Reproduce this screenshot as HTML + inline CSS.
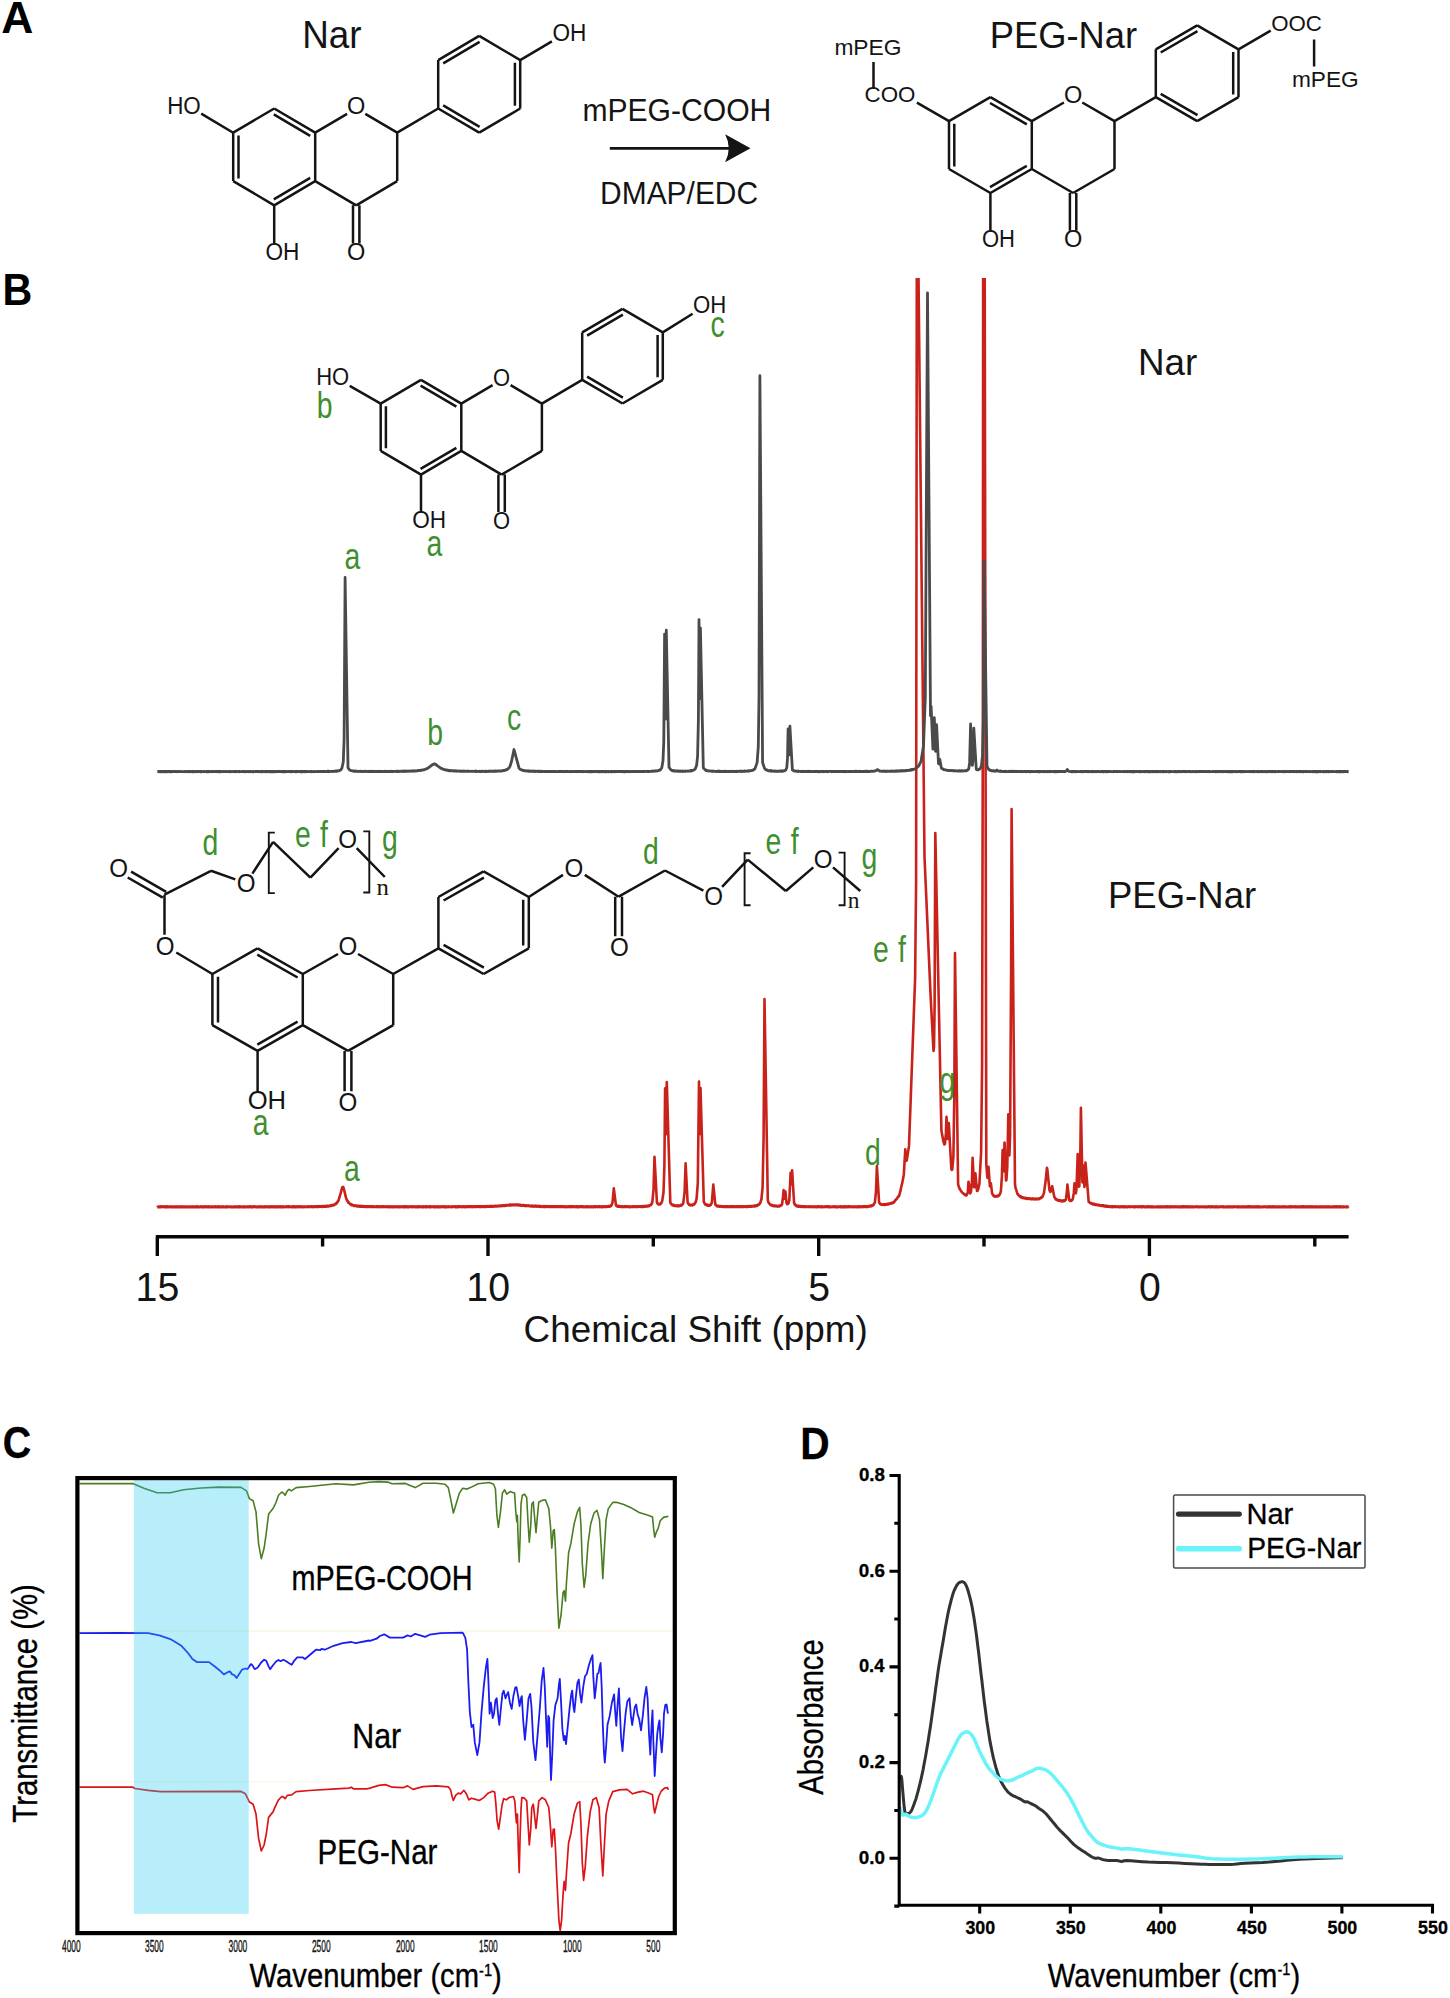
<!DOCTYPE html>
<html lang="en"><head><meta charset="utf-8"><title>Figure</title>
<style>
html,body{margin:0;padding:0;background:#fff}
svg{display:block;font-family:"Liberation Sans",Arial,Helvetica,sans-serif}
text{white-space:pre}
</style></head><body>
<svg width="1450" height="1998" viewBox="0 0 1450 1998">
<rect width="1450" height="1998" fill="#fff"/>
<g fill="none" stroke="#141414" stroke-linecap="butt" stroke-linejoin="miter">
<path d="M274.2,108.5 L315.2,132.7 M315.2,132.7 L315.2,181.1 M315.2,181.1 L274.2,205.3 M274.2,205.3 L233.2,181.1 M233.2,181.1 L233.2,132.7 M233.2,132.7 L274.2,108.5 M273.8,114.4 L310.2,135.9 M238.5,135.4 L238.5,178.4 M273.8,199.4 L310.2,177.9 M315.2,132.7 L347.1,113.9 M365.3,113.9 L397.2,132.7 M397.2,132.7 L397.2,181.1 M397.2,181.1 L356.2,205.3 M356.2,205.3 L315.2,181.1 M353,205.3 L353,243.6 M359.4,205.3 L359.4,243.6 M274.2,205.3 L274.2,243.1 M397.2,132.7 L438.2,108.5 M438.2,108.5 L438.2,60.1 M438.2,60.1 L479.2,35.9 M479.2,35.9 L520.2,60.1 M520.2,60.1 L520.2,108.5 M520.2,108.5 L479.2,132.7 M479.2,132.7 L438.2,108.5 M443.2,63.3 L479.6,41.8 M514.9,62.8 L514.9,105.8 M479.6,126.8 L443.2,105.3" stroke-width="2.5"/>
<path d="M233.2,132.7 L201.2,113.6 M520.2,60.1 L551.9,41.3" stroke-width="2.5"/>
<path d="M609.8,148.3 L733,148.3" stroke-width="2.7"/>
<path d="M750.5,148.3 L725.1,134.3 Q732.5,148.3 725.1,162.2 Z" fill="#141414" stroke="none"/>
<path d="M990.4,97.2 L1031.8,121.1 M1031.8,121.1 L1031.8,169 M1031.8,169 L990.4,193 M990.4,193 L949,169 M949,169 L949,121.1 M949,121.1 L990.4,97.2 M990,103 L1026.8,124.3 M954.3,123.7 L954.3,166.4 M990,187.1 L1026.8,165.8 M1031.8,121.1 L1063.9,102.5 M1082.3,102.5 L1114.5,121.1 M1114.5,121.1 L1114.5,169 M1114.5,169 L1073.1,193 M1073.1,193 L1031.8,169 M1069.9,193 L1069.9,230.7 M1076.3,193 L1076.3,230.7 M990.4,193 L990.4,230.8 M1114.5,121.1 L1155.8,97.2 M1155.8,97.2 L1155.8,49.3 M1155.8,49.3 L1197.2,25.3 M1197.2,25.3 L1238.5,49.3 M1238.5,49.3 L1238.5,97.2 M1238.5,97.2 L1197.2,121.1 M1197.2,121.1 L1155.8,97.2 M1160.7,52.5 L1197.5,31.2 M1233.2,51.9 L1233.2,94.5 M1197.5,115.2 L1160.7,93.9" stroke-width="2.5"/>
<path d="M949,121.1 L916.9,102.6 M873.5,62 L873.5,88.5 M1238.5,49.3 L1270.7,30.6 M1314.1,39.6 L1314.1,66.4" stroke-width="2.5"/>
</g>
<g fill="#141414" stroke="none">
<text x="347.1" y="114.4" font-size="23.5" textLength="18.3" lengthAdjust="spacingAndGlyphs">O</text>
<text x="347.1" y="260.4" font-size="23.5" textLength="18.3" lengthAdjust="spacingAndGlyphs">O</text>
<text x="265.4" y="259.6" font-size="23.5" textLength="33.9" lengthAdjust="spacingAndGlyphs">OH</text>
<text x="167.2" y="113.9" font-size="23.5" textLength="33.6" lengthAdjust="spacingAndGlyphs">HO</text>
<text x="552.4" y="41.2" font-size="23.5" textLength="33.9" lengthAdjust="spacingAndGlyphs">OH</text>
<text x="302.3" y="48" font-size="38" textLength="59.3" lengthAdjust="spacingAndGlyphs">Nar</text>
<text x="582.4" y="121" font-size="31.8" textLength="188.9" lengthAdjust="spacingAndGlyphs">mPEG-COOH</text>
<text x="600.1" y="203.7" font-size="31.5" textLength="158" lengthAdjust="spacingAndGlyphs">DMAP/EDC</text>
<text x="1064" y="103.1" font-size="23.5" textLength="18.3" lengthAdjust="spacingAndGlyphs">O</text>
<text x="1064" y="247.2" font-size="23.5" textLength="18.3" lengthAdjust="spacingAndGlyphs">O</text>
<text x="982" y="246.7" font-size="23.5" textLength="33" lengthAdjust="spacingAndGlyphs">OH</text>
<text x="834.4" y="54.9" font-size="22" textLength="67.1" lengthAdjust="spacingAndGlyphs">mPEG</text>
<text x="864.6" y="102.4" font-size="22.5" textLength="50.9" lengthAdjust="spacingAndGlyphs">COO</text>
<text x="1271.2" y="31" font-size="22.5" textLength="50.7" lengthAdjust="spacingAndGlyphs">OOC</text>
<text x="1291.9" y="87" font-size="22" textLength="66.8" lengthAdjust="spacingAndGlyphs">mPEG</text>
<text x="989.7" y="47.5" font-size="37.6" textLength="147.4" lengthAdjust="spacingAndGlyphs">PEG-Nar</text>
<text x="1.2" y="32.5" font-size="44" textLength="32.1" lengthAdjust="spacingAndGlyphs" font-weight="bold" fill="#000">A</text>
</g>
<g fill="none" stroke="#141414" stroke-linecap="butt" stroke-linejoin="miter">
<path d="M421,379.9 L461.3,403.6 M461.3,403.6 L461.3,450.9 M461.3,450.9 L421,474.6 M421,474.6 L380.7,450.9 M380.7,450.9 L380.7,403.6 M380.7,403.6 L421,379.9 M420.6,385.7 L456.4,406.7 M385.9,406.2 L385.9,448.3 M420.6,468.8 L456.4,447.8 M461.3,403.6 L492.6,385.1 M510.6,385.1 L541.9,403.6 M541.9,403.6 L541.9,450.9 M541.9,450.9 L501.6,474.6 M501.6,474.6 L461.3,450.9 M498.4,474.6 L498.4,512 M504.8,474.6 L504.8,512 M421,474.6 L421,512.2 M541.9,403.6 L582.2,379.8 M582.2,379.8 L582.2,332.4 M582.2,332.4 L622.5,308.8 M622.5,308.8 L662.8,332.4 M662.8,332.4 L662.8,379.8 M662.8,379.8 L622.5,403.5 M622.5,403.5 L582.2,379.8 M587.1,335.6 L622.9,314.6 M657.6,335.1 L657.6,377.2 M622.9,397.7 L587.1,376.7" stroke-width="2.5"/>
<path d="M380.7,403.6 L349.7,385.8 M662.8,332.4 L692.6,313.7" stroke-width="2.5"/>
<path d="M257.6,948.3 L302.8,974 M302.8,974 L302.8,1025.2 M302.8,1025.2 L257.6,1050.9 M257.6,1050.9 L212.4,1025.2 M212.4,1025.2 L212.4,974 M212.4,974 L257.6,948.3 M257.3,954.6 L297.6,977.5 M218,976.8 L218,1022.4 M257.3,1044.6 L297.6,1021.7 M302.8,974 L338,954 M358,954 L393.2,974 M393.2,974 L393.2,1025.2 M393.2,1025.2 L348,1050.9 M348,1050.9 L302.8,1025.2 M344.6,1050.9 L344.6,1091.2 M351.4,1050.9 L351.4,1091.2 M257.6,1050.9 L257.6,1092.7 M393.2,974 L438.4,948.3 M438.4,948.3 L438.4,897 M438.4,897 L483.6,871.4 M483.6,871.4 L528.8,897 M528.8,897 L528.8,948.3 M528.8,948.3 L483.6,974 M483.6,974 L438.4,948.3 M443.6,900.5 L483.9,877.7 M523.2,899.8 L523.2,945.5 M483.9,967.6 L443.6,944.8" stroke-width="2.5"/>
<path d="M212.4,974 L176.3,952.5 M164.5,934.8 L164.5,894.7 M166.2,891.8 L131.1,871.6 M162.8,897.6 L127.7,877.5 M164.5,894.7 L211,870.8 M211,870.8 L235.3,879.4 M252.4,873.6 L273.1,841.9 M273.1,841.9 L310.4,877.6 M310.4,877.6 L338.6,848.2 M356.7,848.1 L384.8,877 M528.8,897 L563,874.9 M584.8,874.9 L618.6,896.7 M615.2,896.7 L615.2,936.3 M622,896.7 L622,936.3 M618.6,896.7 L665,870.5 M665,870.5 L703.4,890.7 M722.1,886.9 L747.7,859.6 M747.7,859.6 L785.8,891 M785.8,891 L813.3,867.4 M833,867.4 L860.3,891" stroke-width="2.5"/>
<path d="M274.8,832.6 L268.8,832.6 L268.8,893.1 L274.8,893.1 M363.3,831.4 L369.3,831.4 L369.3,892.5 L363.3,892.5 M750.6,853.2 L744.6,853.2 L744.6,905.3 L750.6,905.3 M838.6,852.6 L844.6,852.6 L844.6,905.3 L838.6,905.3" stroke-width="1.9"/>
<clipPath id="cpB"><rect x="150" y="278" width="1210" height="960"/></clipPath>
<path d="M157.4,1207.1 157.5,1206.9 157.7,1207 157.9,1206.8 158.2,1207.2 158.3,1206.7 158.5,1207.1 158.7,1206.5 158.8,1206.9 158.9,1206.7 159,1206.9 159.2,1206.8 159.3,1207.1 159.5,1206.6 159.7,1206.9 159.9,1206.8 160,1207.2 160.2,1206.7 160.5,1207.2 160.7,1206.6 160.8,1206.9 161,1206.6 161.2,1206.7 161.3,1206.6 161.4,1207 161.5,1206.7 161.7,1206.9 161.8,1206.6 162.2,1207.1 162.4,1206.6 162.5,1206.9 162.7,1206.8 162.8,1207 163.4,1206.8 163.5,1206.6 163.7,1206.8 164,1206.5 164.3,1207.1 164.5,1206.6 164.8,1206.8 164.9,1206.7 165,1207.1 165.2,1206.7 165.5,1207.2 165.8,1206.5 165.9,1207.2 166,1206.7 166.3,1207.1 166.7,1206.6 166.8,1207.2 166.9,1206.8 167,1207.2 167.2,1206.7 167.3,1207 167.5,1206.6 167.7,1206.9 167.8,1206.5 168,1207.2 168.2,1206.8 168.3,1207.2 168.7,1206.8 168.9,1207.2 169,1206.6 169.2,1207 169.3,1206.6 169.5,1207 170.3,1206.8 170.4,1206.6 170.7,1206.9 170.8,1206.7 170.9,1207.1 171.2,1206.6 171.5,1207.2 171.8,1206.8 171.9,1207.2 172.2,1206.8 172.3,1207.2 172.4,1206.8 172.5,1206.9 172.7,1206.8 172.8,1207 173,1206.7 173.2,1207.2 173.5,1206.6 173.7,1207.1 173.9,1206.8 174.4,1207 174.5,1206.8 174.8,1207 174.9,1206.7 175,1207.2 175.3,1206.7 175.5,1207.1 175.7,1206.7 175.9,1207.1 176.2,1206.8 176.3,1207.2 176.7,1206.7 176.8,1206.9 176.9,1206.6 177,1207.1 177.4,1206.6 177.8,1207.2 177.9,1206.9 178,1207.1 178.3,1206.7 178.4,1207.1 178.7,1206.7 178.9,1206.7 179.2,1207.1 179.4,1206.7 179.5,1207 180,1207 180.2,1206.6 180.4,1207.2 180.5,1206.6 180.8,1206.5 180.9,1206.9 181.2,1206.6 181.3,1207.1 181.5,1206.7 182.3,1207.2 182.4,1206.8 182.5,1207 182.7,1206.7 182.8,1207.2 182.9,1206.6 183,1206.8 183.4,1206.6 183.7,1207.2 183.8,1206.7 183.9,1207.1 184.2,1206.8 184.4,1206.9 184.5,1206.6 184.9,1207.1 185,1206.6 185.2,1206.9 185.3,1206.7 185.5,1207.1 185.8,1206.7 185.9,1207.1 186.2,1206.6 186.4,1206.7 186.5,1207.2 186.8,1206.6 186.9,1207.2 187.3,1206.9 187.5,1206.9 187.7,1206.7 187.8,1207.2 188.3,1207.2 188.4,1206.6 188.7,1207.2 188.8,1206.9 189.2,1207 189.4,1206.8 189.7,1207.1 189.9,1207.2 190.2,1206.7 190.4,1207.2 190.9,1206.7 191,1207 191.2,1206.7 191.5,1207 191.8,1206.7 191.9,1206.9 192,1206.8 192.3,1207.1 192.5,1206.8 192.7,1207.2 193.2,1206.6 193.3,1207 193.4,1206.6 193.7,1207.1 193.8,1206.9 193.9,1207.2 194,1206.7 194.2,1206.8 194.8,1206.8 194.9,1207.2 195,1206.8 195.2,1207.2 195.4,1206.7 195.5,1207.2 195.8,1207.2 195.9,1206.6 196.2,1207.2 196.3,1206.6 196.4,1207.2 196.5,1206.6 196.9,1206.6 197,1206.8 197.2,1206.7 197.3,1207.2 197.4,1206.7 197.5,1206.9 197.7,1206.7 197.8,1207.2 198,1206.6 198.2,1207.2 198.5,1206.7 198.8,1207.1 199.2,1206.7 199.8,1206.9 199.9,1207.2 200.2,1206.6 200.3,1206.9 200.4,1206.7 200.5,1207.1 200.8,1206.7 201.2,1206.9 201.4,1206.6 201.7,1207.2 201.9,1206.6 202.2,1206.9 202.3,1206.7 202.4,1207.1 202.7,1207.1 202.8,1206.8 203,1207.1 203.3,1206.6 203.4,1207 203.5,1206.7 203.7,1206.9 203.8,1206.6 204.3,1207.2 204.4,1206.9 204.7,1207.1 205,1206.7 205.2,1207.1 205.3,1206.5 205.4,1206.9 205.7,1206.9 205.9,1206.7 206.2,1206.9 206.4,1206.6 206.5,1207 206.8,1206.6 207.2,1207.1 207.5,1206.6 207.9,1207.1 208.2,1207.1 208.5,1206.6 208.7,1207.1 208.8,1206.6 208.9,1207 209.2,1206.7 209.4,1207.2 209.5,1206.7 209.7,1207 210,1206.8 210.2,1207.2 210.5,1206.9 210.7,1207.1 210.9,1206.6 211,1207 211.2,1206.9 211.3,1207.2 211.5,1206.8 211.7,1207.2 211.9,1206.6 212,1207.2 212.2,1206.6 212.3,1207 212.5,1206.7 212.7,1207 213,1206.7 213.2,1207 213.4,1206.6 213.8,1207.2 213.9,1206.9 214,1207 214.4,1206.8 214.5,1207.1 214.8,1206.8 214.9,1207.1 215,1206.6 215.3,1207.1 215.4,1206.6 215.5,1207.1 215.8,1206.7 216.7,1207.2 216.9,1206.7 217,1206.9 217.2,1206.7 217.4,1207 217.7,1206.6 217.8,1207.2 217.9,1206.9 218,1207.1 218.2,1206.7 218.5,1207 218.8,1206.7 218.9,1207 219,1206.6 219.2,1207.2 219.5,1207.2 219.7,1206.7 220,1207.1 220.5,1206.7 220.8,1207.1 220.9,1207 221,1207.1 221.3,1206.8 221.5,1207.1 221.7,1206.7 221.8,1207.2 222.2,1206.6 222.3,1207 222.8,1206.5 223,1207 223.2,1206.6 223.3,1206.9 223.5,1206.7 223.7,1207.2 223.8,1206.7 224.4,1207.1 224.5,1206.9 224.7,1207.2 224.9,1206.8 225.2,1206.8 225.4,1206.6 225.5,1207.1 225.7,1206.7 225.9,1207.2 226,1207 226.3,1207.2 226.5,1206.6 226.7,1207 226.8,1206.6 227,1207.1 227.2,1206.6 227.3,1206.8 227.4,1206.6 227.8,1207 228,1206.6 228.3,1206.9 228.4,1206.7 228.9,1207.2 229.4,1206.7 229.7,1206.9 229.8,1206.8 229.9,1207 230.2,1206.7 230.4,1207.1 230.5,1206.6 230.9,1207 231.2,1206.8 231.4,1207.2 231.7,1206.7 231.8,1207.1 231.9,1206.9 232.3,1207.1 232.4,1206.9 232.9,1207.1 233,1206.9 233.3,1207.2 233.7,1206.7 233.8,1207.2 234,1207 234.2,1207.2 234.3,1206.6 234.5,1207.2 234.7,1206.9 234.8,1207.1 234.9,1206.8 235.3,1207.2 235.4,1206.7 235.5,1207 235.7,1206.7 235.8,1206.9 235.9,1206.6 236.3,1207 236.4,1206.7 236.8,1207.2 237,1206.6 237.4,1207.2 237.9,1207.2 238.2,1206.6 238.3,1207.1 238.4,1206.5 238.5,1206.9 238.9,1206.6 239,1207.2 239.4,1206.6 239.5,1207.2 239.8,1206.6 239.9,1207.1 240.4,1206.6 240.5,1207.1 240.9,1206.6 241,1206.8 241.2,1206.6 241.3,1207 241.5,1207.1 241.7,1206.7 242,1207.1 242.2,1206.7 242.4,1206.7 242.5,1207 242.7,1206.9 242.8,1207.1 242.9,1206.7 243,1207.2 243.3,1206.7 243.5,1207.2 243.8,1206.6 243.9,1206.8 244.2,1206.6 244.3,1206.9 244.4,1206.6 244.9,1207.2 245.2,1206.6 245.3,1207.2 245.4,1206.8 245.7,1207.2 245.8,1206.8 246,1207.2 246.4,1206.8 246.5,1207.2 246.8,1206.5 246.9,1207.1 247,1206.8 247.2,1206.9 247.3,1206.7 247.4,1206.8 247.5,1206.7 248,1207.2 248.2,1206.6 248.4,1207.2 248.5,1206.5 248.7,1207.1 248.8,1206.6 248.9,1207.2 249,1206.9 249.2,1207.1 249.3,1206.6 249.8,1206.6 249.9,1207 250,1206.8 250.3,1207.1 250.4,1206.6 250.5,1206.8 250.7,1206.7 250.8,1207.1 251.2,1206.7 251.3,1207.2 251.5,1206.9 251.7,1207.2 251.9,1206.7 252,1206.9 252.3,1206.8 252.4,1207.1 252.7,1206.5 252.8,1207 252.9,1206.9 253,1207.2 253.3,1207.1 253.4,1206.6 253.5,1206.7 253.8,1206.5 253.9,1206.8 254,1206.6 254.3,1206.9 254.7,1206.6 254.8,1206.9 254.9,1206.7 255,1206.9 255.2,1206.5 255.4,1207 255.5,1206.6 255.8,1207.2 255.9,1206.7 256,1207 256.3,1206.8 256.4,1207.2 256.5,1206.7 256.6,1207 256.9,1207 257.1,1206.7 257.4,1207.1 257.6,1206.9 257.9,1207.1 258,1206.7 258.5,1206.6 258.8,1207.1 259.3,1206.8 259.4,1207 259.5,1206.6 259.6,1207 259.9,1206.6 260.3,1207 260.4,1206.7 260.5,1207.2 260.9,1206.8 261.1,1207.2 261.4,1206.7 261.5,1206.9 261.6,1206.5 261.8,1206.7 261.9,1206.5 262,1207.2 262.3,1207.2 262.4,1206.9 262.6,1207.2 262.8,1206.8 262.9,1207.2 263.1,1207 263.3,1206.7 263.6,1207.2 264.1,1206.6 264.5,1207.1 264.8,1206.7 264.9,1206.9 265,1206.6 265.5,1207.2 265.9,1206.6 266,1206.9 266.3,1206.6 266.6,1206.9 266.8,1206.8 267,1207.1 267.3,1206.5 267.6,1207 267.9,1206.6 268,1206.9 268.1,1206.5 268.3,1207.1 268.5,1206.8 268.6,1206.9 269,1206.6 269.3,1207.2 269.6,1206.9 269.8,1207 270,1206.6 270.1,1207.1 270.3,1206.7 270.4,1206.9 270.8,1206.5 271,1207.1 271.1,1206.6 271.3,1207.1 271.5,1206.6 271.8,1207 272,1206.5 272.1,1207 272.6,1207 272.8,1206.5 272.9,1207.2 273.3,1207.2 273.6,1206.6 273.8,1206.8 273.9,1206.6 274,1207.2 274.3,1206.5 274.4,1207.2 274.6,1206.9 274.8,1207 274.9,1206.8 275,1207.2 275.3,1206.5 275.4,1207.1 275.5,1206.6 275.6,1207.1 275.8,1206.5 276.3,1207.2 276.4,1206.7 276.6,1207.1 276.9,1206.6 277,1207.2 277.1,1206.5 277.5,1207.1 277.8,1206.5 278.3,1207.1 278.5,1206.6 278.6,1207.1 279.1,1206.5 279.3,1207 279.5,1206.5 279.6,1206.9 279.8,1206.7 280,1207.2 280.4,1206.6 281,1206.8 281.1,1206.6 281.3,1207.1 281.5,1206.5 281.8,1207.1 281.9,1206.5 282.1,1207.1 282.5,1207.2 282.6,1206.5 282.8,1206.9 282.9,1206.6 283.1,1207.2 283.3,1206.6 283.5,1206.5 283.8,1206.8 283.9,1206.7 284,1207.1 284.1,1206.8 284.4,1207.1 284.5,1206.8 284.6,1207 285.1,1206.9 285.8,1206.6 285.9,1207 286,1206.5 286.3,1207.1 286.5,1206.7 286.6,1206.9 286.8,1206.7 286.9,1207 287,1206.5 287.4,1206.8 287.6,1206.5 287.9,1206.9 288,1206.8 288.1,1207.1 288.4,1206.6 288.6,1207.1 288.8,1206.6 288.9,1206.9 289,1206.5 289.3,1207 289.5,1206.6 289.6,1206.9 289.8,1206.6 290.1,1207 290.5,1206.9 290.8,1206.6 291,1207.1 291.4,1206.7 291.6,1207.1 291.9,1207 292,1207.2 292.3,1206.5 292.4,1206.8 292.9,1206.5 293,1206.9 293.1,1206.7 293.3,1207.1 293.4,1206.6 293.5,1206.9 293.8,1206.5 294,1207 294.1,1206.6 294.5,1207.1 294.6,1206.9 294.8,1207.2 294.9,1206.6 295,1207 295.8,1206.7 296,1207.1 296.1,1206.5 296.4,1207.1 296.8,1206.5 297,1207.1 297.1,1206.8 297.3,1206.9 297.4,1206.5 297.6,1206.9 298,1206.5 298.1,1207 298.3,1206.9 298.4,1207.1 298.5,1206.7 298.6,1207.1 298.8,1206.5 299.1,1207.1 299.5,1206.5 299.8,1206.9 299.9,1206.5 300.3,1207 300.5,1206.5 300.6,1207 300.9,1206.7 301,1206.9 301.4,1206.5 301.8,1207.1 301.9,1206.8 302.1,1207 302.3,1206.5 302.4,1207 302.6,1206.5 302.8,1207 302.9,1206.5 303.4,1207.1 303.5,1206.8 303.6,1206.9 303.9,1206.5 304,1207.1 304.3,1206.8 304.6,1206.9 304.8,1206.6 305,1207 305.4,1206.7 305.5,1206.9 305.6,1206.6 305.8,1207 305.9,1206.6 306.1,1207 306.3,1206.6 306.4,1206.8 306.8,1206.7 307,1207.1 307.3,1206.5 307.4,1206.8 307.6,1206.9 307.8,1206.5 308,1206.9 308.3,1206.4 308.4,1206.8 308.5,1206.4 308.8,1207 308.9,1206.6 309,1206.8 309.1,1206.6 309.4,1207 309.6,1206.5 309.9,1206.7 310,1206.5 310.4,1206.7 310.5,1206.5 310.8,1207 310.9,1206.5 311.1,1206.9 311.4,1206.4 311.5,1206.7 311.6,1206.4 312.1,1207 312.4,1206.5 312.5,1206.8 312.8,1206.6 312.9,1206.9 313,1206.6 313.4,1207 313.5,1206.6 313.6,1206.8 313.8,1206.5 313.9,1206.9 314,1206.7 314.1,1206.9 314.4,1206.6 314.6,1207 314.8,1206.7 314.9,1206.9 315,1206.7 315.3,1206.9 315.5,1206.4 316,1206.9 316.3,1206.8 316.4,1206.3 316.5,1206.9 316.6,1206.3 317,1206.8 317.1,1206.3 317.3,1206.8 317.5,1206.6 317.8,1206.8 317.9,1206.3 318.1,1206.4 318.3,1206.3 318.4,1206.9 318.6,1206.4 318.8,1206.8 319,1206.2 319.1,1206.7 319.3,1206.4 319.4,1206.8 319.5,1206.4 319.6,1206.7 319.8,1206.5 319.9,1206.6 320,1206.3 320.3,1206.5 320.4,1206.4 320.5,1206.6 320.6,1206.3 320.8,1206.7 321,1206.5 321.3,1206.8 321.5,1206.4 321.6,1206.7 321.8,1206.3 321.9,1206.5 322,1206.2 322.5,1206.8 322.9,1206.1 323.1,1206.7 323.3,1206.1 323.5,1206.4 323.6,1206.2 323.8,1206.6 324.1,1206.3 324.4,1206.6 324.6,1206.1 324.9,1206.7 325.1,1206.1 325.3,1206.4 325.5,1206 325.8,1206.5 325.9,1206.1 326,1206.6 326.3,1206.1 326.5,1206.6 326.6,1206.2 326.8,1206.3 326.9,1205.9 327,1206.5 327.1,1206 327.3,1206.2 327.4,1205.9 327.5,1206.2 327.6,1206 327.9,1206.3 328.1,1205.9 328.4,1206.2 328.5,1206.1 328.6,1206.3 329.1,1205.9 329.5,1206.2 329.6,1206 329.8,1206.1 329.9,1205.8 330,1206 330.1,1205.6 331,1206 331.1,1205.4 331.4,1205.9 331.5,1205.3 332,1205.7 332.1,1205.1 332.3,1205.6 332.5,1205 332.6,1205.5 332.9,1205.2 333,1205.3 333.1,1204.8 333.4,1205.4 333.5,1205 333.6,1205.3 334,1204.5 334.1,1205.1 334.3,1204.6 334.4,1204.8 334.9,1204.6 335,1204.2 335.1,1204.5 335.3,1203.8 335.4,1204.4 335.5,1203.7 335.8,1204.1 335.9,1203.5 336,1203.6 336.1,1203.3 336.3,1203.4 336.4,1203.2 336.5,1203.5 336.9,1202.5 337,1203 337.4,1201.9 337.5,1202.1 338.1,1200.9 338.3,1201.1 338.5,1200.1 338.6,1200.2 341,1192.2 342.1,1187.6 343,1186.8 343.1,1187.4 343.3,1187.2 344.4,1191 345.9,1197.4 346.5,1199.2 346.6,1199.1 347,1200.2 347.1,1200.1 347.4,1201.3 347.5,1200.8 347.8,1201.6 347.9,1201.4 348.1,1202.4 348.3,1202 348.5,1202.8 348.6,1202.4 348.8,1203 348.9,1202.7 349.3,1203.5 349.5,1203.5 349.9,1204 350.1,1203.7 350.4,1204 350.5,1204.6 350.9,1204.7 351,1204.2 351.5,1205 351.6,1204.9 351.8,1205.2 351.9,1204.6 352.1,1205.2 352.3,1204.8 352.4,1205.3 352.5,1204.9 352.6,1205.3 352.8,1205.1 352.9,1205.5 353,1205 353.3,1205.5 353.5,1205.4 353.8,1205.8 353.9,1205.5 354,1205.9 354.1,1205.3 354.4,1205.9 354.5,1205.8 354.6,1205.9 354.9,1205.7 355.3,1205.9 355.5,1205.6 355.6,1205.9 355.8,1205.7 356.1,1206.2 356.3,1205.7 356.5,1206.1 356.8,1205.8 357.3,1206.4 357.4,1206 357.9,1206.1 358,1206 358.1,1206.4 358.3,1205.8 358.4,1206.4 358.5,1205.9 358.6,1206.4 358.8,1206 359,1206.5 359.6,1205.9 359.8,1206.6 359.9,1206.4 360,1206.6 360.1,1206.1 360.3,1206.3 360.6,1206 360.8,1206.2 360.9,1206.1 361.1,1206.7 361.3,1206.1 361.5,1206.7 361.6,1206.2 361.8,1206.5 361.9,1206.3 362,1206.7 362.3,1206.3 362.4,1206.7 362.6,1206.1 362.8,1206.6 363,1206.3 363.4,1206.3 363.5,1206.8 363.9,1206.2 364,1206.7 364.1,1206.4 364.3,1206.8 364.4,1206.3 364.5,1206.5 364.8,1206.4 364.9,1206.8 365.3,1206.3 365.6,1206.8 365.8,1206.3 366,1206.6 366.3,1206.4 366.5,1206.7 366.8,1206.4 367,1206.9 367.1,1206.3 367.5,1206.7 367.6,1206.3 368,1206.9 368.3,1206.5 368.4,1206.7 368.5,1206.3 368.8,1206.6 369.5,1206.6 369.6,1206.4 369.8,1206.9 369.9,1206.4 370,1206.8 370.1,1206.4 370.3,1206.9 370.6,1206.5 370.8,1206.9 371,1206.9 371.3,1206.6 371.4,1207 371.6,1206.9 371.8,1206.3 371.9,1206.7 372,1206.6 372.1,1206.8 372.4,1206.5 372.6,1207 372.9,1206.7 373,1207 373.1,1206.5 373.4,1206.8 373.8,1206.7 373.9,1206.4 374.3,1207 374.4,1206.7 374.5,1206.8 374.6,1206.7 375,1207 375.3,1207 375.4,1206.5 375.6,1206.9 375.8,1206.6 376,1207 376.1,1206.5 376.3,1206.9 376.4,1206.4 376.5,1207 376.8,1206.9 376.9,1206.5 377.3,1207 377.5,1206.6 377.6,1207 377.8,1206.4 378.3,1206.7 378.4,1206.4 378.5,1206.9 378.9,1207 379,1206.5 379.1,1207 379.3,1206.6 379.4,1206.8 379.5,1206.5 379.9,1206.5 380,1207.1 380.6,1206.5 381.1,1206.9 381.5,1206.5 381.8,1206.9 381.9,1206.7 382,1207 382.1,1206.5 382.3,1207.1 382.4,1206.7 382.6,1207 382.8,1206.7 382.9,1206.8 383,1206.4 383.3,1206.7 383.5,1206.5 383.6,1207 384,1206.4 384.4,1207 384.5,1206.7 384.6,1207 384.8,1206.6 384.9,1206.7 385,1206.5 385.3,1206.9 385.4,1206.5 385.6,1206.9 386.1,1206.8 386.3,1206.9 386.4,1206.4 386.9,1207 387.1,1206.6 387.4,1207 387.5,1206.6 387.8,1206.9 387.9,1206.7 388.4,1206.4 388.5,1207.1 388.8,1206.5 389,1206.7 389.1,1206.5 389.3,1207.1 389.4,1206.6 389.8,1206.9 389.9,1206.7 390,1207.1 390.1,1206.8 390.3,1207 390.4,1206.5 390.6,1206.8 390.8,1206.6 390.9,1206.9 391,1206.8 391.1,1207 391.3,1206.5 391.5,1206.6 391.6,1207.1 391.8,1206.6 391.9,1207.1 392,1206.8 392.3,1207.1 392.5,1206.5 392.8,1206.9 392.9,1206.6 393,1206.9 393.1,1206.5 393.4,1207.1 393.5,1206.5 393.6,1207.1 393.9,1206.6 394,1207.1 394.3,1206.6 394.5,1206.9 394.8,1206.6 395.3,1206.9 395.5,1206.5 395.6,1207.2 396,1206.6 396.3,1207 396.4,1206.6 396.5,1207 396.6,1206.5 396.8,1206.8 396.9,1206.5 397.1,1207 397.3,1206.6 397.6,1207.1 397.8,1206.7 398,1206.9 398.1,1206.6 398.3,1207 398.4,1206.9 398.5,1207.1 398.8,1206.5 399,1207.1 399.3,1206.7 399.4,1207 399.5,1206.5 399.6,1207.1 399.8,1206.6 399.9,1206.7 400,1206.6 400.3,1207.1 400.5,1206.7 400.6,1207.1 401.3,1206.6 401.4,1206.8 401.5,1206.6 402.1,1207.1 402.4,1206.8 402.5,1207.1 402.6,1206.5 402.8,1206.8 403,1206.5 403.1,1207 403.4,1206.5 403.6,1207.1 403.9,1206.5 404.1,1206.9 404.3,1206.7 404.4,1207.1 404.8,1206.6 404.9,1207.1 405,1206.5 405.1,1207.1 405.3,1206.5 405.4,1207 405.8,1206.5 405.9,1206.8 406,1206.7 406.1,1207 406.3,1206.6 406.4,1207.1 406.5,1206.6 406.8,1207.1 406.9,1206.5 407.1,1207.1 407.3,1207 407.4,1207.2 407.8,1206.5 407.9,1206.7 408.3,1206.7 408.6,1207.1 408.8,1206.8 408.9,1207 409,1206.7 409.1,1206.9 409.5,1206.7 409.6,1207.1 409.9,1206.7 410,1207 410.3,1206.5 410.4,1206.9 410.5,1206.5 410.6,1206.7 410.8,1206.5 410.9,1206.8 411.1,1206.7 411.3,1207 411.5,1206.8 412.1,1206.6 412.3,1207.1 412.4,1206.7 412.6,1206.5 412.8,1207.2 413,1206.5 413.1,1206.9 413.3,1206.7 413.8,1206.8 413.9,1206.5 414,1206.8 414.1,1206.6 414.3,1207 414.4,1206.7 414.8,1206.6 414.9,1207.1 415,1206.5 415.3,1207 415.4,1206.8 415.5,1207.1 415.8,1206.6 416,1206.6 416.3,1207.1 416.6,1206.7 416.8,1207 416.9,1206.7 417.1,1207 417.3,1206.6 417.4,1207.1 417.5,1206.8 417.8,1207.1 418.1,1206.7 418.3,1206.9 418.4,1206.5 418.8,1207.2 418.9,1206.5 419.1,1207.1 419.4,1206.7 419.5,1207.1 419.8,1206.7 419.9,1206.9 420.1,1206.5 420.6,1207 421.3,1206.6 421.4,1207 421.6,1206.5 421.8,1207.1 422,1206.5 422.1,1207.1 422.3,1206.6 422.5,1207.1 422.6,1206.7 422.8,1207.2 422.9,1206.6 423,1207 423.3,1206.5 423.4,1207.1 423.5,1206.9 423.6,1207.1 423.8,1206.6 424.1,1207.1 424.3,1206.6 424.4,1207 424.8,1206.8 424.9,1206.9 425,1206.5 425.1,1206.9 425.4,1206.6 425.6,1207.1 425.8,1206.6 425.9,1207 426,1206.5 426.5,1207.1 426.6,1206.6 427.1,1207 427.3,1206.6 427.4,1207.1 427.6,1206.7 428.1,1207 428.4,1206.5 428.6,1207 428.8,1206.5 429,1207.1 429.3,1206.6 429.5,1207.1 429.6,1206.5 429.8,1207.1 430,1206.5 430.3,1206.6 430.4,1207.1 430.5,1206.6 430.8,1207.2 431,1206.5 431.1,1207.1 431.4,1206.5 431.6,1207 431.8,1206.6 431.9,1206.9 432,1206.5 432.4,1206.7 432.5,1207 432.6,1206.7 433.3,1207 433.4,1206.5 433.6,1207.1 433.8,1206.5 433.9,1206.8 434,1206.7 434.3,1207.1 434.5,1206.6 434.6,1207 434.8,1206.5 434.9,1207 435,1206.5 435.1,1207 435.3,1206.9 435.5,1207.1 435.6,1206.8 435.9,1206.8 436,1207 436.3,1206.9 436.4,1206.5 436.5,1207.1 436.8,1206.6 437,1207 437.1,1206.5 437.3,1207.1 437.5,1207.2 437.8,1206.6 438,1207 438.1,1206.6 438.4,1207.1 438.5,1206.7 438.6,1207.1 438.8,1206.8 438.9,1207.1 439.1,1206.6 439.4,1207 439.6,1206.7 439.8,1207.1 440.1,1206.8 440.3,1207 440.4,1206.7 440.5,1207 440.6,1206.5 441.1,1207.1 441.4,1206.5 441.6,1206.8 441.9,1206.5 442.1,1207 442.4,1206.8 442.9,1207 443,1206.6 443.4,1206.8 443.6,1206.7 443.8,1207.1 443.9,1206.6 444.1,1206.9 444.3,1206.5 444.6,1207.1 445,1206.9 445.1,1207.1 445.3,1206.7 445.4,1207 445.5,1206.6 445.8,1206.9 445.9,1206.6 446.1,1207.1 446.3,1207 446.4,1207.1 446.8,1206.5 447,1207 447.5,1206.7 447.6,1207.1 447.8,1206.8 448.1,1206.6 448.3,1206.9 448.4,1206.7 448.5,1207 448.8,1206.7 448.9,1207.1 449.1,1206.8 449.4,1207 449.5,1206.6 449.8,1207 450,1206.8 450.5,1207 450.8,1206.7 450.9,1207.1 451,1206.7 451.1,1206.9 451.3,1206.5 451.5,1207 451.6,1206.6 451.9,1207.1 452.1,1206.5 452.4,1206.7 452.5,1206.4 452.6,1206.7 453.1,1206.5 453.4,1207 453.6,1206.7 453.8,1206.9 454,1206.5 454.3,1206.8 454.4,1206.6 454.5,1207 454.6,1206.6 454.8,1207 454.9,1206.5 455.3,1207 455.4,1206.7 455.5,1206.8 455.6,1206.6 455.8,1207.1 455.9,1206.5 456.1,1206.8 456.3,1206.6 456.6,1206.9 456.8,1206.8 456.9,1207.1 457.1,1206.5 457.4,1207.1 457.5,1206.5 457.6,1206.9 458,1206.6 458.1,1206.9 458.3,1206.6 458.4,1207.1 458.5,1206.5 458.6,1206.9 458.8,1206.7 458.9,1206.9 459,1206.6 459.1,1206.8 459.3,1206.7 459.4,1206.9 459.5,1206.5 459.8,1207 460,1206.4 460.3,1207 460.5,1206.4 460.6,1207 460.9,1206.5 461,1206.9 461.1,1206.6 461.3,1206.9 461.4,1206.6 461.8,1207 462,1206.6 462.4,1207 462.6,1206.4 462.8,1206.6 463,1206.6 463.1,1207 463.4,1206.4 464.1,1206.5 464.4,1207.1 464.5,1206.9 464.6,1207.1 464.9,1206.7 465.3,1207 465.8,1206.4 465.9,1207 466,1206.9 466.1,1207 466.3,1206.4 466.5,1206.6 466.6,1206.5 466.8,1207.1 466.9,1206.4 467,1206.8 467.1,1206.6 467.3,1206.8 467.4,1206.5 467.8,1206.9 467.9,1206.6 468.1,1207 468.4,1206.7 468.5,1206.8 468.8,1206.5 468.9,1206.6 469,1206.5 469.1,1206.8 469.4,1206.4 469.6,1207 470,1206.4 470.5,1207 470.8,1206.3 470.9,1206.9 471.1,1206.5 471.5,1206.9 471.9,1206.4 472,1206.8 472.3,1206.5 472.4,1206.8 472.5,1206.5 472.9,1207 473.1,1206.5 473.4,1207 473.6,1206.9 473.8,1206.5 473.9,1206.9 474.1,1206.6 474.3,1206.8 474.4,1206.4 474.5,1206.7 474.8,1206.5 475,1206.9 475.1,1206.3 475.5,1206.7 475.6,1206.6 475.9,1207 476.1,1206.4 476.3,1206.9 476.4,1206.3 476.5,1206.7 476.6,1206.3 477,1206.8 477.3,1206.3 477.6,1206.6 478,1206.4 478.1,1206.8 478.4,1206.3 478.6,1207 478.9,1206.5 479,1206.7 479.1,1206.3 479.5,1206.9 480,1206.3 480.1,1206.8 480.4,1206.3 480.6,1206.9 480.9,1206.4 481,1206.7 481.4,1206.4 481.5,1206.9 481.8,1206.4 482.3,1206.5 482.4,1206.3 482.6,1206.8 482.9,1206.3 483,1206.7 483.3,1206.3 483.8,1206.5 483.9,1206.8 484.4,1206.5 484.5,1206.8 484.6,1206.4 484.8,1206.8 484.9,1206.6 485,1206.9 485.1,1206.5 485.3,1206.8 485.4,1206.2 485.5,1206.6 485.6,1206.3 485.9,1206.6 486,1206.3 486.1,1206.7 486.5,1206.1 486.8,1206.8 487,1206.2 487.4,1206.7 487.6,1206.3 487.8,1206.7 487.9,1206.2 488,1206.6 488.3,1206.3 488.4,1206.6 488.6,1206.3 488.8,1206.6 489.1,1206.1 489.4,1206.6 489.6,1206.3 489.8,1206.4 489.9,1206.1 490,1206.6 490.3,1206.4 490.4,1206.6 490.8,1206.5 491.1,1206 491.3,1206.6 491.5,1206 491.9,1206.6 492,1206 492.4,1206.6 492.6,1206 492.8,1206.2 492.9,1206 493.3,1206.5 493.6,1206.4 493.9,1206.6 494,1206 494.3,1206 494.4,1206.3 494.8,1206 494.9,1206.4 495.3,1206 495.5,1206.5 495.8,1205.9 495.9,1206.4 496,1206.1 496.1,1206.4 496.4,1206.1 496.5,1206.4 496.8,1206.1 496.9,1206.2 497.1,1205.9 497.3,1206.3 497.5,1205.9 497.9,1206 498.1,1205.9 498.3,1206.2 498.5,1205.9 498.6,1206 498.8,1205.7 498.9,1206.1 499.3,1205.9 499.4,1206.2 499.5,1205.8 499.6,1206.2 499.8,1205.9 500.3,1205.6 500.4,1206.1 500.5,1205.6 500.9,1206.2 501,1205.6 501.1,1206 501.8,1206 501.9,1205.8 502,1205.9 502.4,1205.5 502.5,1205.8 502.9,1205.6 503.1,1205.9 503.3,1205.5 503.5,1205.8 503.6,1205.5 503.8,1205.9 504.1,1205.3 504.3,1205.9 504.5,1205.4 504.6,1205.8 504.8,1205.5 505.1,1205.8 505.4,1205.3 505.5,1205.4 505.8,1205.1 505.9,1205.7 506.1,1205.2 506.5,1205.6 506.9,1205.5 507.1,1205.2 507.4,1205.5 508,1205 508.3,1205.3 508.5,1205.1 508.8,1205.4 509.1,1205 509.3,1205.3 509.4,1205.1 509.5,1205.4 509.6,1205 509.8,1205.1 510,1204.8 510.1,1205.4 510.3,1204.7 510.4,1205.3 510.6,1204.7 510.8,1205.2 511,1205.3 511.1,1204.7 511.3,1204.8 511.4,1204.7 511.6,1205.1 511.8,1204.8 512,1205.1 512.3,1204.8 512.4,1205.1 512.8,1204.7 513,1205 513.4,1204.7 513.5,1205.2 513.8,1205.2 514,1204.6 514.3,1204.8 514.4,1204.6 514.8,1205.1 514.9,1204.9 515,1205.1 515.1,1204.8 515.3,1205.2 515.5,1204.7 515.8,1205.1 515.9,1204.7 516,1205.1 516.1,1204.6 516.3,1204.8 516.4,1204.6 516.9,1205.2 517,1204.6 517.3,1205.2 517.4,1204.7 517.6,1204.9 517.8,1204.7 518.1,1205.2 518.4,1204.9 518.6,1205.2 518.8,1205 518.9,1205.4 519,1204.8 519.3,1205.3 519.5,1205 519.6,1205.4 519.9,1204.9 520,1205.2 520.1,1205 520.3,1205.3 520.4,1204.8 520.8,1205.5 520.9,1205.3 521,1205.6 521.1,1205.3 521.8,1205.4 521.9,1205.3 522,1205.6 522.3,1205 522.4,1205.2 522.5,1205 522.6,1205.6 522.8,1205.3 522.9,1205.6 523,1205.1 523.1,1205.4 523.4,1205.2 523.6,1205.7 523.9,1205.3 524.3,1205.9 524.4,1205.3 524.6,1205.6 524.9,1205.4 525,1205.9 525.3,1205.3 525.5,1205.4 525.6,1205.7 525.8,1205.6 525.9,1205.9 526,1205.5 526.4,1206 526.8,1205.4 526.9,1205.8 527,1205.5 527.1,1206 527.5,1205.9 527.6,1205.6 527.9,1206 528,1205.7 528.1,1205.9 528.3,1205.6 528.5,1205.6 528.9,1205.9 529,1205.6 529.5,1206.2 529.6,1205.7 530,1206.2 530.3,1205.8 530.5,1206.2 530.8,1206 531,1206.3 531.3,1205.9 531.5,1206.4 531.8,1206.3 531.9,1205.9 532,1206.3 532.1,1205.8 532.5,1206.5 532.9,1205.9 533.3,1206.5 533.4,1205.9 533.8,1206.4 534,1206.1 534.4,1206.6 534.6,1206.1 534.8,1206.5 535.1,1206.1 535.3,1206.5 535.4,1205.9 535.8,1206.4 535.9,1205.9 536,1206.3 536.3,1206 536.6,1206.6 536.9,1206.6 537,1206 537.4,1206.4 537.8,1206.2 537.9,1206.4 538.3,1206.1 538.5,1206.6 538.8,1206.1 538.9,1206.5 539,1206.3 539.1,1206.6 539.3,1206.2 539.5,1206.5 539.6,1206.2 539.9,1206.8 540.1,1206.5 540.3,1206.7 540.8,1206.1 541,1206.7 541.3,1206.5 541.4,1206.8 541.5,1206.3 541.6,1206.6 541.8,1206.3 542.5,1206.8 542.6,1206.5 542.9,1206.7 543,1206.3 543.4,1206.8 543.5,1206.3 543.8,1206.8 544,1206.2 544.1,1206.7 544.4,1206.2 544.9,1206.9 545,1206.3 545.3,1206.8 545.4,1206.4 545.5,1206.8 545.6,1206.4 545.8,1206.6 545.9,1206.4 546.1,1206.8 546.4,1206.4 546.6,1206.9 547,1206.2 547.1,1206.6 547.3,1206.3 547.5,1206.7 547.8,1206.3 548,1206.6 548.1,1206.4 548.3,1206.8 548.8,1206.5 548.9,1206.8 549.1,1206.6 549.3,1206.9 549.5,1206.3 550.3,1206.8 550.4,1206.3 550.6,1206.8 550.8,1206.5 550.9,1207 551.3,1206.4 551.5,1206.9 551.6,1206.3 551.8,1207 552.1,1206.3 552.5,1206.8 552.8,1206.9 552.9,1206.4 553,1206.6 553.1,1206.5 553.3,1206.8 553.5,1206.4 553.6,1206.8 553.8,1206.3 553.9,1206.8 554.1,1206.3 554.3,1206.7 554.4,1206.4 554.6,1206.7 554.8,1206.4 555,1207 555.3,1206.6 555.5,1207 555.6,1206.4 555.8,1206.8 555.9,1206.4 556.1,1206.9 556.5,1206.4 556.8,1206.9 556.9,1206.7 557.4,1207 557.5,1206.4 557.8,1206.9 557.9,1206.6 558,1207 558.1,1206.5 558.6,1206.7 558.8,1206.5 559.1,1207 559.3,1206.4 559.5,1207 559.6,1206.7 559.8,1207 560,1206.5 560.1,1206.9 560.4,1206.4 560.6,1206.4 560.8,1207 560.9,1206.4 561.1,1207 561.3,1206.4 561.4,1207 561.5,1206.4 561.6,1207 562.3,1206.5 562.4,1207 562.5,1206.6 562.6,1206.8 562.8,1206.4 563.1,1207 563.3,1206.4 563.5,1206.9 563.8,1206.5 563.9,1206.8 564.1,1206.7 564.4,1207 564.8,1206.6 564.9,1206.9 565.1,1206.5 565.5,1207.1 565.6,1206.4 565.9,1206.9 566,1206.6 566.4,1206.8 566.5,1206.6 566.9,1206.9 567.1,1206.5 567.4,1207 567.6,1206.6 567.9,1207.1 568,1206.5 568.3,1207 568.4,1206.6 568.5,1206.7 569,1206.5 569.1,1206.8 569.3,1206.5 569.4,1206.8 569.5,1206.6 569.6,1206.9 569.8,1206.7 569.9,1207 570,1206.5 570.1,1207 570.6,1206.5 570.9,1207.1 571,1206.4 571.1,1206.9 571.3,1206.5 571.5,1206.8 571.9,1206.6 572.1,1207 572.3,1206.7 572.4,1207 572.5,1206.5 572.6,1207 572.9,1206.7 573,1206.9 573.1,1206.5 573.4,1206.9 573.6,1206.6 574,1206.9 574.4,1206.5 574.5,1206.9 574.6,1206.6 574.8,1207 575,1207 575.1,1206.5 575.3,1207.1 575.8,1206.7 575.9,1207 576.1,1206.6 576.4,1207 576.5,1206.5 576.6,1207.1 576.9,1207 577,1206.5 577.1,1206.9 577.5,1206.5 577.6,1207.1 578,1206.7 578.1,1207 578.4,1206.7 578.5,1207.1 578.6,1206.9 578.8,1207.1 578.9,1206.5 579,1207.1 579.3,1206.7 579.4,1207 579.5,1206.7 579.6,1206.9 579.8,1206.4 580.1,1207 580.6,1206.6 580.8,1206.8 580.9,1206.5 581,1206.8 581.3,1206.5 581.5,1206.8 581.8,1206.6 581.9,1206.9 582.1,1206.6 582.4,1206.9 582.5,1206.8 582.6,1207.1 582.9,1206.4 583,1207 583.1,1206.6 583.3,1207.1 583.5,1206.8 583.6,1206.9 583.9,1206.5 584.1,1207 584.3,1206.5 584.8,1207.1 585,1206.7 585.6,1206.8 585.8,1206.7 586.1,1207 586.4,1206.5 586.5,1207 586.6,1206.6 587,1207 587.1,1206.5 587.5,1207.1 587.6,1206.6 587.9,1207.1 588.3,1206.8 588.4,1207 588.5,1206.5 589.1,1207.1 589.3,1206.7 589.4,1206.9 589.6,1206.5 589.9,1206.9 590.1,1206.8 590.3,1207.1 590.5,1206.9 590.6,1207.1 590.8,1206.6 591.1,1207.1 591.3,1206.6 591.4,1206.9 591.5,1206.5 591.8,1207 591.9,1206.6 592.1,1206.9 592.3,1206.6 592.6,1207.1 592.8,1206.7 593.1,1207.1 593.3,1206.6 593.4,1206.9 593.6,1206.5 593.9,1207 594,1206.5 594.1,1206.7 594.4,1206.5 594.5,1206.9 594.8,1206.5 595.1,1207.1 595.3,1206.7 595.4,1206.9 595.5,1206.5 595.6,1207.1 595.9,1206.6 596.3,1206.7 596.6,1206.5 596.9,1206.8 597,1206.8 597.3,1206.9 597.6,1206.9 597.8,1207.1 597.9,1206.4 598,1206.9 598.6,1206.5 598.8,1206.7 598.9,1206.5 599,1206.9 599.3,1206.9 599.4,1206.4 599.5,1207 599.8,1206.6 600,1207.1 600.4,1206.8 600.9,1207 601,1206.7 601.3,1207 601.4,1206.4 601.6,1206.8 601.8,1206.7 602,1207.1 602.3,1206.4 602.4,1207 602.6,1206.5 602.8,1207.1 602.9,1206.7 603,1206.9 603.4,1206.5 603.6,1207 603.8,1206.6 604.1,1206.9 604.5,1206.8 604.6,1206.4 604.8,1206.9 604.9,1206.4 605,1206.9 605.1,1206.6 605.8,1206.9 605.9,1206.7 606,1206.9 606.1,1206.4 606.5,1206.5 606.8,1207 607,1206.3 607.1,1206.6 607.3,1206.3 607.4,1206.7 607.8,1206.3 607.9,1206.6 608.3,1206.7 608.5,1206.2 608.8,1206.7 608.9,1206.2 609,1206.4 609.1,1206.2 609.4,1206.6 609.5,1206.2 609.6,1206.6 609.8,1206 609.9,1206.5 610,1206.3 610.1,1206.5 610.4,1205.9 610.5,1206.3 610.9,1206.1 611,1205.7 611.1,1205.8 611.8,1204.4 611.9,1204.6 612.5,1202.5 613.8,1188.3 616,1205.7 616.3,1205.2 616.4,1205.9 616.5,1205.6 616.9,1205.8 617,1206.4 617.3,1205.9 617.4,1206.1 617.5,1206 617.6,1206.6 617.8,1206.1 617.9,1206.4 618,1206.1 618.3,1206.5 618.4,1206.4 618.5,1206.8 618.6,1206.1 619.4,1206.7 619.6,1206.2 619.9,1206.4 620,1206.8 620.5,1206.3 621,1206.9 621.3,1206.3 621.6,1206.5 622.1,1207 622.4,1206.3 623,1207 623.3,1206.8 623.5,1206.9 623.6,1206.6 623.9,1206.9 624,1206.5 624.1,1206.9 624.3,1206.6 624.4,1206.9 624.5,1206.6 624.6,1207 624.9,1206.5 625,1206.9 625.1,1206.6 625.4,1207 625.6,1206.7 625.8,1207 625.9,1206.7 626.1,1206.8 626.4,1206.4 626.6,1206.9 626.9,1206.5 627.3,1206.8 627.4,1206.6 627.5,1206.7 627.6,1206.5 627.9,1207 628,1206.5 628.1,1206.7 628.5,1206.5 628.6,1206.8 628.8,1206.5 629.3,1207 629.9,1206.4 630,1206.7 630.1,1206.6 630.3,1207.1 630.4,1206.6 630.5,1206.7 630.6,1206.5 630.8,1206.8 630.9,1206.6 631,1206.7 631.1,1206.5 631.3,1206.8 631.5,1206.5 631.8,1206.7 631.9,1206.6 632,1206.7 632.3,1206.4 632.4,1206.7 632.5,1206.6 632.6,1207 632.8,1206.4 633.1,1207 633.3,1206.5 633.8,1206.9 634,1206.4 634.3,1207 634.5,1207 634.9,1206.4 635.3,1207 635.8,1206.8 636,1206.4 636.1,1206.8 636.3,1206.5 636.5,1206.8 636.6,1206.5 636.9,1207 637,1206.3 637.3,1206.7 637.5,1206.4 637.6,1206.7 637.8,1206.4 637.9,1206.9 638,1206.4 638.5,1206.9 638.6,1206.7 638.8,1206.9 639,1206.3 639.1,1206.8 639.3,1206.4 639.6,1206.4 639.8,1206.6 639.9,1206.4 640,1206.8 640.1,1206.5 640.5,1206.8 640.6,1206.3 641,1206.6 641.1,1206.3 641.4,1206.8 641.5,1206.3 642,1206.4 642.1,1206.7 642.3,1206.2 642.5,1206.8 642.6,1206.3 642.9,1206.8 643,1206.2 643.1,1206.7 643.3,1206.6 643.4,1206.8 644,1206.2 644.3,1206.5 644.4,1206.1 644.5,1206.6 644.8,1206.4 644.9,1206.5 645,1206.4 645.1,1206.7 645.3,1206.6 645.4,1206.7 645.5,1206.4 645.6,1206.5 645.8,1206.1 646,1206.5 646.1,1206.2 646.3,1206.5 646.4,1206.1 646.6,1206.5 646.9,1205.9 647,1206.4 647.5,1205.8 647.6,1206.4 647.9,1205.9 648,1206.1 648.3,1206 648.4,1206.3 648.6,1205.6 648.8,1206 649.3,1205.5 649.4,1206 649.5,1205.6 649.6,1205.9 649.9,1205.3 650.1,1205.4 650.3,1205 650.5,1204.8 650.8,1205 651,1204.7 651.1,1204.9 651.4,1203.9 651.6,1204.1 651.9,1203.1 652,1203.3 652.1,1202.2 652.3,1202.4 653.5,1189.8 654.5,1156.7 656.9,1202.2 657.1,1202.9 657.3,1202.8 657.4,1203.4 657.5,1203.2 657.6,1203.8 657.8,1203.4 658,1204.2 658.3,1203.8 658.5,1204.2 658.6,1204 658.8,1204.4 659.3,1204.5 659.6,1204.1 659.8,1204.2 659.9,1204 660,1204.2 660.1,1203.8 660.3,1204.3 660.5,1203.5 660.6,1203.6 660.9,1203.1 661,1203.6 661.9,1201.9 662,1201.3 662.1,1201.6 663.5,1192.5 664.4,1165.4 665.1,1088.5 665.3,1088.2 666,1134.3 666.8,1082 670.3,1202.6 670.4,1202.4 670.6,1203.3 670.8,1203.2 671,1203.9 671.3,1203.7 671.6,1204.5 671.8,1204.3 671.9,1204.7 672.1,1204.7 672.3,1205.1 672.5,1204.7 672.6,1205.2 672.8,1204.8 672.9,1205.4 673,1205.1 673.3,1205.1 673.4,1205.6 673.8,1205.1 673.9,1205.4 674,1205.2 674.1,1205.5 674.3,1205.2 674.4,1205.8 674.5,1205.3 674.8,1205.8 674.9,1205.6 675,1205.7 675.1,1205.3 675.6,1205.9 676.5,1206.1 676.8,1205.5 677,1205.8 677.3,1205.5 677.5,1206.2 677.9,1205.5 678,1206.2 678.3,1205.6 678.4,1206 678.6,1205.6 678.8,1206.1 678.9,1205.7 679,1205.8 679.1,1205.6 679.3,1206 679.4,1205.6 679.5,1206.1 680,1205.7 680.1,1205.8 680.3,1205.3 680.4,1205.6 680.6,1205.6 680.8,1205.2 680.9,1205.7 681,1205.1 681.1,1205.6 681.3,1205 681.4,1205.3 681.5,1205.1 681.6,1205.3 681.8,1204.8 681.9,1205.1 682.5,1204.1 682.6,1204.4 682.8,1203.8 682.9,1204.1 683.1,1203 683.3,1203.2 684.6,1191.8 685.6,1163.2 687.6,1202.2 688.1,1203.6 688.3,1203.4 688.5,1204.1 688.6,1203.8 688.8,1204.4 688.9,1204.1 689,1204.8 689.3,1205 689.4,1204.6 689.5,1204.7 689.9,1204.8 690,1205.3 690.1,1205 690.3,1205.4 690.4,1204.9 690.5,1205.2 690.9,1204.8 691.1,1205.2 691.4,1204.9 691.5,1205.3 692,1204.8 692.3,1205.3 692.4,1204.7 692.5,1205.2 692.6,1204.9 692.8,1205 692.9,1204.6 693,1204.9 693.5,1204.2 693.6,1204.8 693.9,1204.2 694,1204.3 694.1,1203.9 694.4,1204.3 694.5,1203.9 694.6,1203.9 695,1203 695.1,1203.3 695.3,1202.8 695.4,1202.8 695.5,1202.1 695.6,1202.4 696.6,1198.7 697.8,1183.1 699,1081.6 699.8,1134.1 700.5,1088.1 703.8,1202 704,1202.2 705.1,1204.3 705.3,1203.9 705.5,1204.7 705.6,1204.2 705.8,1204.7 705.9,1204.5 706.3,1205.2 706.4,1204.6 706.5,1205.3 706.6,1205.1 706.8,1205.2 706.9,1205 707,1205.2 707.1,1205 707.3,1205.4 707.5,1204.9 707.6,1205.3 707.8,1205 707.9,1205.7 708,1205.1 708.1,1205.5 708.3,1205 708.5,1205.6 708.6,1205.2 708.8,1205.6 709,1205.2 709.3,1205.7 709.4,1205.1 709.5,1205.6 709.6,1205.1 709.9,1205.5 710,1204.9 710.3,1205.2 710.5,1204.6 710.6,1204.9 710.8,1204.4 710.9,1204.9 711.9,1202.2 713.3,1184.6 715.3,1204.3 715.4,1204.1 715.6,1204.9 715.8,1204.8 716,1205.3 716.1,1205.1 716.4,1205.5 716.6,1205.4 716.9,1206.1 717,1205.5 717.1,1206.2 717.3,1206 717.4,1206.3 717.6,1205.9 717.8,1206.4 717.9,1206.1 718,1206.2 718.3,1205.9 718.5,1206.5 718.8,1206.3 718.9,1206.5 719,1206 719.4,1206.5 719.6,1206.2 719.8,1206.6 719.9,1206.4 720.1,1206.7 720.6,1206.1 720.8,1206.3 720.9,1206.2 721.1,1206.3 721.5,1206.3 721.8,1206.7 721.9,1206.3 722,1206.8 722.3,1206.3 722.4,1206.7 722.5,1206.5 722.6,1206.6 722.9,1206.3 723,1206.9 723.3,1206.3 723.4,1206.6 723.5,1206.2 723.6,1206.7 723.8,1206.6 723.9,1206.8 724,1206.3 724.1,1206.6 724.3,1206.4 724.5,1206.8 724.6,1206.4 724.8,1206.9 724.9,1206.3 725.1,1206.8 725.3,1206.6 725.5,1206.6 725.6,1206.3 725.8,1206.7 725.9,1206.6 726.1,1206.9 726.5,1206.3 726.6,1206.6 726.8,1206.4 726.9,1206.6 727,1206.3 727.3,1207 727.4,1206.5 727.8,1206.8 728,1206.4 728.3,1206.7 728.4,1206.6 728.8,1206.9 728.9,1206.5 729,1207 729.1,1206.6 729.4,1206.9 729.6,1206.4 729.8,1206.7 729.9,1206.3 730.3,1206.6 730.4,1207 730.6,1206.5 730.8,1206.8 730.9,1206.3 731.3,1206.9 731.4,1206.4 731.8,1207 731.9,1206.6 732,1207 732.1,1206.4 732.3,1206.9 732.5,1206.4 732.6,1206.8 732.9,1206.5 733.1,1206.7 733.3,1206.4 733.4,1206.9 733.5,1206.6 733.6,1207 733.9,1206.4 734,1206.8 734.1,1206.5 734.5,1206.8 734.6,1206.4 734.9,1207 735.3,1206.6 735.5,1206.8 735.6,1206.5 736.1,1207 736.4,1206.6 736.9,1206.8 737.1,1206.4 737.3,1206.9 737.5,1206.4 737.6,1206.6 737.8,1206.4 737.9,1206.9 738,1206.5 738.1,1206.9 738.5,1207 738.6,1206.5 738.9,1206.8 739,1206.5 739.1,1206.8 739.3,1206.4 739.4,1206.9 739.5,1206.3 739.8,1206.7 739.9,1206.4 740.1,1206.3 740.3,1206.8 740.9,1206.4 741,1206.8 741.1,1206.6 741.3,1206.8 741.4,1206.7 741.5,1207 742,1206.4 742.3,1206.8 742.4,1206.3 742.6,1206.9 742.9,1206.5 743.3,1206.9 743.4,1206.6 743.5,1206.7 743.6,1206.4 743.8,1206.9 743.9,1206.5 744.3,1206.9 744.5,1206.5 744.6,1206.7 745,1206.3 745.4,1206.7 745.5,1206.4 745.8,1206.8 745.9,1206.2 746.1,1206.5 746.3,1206.3 746.4,1206.9 746.5,1206.4 746.9,1206.7 747.1,1206.3 747.4,1206.9 747.5,1206.5 747.9,1206.8 748,1206.5 748.3,1206.6 748.5,1206.2 748.6,1206.7 749.1,1206.2 749.3,1206.7 749.4,1206.2 749.5,1206.8 749.9,1206.2 750,1206.6 750.3,1206.3 750.4,1206.7 750.6,1206.2 750.8,1206.7 751.3,1206.1 751.4,1206.6 751.5,1206.4 751.8,1206.7 752.1,1206 752.3,1206.5 752.5,1206.2 752.6,1206.3 752.8,1206 752.9,1206.5 753.1,1206.5 753.3,1205.9 753.6,1206.5 753.8,1205.9 754.1,1205.8 754.4,1206.1 754.5,1205.8 754.6,1206.3 754.8,1205.8 754.9,1206.1 755.1,1205.7 755.3,1206.3 755.5,1205.7 755.6,1205.9 755.8,1205.5 756,1206 756.5,1205.5 756.8,1205.9 756.9,1205.3 757,1205.7 757.3,1205.2 757.5,1205.6 757.6,1205.2 757.8,1205.4 758.1,1205.2 758.4,1204.6 758.5,1204.8 758.6,1204.3 758.8,1204.8 759.3,1204 759.4,1204.1 759.9,1203.6 760,1203 760.1,1203.2 761.4,1199.5 762.6,1187.3 763.6,1137.4 764.5,999 767.8,1200.1 768.5,1202.5 768.6,1202.4 768.8,1203 768.9,1202.8 769.3,1203.6 769.4,1203.4 770,1204.4 770.1,1204.3 770.5,1205 770.6,1204.8 771,1205.2 771.3,1204.8 771.5,1205.4 771.8,1205.4 771.9,1205.7 772,1205.2 772.1,1205.4 772.3,1205.1 772.5,1205.7 772.6,1205.3 773.3,1206 773.4,1205.5 773.5,1206 773.6,1205.8 773.8,1206.1 773.9,1206 774,1206.2 774.5,1205.6 774.6,1206.2 775,1205.6 775.1,1206.3 775.3,1205.9 775.5,1206 775.8,1205.9 775.9,1206.1 776,1205.8 776.5,1206.3 776.8,1205.8 776.9,1206.3 777,1206 777.3,1206.4 777.4,1206 778.1,1206.2 778.3,1205.8 778.4,1206.4 778.5,1206 778.6,1206.3 778.8,1206.1 778.9,1206.3 779.1,1205.9 779.3,1206.3 779.6,1205.9 779.8,1206.2 780.3,1205.5 780.4,1205.7 780.5,1205.5 780.6,1205.7 780.8,1205.2 780.9,1205.3 781,1205.1 781.1,1205.6 781.6,1204.5 781.8,1204.8 782.1,1204 783.1,1196.2 783.6,1190.1 784.5,1198.7 785,1195.4 785.4,1191.6 786.5,1203 786.6,1202.9 787,1204 787.3,1203.7 787.4,1204.2 787.9,1203.6 788,1203.8 788.1,1203.4 788.3,1203.6 788.6,1202.9 789.3,1200.2 790.6,1172.7 791.4,1184.2 792.1,1170.2 794.1,1203.1 794.4,1203.3 794.6,1204.5 794.8,1204 795.3,1204.8 795.6,1205.4 795.8,1205.1 796.1,1205.9 796.4,1205.5 796.5,1206.1 796.6,1206 796.8,1206.2 796.9,1206 797,1206.3 797.1,1206.1 797.4,1206.4 797.5,1205.8 797.6,1206.4 797.8,1205.8 798.4,1206.4 798.5,1206.2 798.6,1206.6 798.8,1206.2 799,1206.6 799.1,1206 799.3,1206.5 799.6,1206.2 800,1206.5 800.1,1206.3 800.3,1206.8 800.5,1206.2 800.8,1206.5 801,1206.3 801.1,1206.6 801.4,1206.3 801.6,1206.7 801.8,1206.2 801.9,1206.7 802,1206.5 802.1,1206.9 802.3,1206.4 802.4,1206.5 802.5,1206.3 802.8,1206.9 803.1,1206.5 803.3,1206.7 803.5,1206.4 803.6,1207 803.8,1206.3 803.9,1206.9 804,1206.8 804.1,1206.9 804.4,1206.3 804.5,1206.8 804.8,1206.3 805,1206.8 805.4,1206.4 805.5,1206.7 805.6,1206.6 805.8,1207 806,1206.5 806.1,1207 806.4,1206.6 806.5,1207 806.8,1206.5 806.9,1206.9 807.1,1206.4 807.3,1206.7 807.4,1206.6 807.5,1207 808,1206.7 808.1,1207 808.3,1206.6 808.4,1206.8 808.5,1206.6 808.6,1206.9 808.8,1206.4 808.9,1206.7 809,1206.5 809.3,1206.9 809.6,1206.7 809.9,1206.9 810,1206.4 810.4,1206.7 810.5,1206.5 810.9,1206.7 811,1206.5 811.1,1207 811.3,1206.8 811.4,1207 811.5,1206.7 811.6,1207.1 811.8,1206.8 811.9,1207 812.1,1206.4 812.3,1206.9 812.5,1206.5 812.8,1206.9 813,1206.7 813.4,1207.1 813.8,1206.7 813.9,1206.9 814.1,1206.6 814.3,1206.9 814.6,1206.5 815.1,1206.9 815.3,1206.5 815.4,1207 815.5,1206.9 815.6,1207 815.9,1206.5 816.1,1207.1 816.3,1206.5 816.4,1207.1 816.6,1206.8 816.8,1207.1 816.9,1206.6 817,1206.6 817.1,1206.5 817.5,1207 817.9,1206.5 818,1207 818.3,1206.7 818.4,1207 818.5,1206.6 818.6,1206.9 818.9,1207 819,1206.5 819.1,1207.1 819.4,1206.7 819.6,1207 820.1,1206.8 820.3,1207 820.4,1206.7 820.5,1206.9 820.6,1206.6 820.8,1206.9 820.9,1206.5 821,1207 821.3,1206.5 821.4,1206.9 821.5,1206.6 821.8,1207.1 821.9,1206.7 822.1,1207.1 822.3,1206.6 822.5,1206.5 822.6,1207.1 822.9,1206.7 823.1,1207.1 824,1206.7 824.1,1207 824.4,1206.6 824.8,1206.5 824.9,1206.8 825.1,1206.6 825.3,1206.9 825.4,1206.6 825.8,1207 825.9,1206.6 826,1206.9 826.5,1206.5 826.9,1206.9 827.1,1206.7 827.3,1206.9 827.4,1206.5 827.5,1206.9 827.8,1206.5 827.9,1207 828.3,1206.5 828.4,1206.8 828.5,1206.7 828.8,1207.1 828.9,1206.5 829.1,1206.5 829.3,1207 829.8,1206.6 829.9,1207.1 830,1206.7 830.3,1207.1 830.4,1206.8 830.5,1207.1 831.3,1206.8 831.4,1207 831.6,1206.9 831.8,1207.1 832,1206.5 832.1,1207 832.3,1206.5 832.4,1206.9 832.6,1206.6 832.9,1206.8 833,1206.5 833.1,1207.1 833.3,1206.8 833.8,1206.7 833.9,1207 834.1,1206.5 834.4,1206.7 834.5,1206.6 834.6,1207.1 834.8,1206.7 835,1206.9 835.1,1206.7 835.3,1206.9 835.4,1206.5 835.5,1207.1 835.8,1206.8 836,1207.1 836.1,1206.7 836.4,1207.1 836.6,1206.6 837,1207 837.1,1206.5 837.6,1207 838,1206.7 838.1,1207.1 838.4,1206.8 838.6,1207 838.8,1206.8 838.9,1206.8 839.1,1206.5 839.3,1206.8 839.6,1206.7 839.8,1206.9 839.9,1206.5 840.1,1207 840.4,1206.6 840.5,1207.1 840.6,1206.5 841.1,1207 841.4,1206.6 842,1207.1 842.3,1206.7 842.4,1207.1 842.5,1206.5 842.6,1207.1 842.8,1206.8 842.9,1206.9 843,1206.8 843.1,1207 843.3,1206.7 843.4,1207.1 843.6,1206.5 844,1207.1 844.4,1206.6 844.5,1206.8 844.6,1206.6 844.9,1207.1 845.1,1206.5 845.5,1207 845.6,1206.5 846,1207.1 846.1,1206.6 846.3,1207.1 846.4,1206.6 846.8,1207.1 847,1206.5 847.1,1206.8 847.3,1206.5 847.4,1207 847.6,1206.8 847.8,1207 847.9,1206.5 848.1,1207.1 848.3,1206.7 848.4,1207 848.6,1206.6 848.9,1207 849,1206.5 849.1,1207 849.3,1206.5 849.4,1207.1 849.6,1206.4 849.9,1206.8 850,1206.6 850.1,1206.9 850.3,1206.5 850.4,1206.9 850.5,1206.5 850.6,1206.8 850.9,1206.5 851.1,1207 851.4,1206.5 851.6,1207 851.8,1206.8 852,1207.1 852.1,1206.7 852.3,1207.1 852.4,1206.9 852.5,1206.9 852.6,1206.6 852.8,1206.9 853,1206.7 853.1,1207 853.3,1206.8 853.4,1207 853.9,1206.5 854.1,1207.1 854.8,1206.7 854.9,1207.1 855,1206.7 855.1,1207.1 855.4,1206.5 855.6,1206.6 855.9,1206.5 856,1206.9 856.1,1206.7 856.5,1206.8 856.6,1207.1 856.8,1206.9 856.9,1207.1 857,1206.5 857.3,1207.1 857.5,1206.5 858.3,1207.1 858.9,1206.9 859,1206.4 859.1,1206.9 859.4,1206.5 859.6,1207.1 859.8,1206.7 859.9,1206.9 860,1206.5 860.3,1206.9 860.5,1206.7 860.8,1207 860.9,1206.6 861,1206.9 861.1,1206.4 861.5,1207 861.6,1206.9 861.8,1207.1 862.1,1206.6 862.3,1206.8 862.5,1206.5 862.8,1206.7 862.9,1206.4 863.1,1207.1 863.3,1206.4 863.4,1207 863.8,1206.5 864,1206.7 864.1,1206.4 864.6,1206.9 864.8,1206.4 864.9,1206.5 865,1206.4 865.1,1206.7 865.3,1206.4 865.4,1207 865.6,1206.4 865.9,1206.9 866.1,1206.8 866.4,1206.5 866.8,1206.9 867,1206.3 867.6,1206.9 867.9,1206.7 868,1206.9 868.6,1206.3 868.8,1206.4 868.9,1206.1 869.1,1206.5 869.4,1206.2 869.5,1206.5 869.8,1205.9 870,1206.1 870.1,1205.9 870.3,1206.5 870.4,1206.1 870.6,1206.3 870.8,1206.1 870.9,1206.3 871,1205.8 871.1,1206.2 871.3,1205.9 871.4,1206.1 871.5,1205.4 871.6,1205.9 871.8,1205.7 871.9,1206 872.1,1205.6 872.3,1205.8 872.4,1205.2 872.6,1205.6 872.8,1205.2 872.9,1205.4 873.1,1204.8 873.3,1205.1 873.4,1204.5 873.5,1204.6 873.8,1204 873.9,1204.4 874.1,1203.5 874.4,1203.5 874.8,1202.7 874.9,1201.6 875,1201.6 876,1191 876.9,1166.1 879.1,1202.4 880.1,1204 880.4,1203.7 880.8,1204.3 881,1204.1 881.4,1204.7 881.8,1204.2 881.9,1204.7 882,1204.5 882.3,1204.8 882.5,1204.5 883.3,1204.5 883.4,1204.4 883.6,1204.6 883.8,1204.3 883.9,1204.7 884,1204.6 884.1,1204.9 884.3,1204.5 884.5,1204.3 884.6,1204.9 885,1204.4 885.3,1204.8 885.4,1204.3 885.5,1204.5 885.8,1204.3 886,1204.5 886.1,1204.4 886.3,1204.7 886.5,1204.1 887,1204.2 887.1,1204.5 887.4,1204 887.5,1204.4 887.6,1204.1 887.8,1204.4 888.4,1203.7 888.9,1204.1 889,1203.8 889.4,1203.8 889.6,1203.5 889.8,1203.7 890,1203.4 890.1,1203.7 890.3,1203.4 890.4,1203.7 890.9,1203.4 891,1203 891.1,1203.4 891.4,1203.1 891.5,1203.4 891.8,1203 892,1203 892.1,1202.8 892.3,1203.2 892.5,1202.6 892.6,1203 892.8,1202.8 893,1203 893.3,1202.5 893.5,1202.9 893.6,1202.4 893.8,1202.6 893.9,1202.1 894,1202.3 894.1,1201.6 894.3,1202 894.8,1201 894.9,1201.3 895.1,1200.4 895.3,1200.6 895.5,1200.1 895.6,1200.2 895.9,1199.6 896.3,1199.6 896.4,1198.9 896.8,1198.7 896.9,1198.9 897.1,1198.5 897.4,1197.6 897.5,1197.8 898,1196.7 898.1,1197.2 898.3,1196.5 898.5,1196.5 898.6,1196.1 898.8,1196.4 899,1195.5 899.1,1195.9 899.8,1193.1 899.9,1193.2 900.1,1191.7 900.3,1191.7 901,1188 902,1183.7 902.1,1183.8 903.8,1174.7 905.3,1149.3 906.5,1160.7 906.6,1160.3 906.8,1160.4 909,1145.9 915.1,978.9 916.1,882 916.8,266.4 916.9,266.6 917,266.2 917.1,266.6 917.6,266.2 917.8,266.8 918.4,266.4 924.5,856.8 930.6,995.9 933.5,1051 934,1046.9 934.6,1007 935.3,833 941.4,1130.5 943.5,1142 943.6,1141.9 944.3,1144.4 944.4,1144.2 944.5,1144.4 944.9,1143.6 945,1143.8 945.9,1133.4 946.5,1116.9 947.8,1138.9 948.8,1123 951.3,1168.5 951.6,1169.6 951.8,1169.2 951.9,1170 952.1,1169.2 952.3,1169.2 953.4,1156.3 954.3,1096.9 955,953.1 958.1,1184.1 959,1187.3 959.1,1187.3 959.6,1188.7 959.8,1188.6 959.9,1189.5 960,1189.3 960.8,1190.7 961,1190.7 961.5,1191.8 962.9,1193.1 963,1193.5 963.1,1193.2 963.4,1193.7 963.5,1193.4 963.9,1194 964,1193.7 964.1,1194.3 964.4,1194.3 964.6,1194.5 964.8,1194.3 964.9,1195 965,1194.6 965.1,1195 965.4,1194.8 965.5,1195 965.8,1194.9 965.9,1195.5 966.3,1194.9 966.5,1195.3 967,1194.3 967.1,1194.4 967.8,1192 968.5,1181.7 968.8,1182.8 970.1,1193.4 970.5,1192.5 970.8,1192.4 970.9,1191.6 971,1191.7 971.9,1182.4 972.6,1157.8 974.1,1187.3 974.4,1187.3 975.4,1173.4 977,1191 977.3,1190.4 977.4,1190.8 977.6,1190.3 977.8,1190.5 977.9,1189.7 978.1,1189.7 979.4,1183.9 981.1,1152.4 982.1,1064.5 982.9,690.6 983.5,-394.8 986.3,1164.2 987.4,1177.7 987.6,1177.8 988.5,1166.8 989.9,1186.3 990.1,1186.2 990.6,1183 990.9,1183.3 992.1,1193.6 992.3,1193.4 992.5,1194.3 992.6,1194.2 993.1,1195.4 993.4,1195.4 993.5,1195.6 993.6,1195.5 993.9,1196.1 994,1195.9 994.5,1196 994.9,1196.5 995.1,1195.9 995.4,1196.3 995.5,1196.1 995.9,1196.6 996,1196.2 996.1,1196.3 996.3,1196.2 996.6,1196.5 997.3,1196 997.4,1196.5 997.5,1195.9 997.6,1196.3 997.9,1196.2 998.3,1196.2 998.4,1195.8 998.5,1195.9 998.9,1195.1 999,1195.5 999.8,1194.1 999.9,1194.5 1000.9,1191 1001.9,1176.3 1002.6,1150 1003.5,1171.3 1004,1163.2 1004.5,1142.5 1004.6,1142.6 1006,1180.4 1006.4,1180.1 1007.3,1166.6 1008.3,1114.4 1009.3,1155.3 1009.4,1155.4 1010.1,1135.1 1011.1,971.2 1011.6,809 1015,1184.2 1015.6,1188.4 1015.8,1188.4 1017.3,1193.5 1017.5,1193.6 1017.6,1194.2 1017.8,1194 1017.9,1194.6 1018,1194.3 1018.3,1195.2 1018.5,1194.9 1019,1195.9 1019.1,1195.8 1019.4,1195.8 1019.6,1196.5 1019.8,1196 1020,1196.7 1020.3,1196.3 1020.5,1196.8 1020.8,1196.6 1021,1197.3 1021.3,1196.7 1021.8,1197.1 1021.9,1197.6 1022,1197.1 1022.1,1197.6 1022.3,1197.5 1022.5,1197.9 1022.9,1197.5 1023.1,1197.8 1023.3,1197.5 1023.8,1198.1 1023.9,1197.6 1024.2,1198.2 1024.3,1197.7 1024.4,1198.1 1024.5,1197.9 1024.8,1198.3 1025.3,1198.3 1025.4,1198.6 1025.7,1198.1 1025.9,1198.5 1026,1198.2 1026.2,1198.5 1026.4,1198.1 1026.7,1198.5 1026.8,1198.2 1027,1198.8 1027.3,1198.3 1027.5,1198.4 1027.7,1198.7 1027.8,1198.3 1028,1198.7 1028.2,1198.4 1028.4,1198.9 1029,1198.4 1029.2,1198.5 1029.3,1198.4 1030,1198.8 1030.2,1199.1 1030.4,1198.8 1030.7,1199 1030.8,1198.5 1031.2,1198.8 1031.3,1199.2 1031.7,1198.7 1031.8,1199.2 1032.2,1198.7 1032.3,1199.2 1032.4,1198.8 1032.5,1198.9 1032.7,1198.7 1032.8,1199.3 1033,1198.7 1033.3,1199.2 1033.5,1198.7 1033.9,1199.1 1034,1199.1 1034.2,1199.3 1034.5,1198.8 1034.7,1199.3 1034.9,1198.8 1035,1199.3 1035.3,1199 1035.4,1199.2 1035.7,1198.9 1035.8,1199.1 1036,1198.7 1036.2,1199.2 1036.3,1198.9 1036.4,1199.3 1036.5,1198.9 1036.7,1199.3 1036.9,1198.8 1037.3,1199.2 1037.4,1198.7 1037.7,1199.1 1037.8,1198.7 1038.2,1198.9 1038.3,1198.7 1038.4,1199.1 1038.7,1198.7 1039,1199 1039.3,1198.4 1039.4,1198.9 1039.5,1198.5 1039.9,1198.5 1040.2,1198 1040.3,1198.3 1040.4,1198 1040.5,1198.2 1040.8,1197.7 1040.9,1198.1 1041,1197.8 1041.2,1197.9 1041.3,1197.6 1041.4,1197.8 1041.7,1197.1 1041.8,1197.5 1041.9,1197 1042,1197.4 1042.5,1196.1 1042.7,1196.5 1042.8,1195.7 1043,1195.7 1043.8,1193.3 1043.9,1193.4 1045.5,1182.1 1046.9,1167.8 1047.2,1168.5 1049.5,1190.4 1049.7,1190.3 1049.8,1191.1 1050,1191.1 1050.3,1191.9 1050.4,1191.7 1050.5,1191.9 1050.7,1191.2 1050.8,1191.3 1052.2,1186.2 1054.4,1197.3 1054.5,1197 1054.8,1197.9 1054.9,1197.8 1055.3,1198.2 1055.4,1199 1055.5,1198.6 1056,1199.5 1056.2,1199.2 1056.5,1199.8 1056.7,1199.4 1056.9,1200 1057.2,1200 1057.3,1199.6 1057.7,1200.3 1057.8,1199.9 1058.4,1200.7 1058.5,1200.4 1058.7,1200.6 1058.8,1200.2 1059,1200.6 1059.2,1200.2 1059.3,1200.4 1059.8,1200.4 1059.9,1200.8 1060,1200.7 1060.2,1200.9 1060.3,1200.5 1060.5,1200.8 1060.7,1200.7 1060.9,1201.2 1061,1200.6 1061.2,1201.1 1061.3,1200.8 1061.7,1201.1 1061.8,1200.8 1061.9,1201.2 1062.2,1200.7 1062.7,1201.3 1063,1200.6 1063.2,1201 1063.3,1200.8 1063.4,1201 1063.5,1200.7 1063.7,1201 1063.8,1200.6 1063.9,1201.2 1064,1200.7 1064.2,1200.9 1064.3,1200.5 1064.5,1201 1064.8,1200.6 1065,1200.7 1065.5,1199.8 1065.7,1199.9 1065.8,1199.4 1065.9,1199.5 1066.9,1191.6 1067.4,1184.5 1069.2,1199.8 1069.3,1199.6 1069.4,1200.4 1069.5,1200.3 1069.7,1200.6 1069.8,1200.1 1070.4,1201 1070.9,1200.5 1071.3,1200.8 1071.5,1200.1 1071.7,1200.6 1072.3,1199.5 1072.4,1199.8 1072.7,1198.9 1072.8,1199.1 1073.8,1192.9 1074.5,1183.2 1075.5,1193.1 1075.8,1192.9 1075.9,1193.2 1076.5,1188.8 1077.7,1154 1078.9,1186.8 1079.3,1186.3 1080.2,1163.6 1080.9,1107.8 1082.4,1182.2 1082.5,1182.4 1083.4,1165.5 1084.4,1186.9 1084.8,1184.7 1085.5,1162.6 1088.7,1201.8 1088.8,1201.6 1088.9,1201.9 1089,1201.8 1089.5,1202.6 1089.8,1202.4 1089.9,1203 1090,1202.8 1090.4,1202.9 1090.7,1203.5 1090.9,1203 1091,1203.2 1091.2,1203.1 1091.3,1203.4 1091.4,1203.2 1091.5,1203.6 1091.8,1203.5 1092.2,1204 1092.3,1203.8 1092.5,1203.9 1092.7,1203.6 1092.9,1204.3 1093,1204 1093.5,1204.4 1093.8,1203.9 1093.9,1204.3 1094,1204 1094.3,1204.6 1094.4,1204.1 1094.8,1204.5 1094.9,1204.1 1095.2,1204.8 1095.4,1204.3 1095.5,1204.9 1095.8,1204.3 1096,1204.9 1096.3,1204.5 1096.4,1204.8 1096.7,1204.9 1096.8,1204.5 1096.9,1204.8 1097,1204.7 1097.2,1205 1097.3,1204.8 1097.4,1205.2 1097.5,1204.9 1097.9,1205.2 1098.3,1204.8 1098.4,1204.9 1098.5,1204.8 1098.8,1205.5 1098.9,1205.1 1099,1205.3 1099.5,1204.9 1100.2,1205.6 1100.4,1205.3 1100.9,1205.6 1101,1205.2 1101.3,1205.8 1101.4,1205.5 1101.7,1205.9 1101.9,1205.4 1102,1205.8 1102.5,1205.4 1102.7,1205.9 1102.8,1205.8 1102.9,1206 1103,1205.4 1103.2,1205.9 1103.3,1205.6 1103.5,1206.1 1103.7,1205.6 1103.9,1206.2 1104,1205.6 1104.3,1206.3 1104.7,1205.9 1105,1206.2 1105.2,1205.8 1105.4,1206.4 1105.7,1205.9 1105.8,1206 1106,1205.9 1106.3,1206.5 1106.4,1206.2 1106.5,1206.6 1106.7,1206.3 1106.8,1206.6 1106.9,1206.1 1107,1206.7 1107.3,1206.1 1107.4,1206.6 1107.5,1206.4 1107.7,1206.7 1107.9,1206.7 1108,1206.5 1108.2,1206.7 1108.4,1206.3 1108.5,1206.5 1108.7,1206.2 1108.9,1206.3 1109,1206.7 1109.4,1206.3 1109.7,1206.8 1109.8,1206.4 1109.9,1206.7 1110,1206.5 1110.2,1207 1110.5,1206.4 1110.8,1206.8 1111,1206.6 1111.2,1207 1111.4,1206.4 1111.5,1206.9 1111.7,1206.6 1111.8,1207.1 1112,1207 1112.2,1206.8 1112.4,1207.1 1112.5,1206.4 1113,1207 1113.3,1206.8 1113.4,1207 1113.5,1206.7 1113.7,1207 1113.8,1206.6 1113.9,1206.9 1114.2,1206.6 1114.3,1207 1114.4,1206.5 1114.7,1206.9 1114.9,1206.8 1115,1206.4 1115.3,1207.1 1115.4,1206.5 1115.5,1206.7 1115.7,1206.5 1115.8,1207 1116,1206.4 1116.5,1206.9 1117.3,1206.5 1117.5,1206.6 1117.7,1207 1117.8,1206.7 1118,1207 1118.4,1206.4 1118.7,1207.1 1118.8,1206.7 1118.9,1207 1119,1206.8 1119.2,1207.1 1119.3,1206.7 1119.8,1207 1120,1206.5 1120.3,1207.1 1120.4,1206.7 1120.7,1207 1120.8,1206.6 1121,1206.9 1121.2,1206.5 1121.3,1206.8 1121.8,1206.5 1121.9,1207 1122.4,1206.6 1122.5,1207.1 1122.8,1206.6 1122.9,1206.9 1123,1206.5 1123.5,1207.1 1123.8,1206.7 1123.9,1207 1124.4,1206.7 1124.5,1207.1 1124.7,1206.6 1124.8,1206.8 1124.9,1206.5 1125.2,1207.1 1125.4,1206.5 1125.5,1207 1126.3,1206.5 1126.4,1207.1 1126.7,1206.8 1126.9,1207 1127,1206.8 1127.2,1206.9 1127.4,1206.5 1127.7,1206.9 1127.8,1206.6 1128,1207.1 1128.3,1206.6 1128.4,1207 1128.7,1206.6 1128.8,1207 1129.2,1206.5 1129.3,1207 1129.4,1206.8 1129.5,1206.9 1129.8,1206.6 1129.9,1207 1130,1206.8 1130.3,1206.9 1130.4,1206.6 1130.5,1207.1 1130.8,1206.7 1131.2,1207 1131.7,1206.6 1131.9,1206.8 1132.3,1206.5 1133,1206.9 1133.3,1206.6 1133.4,1207.1 1133.5,1206.5 1133.7,1207.1 1133.8,1206.9 1134,1207.2 1134.3,1206.6 1134.5,1207.1 1134.9,1206.5 1135.4,1207 1135.7,1206.5 1135.8,1206.9 1135.9,1206.5 1136.2,1206.9 1136.3,1206.7 1136.4,1206.9 1136.5,1206.6 1137,1206.9 1137.3,1206.6 1137.4,1207 1137.7,1206.7 1138.2,1207 1138.3,1206.5 1138.5,1207.1 1138.8,1206.6 1138.9,1207.1 1139.3,1206.5 1139.7,1206.9 1139.9,1206.5 1140,1206.8 1140.4,1206.6 1140.7,1207.2 1140.8,1206.5 1140.9,1206.9 1141.2,1206.7 1141.4,1207.2 1141.7,1206.5 1141.8,1206.8 1141.9,1206.6 1142,1207 1142.3,1206.6 1142.4,1207 1142.7,1206.5 1142.9,1207.1 1143,1206.9 1143.2,1207 1143.3,1206.7 1143.4,1206.9 1143.5,1206.7 1143.7,1207 1143.9,1206.5 1144,1207 1144.3,1206.5 1144.4,1207.1 1144.9,1206.9 1145,1207.2 1145.2,1207 1145.3,1207.2 1145.8,1206.8 1145.9,1207.2 1146,1206.7 1146.3,1207.1 1146.8,1206.6 1146.9,1207.1 1147,1206.6 1147.2,1206.8 1147.5,1206.6 1147.8,1207.1 1147.9,1206.6 1148,1207.1 1148.3,1206.6 1148.4,1207 1148.7,1206.5 1149,1206.7 1149.2,1207 1149.4,1206.6 1149.5,1207.1 1149.8,1206.8 1149.9,1207.1 1150,1206.5 1150.3,1207.2 1150.5,1206.8 1150.7,1207.2 1150.8,1206.6 1151,1207 1151.3,1207.1 1151.5,1206.5 1151.8,1207.2 1151.9,1206.6 1152.2,1206.9 1152.3,1206.7 1152.4,1207 1152.7,1206.5 1152.8,1207.1 1153,1207 1153.3,1207.1 1153.4,1207 1153.5,1207.2 1153.7,1206.8 1153.8,1207.1 1154,1206.5 1154.4,1207.2 1154.5,1206.8 1154.7,1207.2 1154.8,1206.9 1154.9,1207.1 1155,1206.8 1155.4,1206.7 1156.2,1207 1156.3,1206.9 1156.4,1207.2 1156.5,1206.6 1156.9,1206.6 1157,1207.2 1157.4,1206.6 1157.7,1206.6 1157.9,1207 1158.4,1206.7 1158.5,1207.2 1158.8,1206.7 1159.3,1207.1 1159.5,1206.7 1159.7,1207 1160,1206.7 1160.2,1207.2 1160.4,1206.5 1160.8,1206.9 1160.9,1206.6 1161,1207.2 1161.3,1206.8 1161.7,1207.1 1161.9,1206.6 1162.2,1207.2 1162.4,1206.7 1162.7,1207.1 1163,1207.1 1163.2,1206.5 1163.7,1207.1 1163.8,1206.8 1163.9,1207 1164,1206.7 1164.2,1207.1 1164.5,1206.8 1164.8,1207 1164.9,1206.6 1165.4,1207 1165.5,1206.5 1165.7,1207.2 1165.8,1206.9 1166,1207.2 1166.2,1206.7 1166.4,1207 1166.5,1206.6 1166.7,1207.2 1166.9,1206.5 1167.2,1206.9 1167.4,1206.6 1167.7,1207.1 1167.8,1206.6 1167.9,1206.8 1168,1206.6 1168.4,1207.2 1168.5,1206.8 1168.8,1207 1168.9,1206.7 1169,1206.9 1169.2,1206.6 1169.4,1207.2 1169.5,1207 1169.7,1207.1 1169.8,1206.6 1169.9,1206.8 1170,1206.5 1170.2,1207 1170.4,1206.5 1170.7,1206.7 1170.8,1207.1 1170.9,1206.6 1171,1207.1 1171.2,1207 1171.4,1207.1 1171.5,1206.5 1171.7,1206.8 1171.8,1206.6 1172,1206.9 1172.3,1206.5 1173,1206.7 1173.2,1207.2 1173.5,1207 1173.7,1206.5 1174.3,1207.2 1174.5,1207 1174.7,1206.6 1174.8,1207 1175.2,1206.5 1175.4,1207 1175.8,1207.1 1175.9,1206.7 1176.2,1207 1176.3,1206.8 1176.4,1207.1 1176.8,1206.6 1177,1207 1177.3,1206.5 1177.7,1207.1 1177.9,1206.7 1178.4,1207.1 1178.5,1206.8 1178.7,1207.1 1179.2,1206.6 1179.3,1206.9 1179.4,1206.7 1179.5,1207.1 1180.2,1206.7 1180.4,1207.1 1180.7,1207.1 1180.9,1206.6 1181.4,1207 1181.5,1206.6 1181.7,1206.8 1181.8,1206.5 1182.2,1207.1 1182.3,1206.6 1182.4,1207.1 1182.8,1207 1182.9,1206.5 1183.2,1207.1 1183.3,1206.5 1183.5,1207.1 1183.7,1206.6 1183.8,1207 1184,1207 1184.2,1206.9 1184.3,1207 1184.4,1206.5 1184.5,1207.1 1184.9,1206.6 1185,1206.9 1185.2,1206.7 1185.3,1207.1 1185.4,1206.7 1185.5,1206.8 1185.8,1206.6 1185.9,1206.9 1186.3,1206.6 1186.4,1207.1 1186.7,1206.6 1186.8,1207.1 1186.9,1206.5 1187.3,1207.2 1187.5,1206.9 1187.7,1207.1 1187.8,1206.5 1188,1206.9 1188.3,1206.6 1188.5,1207.2 1188.9,1206.9 1189,1206.5 1189.2,1207.2 1189.3,1206.9 1189.4,1207.2 1189.7,1206.6 1189.8,1206.8 1189.9,1206.6 1190,1207 1190.2,1206.8 1190.3,1207.1 1190.4,1206.9 1190.5,1207.2 1190.7,1206.7 1191.2,1206.9 1191.3,1207.2 1191.5,1206.6 1191.8,1206.8 1191.9,1206.6 1192.2,1207 1192.4,1206.6 1192.8,1207.1 1192.9,1206.5 1193,1207 1193.2,1206.7 1193.4,1207.2 1193.5,1206.7 1193.7,1207.1 1193.9,1206.8 1194,1207 1194.2,1206.8 1194.5,1207.2 1194.8,1206.7 1195,1207 1195.2,1206.5 1195.3,1207 1195.5,1206.5 1195.8,1206.6 1195.9,1206.9 1196.2,1206.6 1196.3,1207.1 1196.7,1206.7 1196.8,1206.8 1196.9,1206.5 1197.3,1206.6 1197.4,1206.8 1197.5,1206.5 1197.8,1207.1 1198,1206.8 1198.2,1207 1198.3,1206.7 1198.5,1206.6 1198.7,1206.9 1199.2,1206.7 1199.3,1207.2 1199.4,1206.7 1199.5,1207.1 1199.8,1207.1 1199.9,1206.7 1200,1207.2 1200.2,1206.6 1200.4,1207.1 1200.7,1206.6 1201,1207 1201.2,1206.8 1201.4,1207 1201.5,1206.8 1201.7,1207.1 1202,1206.6 1202.2,1206.9 1202.3,1206.8 1202.4,1206.9 1202.5,1206.8 1202.8,1206.9 1202.9,1206.7 1203,1207 1203.2,1206.6 1203.4,1207.1 1203.7,1207.1 1203.8,1206.7 1204,1207.2 1204.3,1206.7 1204.5,1207.2 1204.9,1206.7 1205.2,1207 1205.5,1206.5 1205.8,1207.1 1205.9,1206.9 1206,1207.2 1206.3,1206.7 1206.4,1207.1 1206.7,1206.8 1206.8,1207.2 1207.2,1206.7 1207.4,1207.2 1207.7,1206.8 1208,1206.9 1208.2,1206.6 1208.3,1206.9 1208.4,1206.6 1208.5,1207 1208.8,1206.7 1208.9,1206.9 1209,1206.6 1209.2,1207 1209.4,1206.6 1209.5,1207.2 1210,1206.6 1210.4,1207.1 1210.5,1207 1210.7,1207.2 1210.8,1206.6 1210.9,1207.2 1211,1206.7 1211.2,1207.2 1211.4,1206.7 1211.5,1206.8 1211.7,1206.6 1211.8,1207.1 1212.2,1206.5 1212.3,1207 1212.5,1206.5 1212.9,1207.2 1213.3,1207.1 1213.4,1206.8 1213.5,1207.1 1213.8,1206.5 1214,1207.2 1214.3,1206.6 1214.4,1207 1214.5,1206.6 1214.9,1207 1215.2,1206.8 1215.3,1207.1 1215.4,1206.6 1215.7,1206.8 1215.8,1206.5 1215.9,1207.1 1216.4,1206.5 1216.5,1207.2 1217.2,1206.6 1217.4,1207 1217.5,1206.8 1217.8,1207.2 1218.4,1206.7 1218.5,1207.2 1219,1206.7 1219.4,1207.2 1219.7,1206.8 1219.8,1207.1 1220,1206.9 1220.4,1206.9 1220.7,1206.6 1220.8,1206.9 1220.9,1206.6 1221.3,1206.8 1221.4,1206.6 1221.7,1207 1221.8,1206.7 1222,1207 1222.2,1206.6 1222.4,1207.2 1222.7,1206.8 1222.8,1207 1222.9,1206.5 1223,1207.2 1223.3,1206.7 1223.5,1206.9 1223.7,1206.6 1224,1206.7 1224.2,1207.1 1224.3,1206.8 1224.4,1207.2 1224.9,1206.6 1225,1207.1 1225.2,1206.9 1225.4,1207.2 1225.5,1206.8 1225.8,1207.2 1225.9,1206.7 1226,1207 1226.4,1207 1226.7,1206.6 1226.9,1207.2 1227.5,1206.5 1227.7,1207.2 1227.9,1206.6 1228.2,1206.6 1228.4,1207.2 1228.5,1206.8 1228.7,1207.2 1229.2,1207 1229.3,1206.7 1229.4,1207 1229.5,1206.7 1229.9,1206.9 1230.2,1206.6 1230.4,1207.1 1230.7,1206.5 1230.9,1207.2 1231,1206.9 1231.2,1207.2 1231.3,1207 1231.8,1207.1 1231.9,1206.5 1232.3,1207.1 1232.7,1206.6 1232.9,1207.2 1233.5,1206.6 1233.7,1207.2 1233.8,1206.6 1233.9,1206.9 1234.4,1206.9 1234.5,1206.7 1235.2,1207 1235.3,1206.5 1235.5,1207 1235.8,1206.8 1236,1207 1236.5,1206.7 1236.8,1207.1 1236.9,1206.8 1237,1207.2 1237.3,1206.6 1237.5,1207.2 1237.7,1206.7 1237.9,1207.2 1238,1206.6 1238.3,1207.2 1238.7,1206.6 1238.8,1207.2 1238.9,1206.7 1239.3,1207.2 1239.7,1206.7 1239.8,1207.1 1239.9,1206.8 1240.3,1206.9 1240.4,1206.6 1240.5,1207.1 1240.8,1207.1 1240.9,1206.8 1241,1207.2 1241.3,1206.8 1241.5,1207.2 1242,1206.7 1242.2,1207 1242.3,1206.6 1242.4,1207.2 1242.5,1206.8 1242.8,1207.2 1243,1206.8 1243.2,1207.1 1243.3,1206.6 1243.5,1207.1 1243.9,1206.7 1244,1207.2 1244.4,1206.6 1244.7,1206.9 1245.3,1207.2 1245.4,1206.6 1245.5,1207.1 1245.8,1206.8 1246.2,1207.2 1246.3,1206.9 1246.4,1207.1 1246.7,1206.6 1246.8,1207.2 1246.9,1206.6 1247.2,1207.1 1247.3,1206.8 1247.7,1207 1247.8,1206.6 1247.9,1207 1248.2,1207.1 1248.3,1206.6 1248.7,1207.1 1248.8,1206.6 1248.9,1207.1 1249.2,1206.8 1249.3,1207 1249.5,1206.6 1249.7,1207.1 1249.8,1206.6 1249.9,1206.9 1250,1206.6 1250.3,1207.2 1250.4,1206.6 1250.5,1207.1 1250.7,1206.6 1250.8,1207.1 1251,1206.6 1251.2,1207.1 1251.3,1206.6 1251.4,1206.9 1251.5,1206.7 1251.7,1207.1 1251.8,1206.8 1252,1207.1 1252.3,1206.5 1252.4,1207.1 1252.5,1206.6 1252.8,1207 1253,1206.8 1253.3,1207 1253.4,1206.8 1253.5,1207.1 1253.8,1206.6 1253.9,1207 1254.2,1206.6 1254.4,1207.2 1254.9,1206.6 1255,1206.8 1255.3,1206.7 1255.4,1207.2 1255.5,1206.6 1255.7,1207.1 1255.9,1207.1 1256.2,1206.6 1256.5,1207.2 1256.9,1207.1 1257,1206.6 1257.3,1207.1 1257.4,1206.5 1257.8,1207.2 1258.2,1206.7 1258.3,1206.9 1258.4,1206.6 1258.5,1206.8 1258.7,1206.6 1259,1207.1 1259.2,1206.7 1259.3,1207.2 1259.8,1206.8 1260,1207.2 1260.2,1207 1260.3,1207.2 1260.4,1206.9 1260.5,1207.2 1260.8,1206.9 1260.9,1207.2 1261.7,1206.8 1261.8,1207.1 1261.9,1206.8 1262,1207.2 1262.2,1206.6 1262.4,1207.1 1262.5,1206.6 1262.8,1207.2 1263,1207.1 1263.2,1206.8 1263.3,1207.1 1263.5,1206.6 1263.8,1207 1264.2,1206.6 1264.3,1206.7 1264.5,1206.6 1264.8,1206.9 1265,1206.7 1265.2,1207 1265.4,1206.6 1265.8,1207.2 1265.9,1206.8 1266.3,1207.2 1266.5,1206.7 1266.7,1207.1 1267,1206.8 1267.2,1207.2 1267.5,1206.6 1267.7,1207.2 1267.9,1206.8 1268,1207 1268.2,1206.7 1268.3,1207.2 1268.4,1206.8 1268.5,1207 1268.9,1206.5 1269.3,1207.2 1269.5,1206.6 1269.8,1207 1269.9,1206.8 1270,1207 1270.2,1206.6 1270.5,1207.2 1271,1206.7 1271.4,1207 1271.7,1206.7 1271.8,1207.2 1271.9,1206.6 1272.3,1207.1 1272.4,1206.8 1272.7,1206.6 1272.8,1207.1 1273,1206.7 1273.2,1207 1273.4,1206.6 1273.5,1207.1 1273.8,1206.6 1273.9,1206.8 1274,1206.7 1274.2,1207.1 1274.3,1206.7 1274.5,1207.2 1274.7,1206.6 1274.8,1206.7 1274.9,1206.5 1275,1207.1 1275.3,1206.6 1275.4,1206.9 1275.9,1206.6 1276,1207.2 1276.7,1206.6 1277.2,1207 1277.3,1206.8 1277.4,1207 1277.5,1206.8 1277.7,1207.1 1277.8,1206.9 1277.9,1207 1278.2,1206.7 1278.3,1207.2 1278.7,1206.5 1278.8,1206.9 1278.9,1206.8 1279.2,1207.1 1279.4,1206.6 1279.7,1207.1 1279.8,1206.9 1280,1207.1 1280.2,1206.8 1280.4,1206.6 1280.7,1207.2 1280.9,1206.8 1281,1207 1281.4,1206.6 1281.5,1207.2 1281.9,1207.1 1282.4,1206.6 1282.5,1207.2 1283.2,1206.6 1283.4,1206.9 1283.5,1206.6 1284.2,1207.2 1284.3,1206.6 1284.5,1207.1 1284.7,1206.9 1284.8,1207.2 1285,1206.6 1285.2,1207.1 1285.3,1207 1285.4,1207.1 1285.5,1206.7 1285.7,1207.2 1285.9,1206.8 1286,1207 1286.3,1206.6 1286.4,1207.2 1287,1206.6 1287.2,1207.1 1287.3,1206.7 1287.5,1207 1287.7,1206.8 1287.8,1207.1 1287.9,1206.7 1288,1206.8 1288.2,1206.7 1288.3,1207.2 1288.4,1206.6 1288.7,1207.2 1288.8,1206.9 1289.2,1207.1 1289.3,1206.6 1289.7,1207.2 1289.9,1206.7 1290,1206.9 1290.2,1206.7 1290.4,1207.1 1290.5,1206.5 1290.7,1207 1290.8,1206.6 1291,1206.6 1291.4,1207.2 1291.7,1206.7 1291.8,1207 1292.2,1207 1292.4,1206.6 1292.5,1207.2 1292.7,1206.6 1293.5,1206.9 1293.9,1206.6 1294.2,1207.2 1294.4,1206.8 1294.5,1207.1 1294.8,1206.6 1295,1207.2 1295.2,1206.7 1295.3,1206.9 1295.4,1206.6 1295.7,1207.1 1296,1206.6 1296.2,1206.8 1296.3,1206.7 1296.4,1207.1 1296.7,1206.9 1296.8,1207.1 1296.9,1206.7 1297.2,1206.9 1297.3,1206.6 1297.5,1207 1297.7,1206.8 1297.8,1207 1297.9,1206.7 1298,1207.2 1298.2,1206.8 1298.3,1207.1 1298.4,1206.7 1298.5,1207.2 1298.8,1206.8 1299,1207.1 1299.3,1206.6 1299.4,1207.2 1299.5,1206.9 1299.7,1207 1299.8,1206.6 1299.9,1207 1300,1206.6 1300.3,1207.1 1300.4,1206.6 1300.5,1207.1 1300.9,1206.5 1301,1207.2 1301.3,1206.9 1301.4,1207.1 1301.7,1206.6 1301.8,1207.2 1302.2,1206.7 1302.3,1207.1 1302.4,1206.6 1302.7,1206.9 1302.8,1206.7 1302.9,1207.1 1303,1206.9 1303.2,1207.1 1303.3,1206.6 1303.5,1207.1 1303.7,1206.7 1303.8,1207 1303.9,1206.6 1304,1207.1 1304.2,1206.8 1304.4,1207.1 1304.5,1206.9 1304.7,1207.2 1304.8,1206.6 1305,1207.1 1305.4,1206.7 1305.5,1207.1 1305.8,1206.6 1306.2,1207.2 1306.4,1206.7 1306.5,1207.2 1306.8,1207.2 1307,1206.6 1307.4,1207.2 1307.5,1206.6 1307.7,1207 1307.8,1206.9 1307.9,1207.1 1308.2,1206.6 1308.4,1207 1308.5,1206.6 1308.7,1207.2 1308.9,1206.6 1309.2,1207 1309.3,1206.6 1309.8,1207.1 1310,1206.6 1310.3,1207 1310.4,1206.6 1310.7,1207.1 1310.9,1206.6 1311.3,1207 1311.5,1206.6 1311.7,1207.1 1311.9,1206.6 1312.2,1206.9 1312.3,1206.5 1312.5,1207.2 1312.9,1206.6 1313.2,1207.2 1313.5,1206.6 1313.7,1207 1314.2,1207.2 1314.3,1206.8 1314.5,1207 1314.7,1206.8 1315,1207.2 1315.2,1206.6 1315.5,1207.2 1315.7,1206.9 1315.8,1207.2 1316,1206.6 1316.4,1207.1 1316.5,1206.6 1316.7,1207.1 1316.8,1206.9 1316.9,1207.2 1317.2,1206.6 1317.4,1207.2 1317.7,1207.2 1317.9,1206.8 1318.2,1207.2 1318.4,1206.6 1318.8,1207.2 1318.9,1207.1 1319,1207.2 1319.2,1207 1319.3,1207.2 1319.5,1206.7 1319.7,1207.1 1320,1207 1320.2,1206.6 1320.4,1207.2 1320.5,1206.6 1320.8,1206.7 1320.9,1207.2 1321,1206.9 1321.2,1207.1 1321.4,1206.6 1321.5,1206.9 1321.7,1206.6 1321.8,1207 1321.9,1206.8 1322.4,1207.2 1322.7,1206.6 1323,1207.2 1323.4,1206.7 1323.5,1207.2 1323.7,1206.6 1323.9,1207.1 1324,1206.6 1324.2,1206.8 1324.4,1206.8 1324.5,1207 1324.7,1206.6 1324.9,1207.2 1325.5,1206.6 1325.8,1207.2 1325.9,1207 1326,1207.2 1326.2,1206.6 1326.3,1207.1 1326.8,1207 1327,1207.2 1327.2,1206.6 1327.4,1207.1 1327.7,1206.9 1327.8,1207.1 1327.9,1206.8 1328,1207.2 1328.2,1206.6 1328.5,1207.1 1328.8,1206.6 1329,1207.2 1329.4,1206.7 1329.9,1206.6 1330,1207.2 1330.2,1206.9 1330.3,1207.2 1330.5,1206.7 1330.7,1207.2 1330.9,1207 1331,1207.2 1331.2,1207 1331.5,1207.2 1331.9,1206.9 1332,1207.1 1332.2,1206.6 1332.4,1207 1332.5,1206.8 1332.7,1207.1 1332.8,1206.6 1333,1206.6 1333.2,1207.1 1333.7,1207 1333.8,1206.6 1333.9,1207 1334.2,1206.7 1334.4,1207.2 1334.5,1206.8 1334.7,1207.2 1334.8,1206.6 1334.9,1207.2 1335.4,1206.7 1335.5,1207.2 1335.8,1206.8 1335.9,1207 1336,1206.6 1336.3,1207 1336.5,1206.6 1336.8,1207.1 1336.9,1206.6 1337.2,1207.1 1337.4,1206.7 1337.9,1206.9 1338,1206.7 1338.2,1207.2 1338.5,1206.6 1338.9,1207.1 1339.2,1206.6 1339.3,1207.1 1339.5,1206.6 1339.8,1207 1339.9,1206.7 1340,1207.2 1340.2,1206.6 1340.4,1207.2 1340.5,1206.9 1340.7,1207.1 1340.8,1206.8 1341,1207.2 1341.2,1206.6 1341.3,1207.2 1341.4,1207 1341.5,1207.1 1341.7,1206.8 1342,1206.7 1342.2,1207.1 1342.4,1206.7 1342.8,1207.1 1343.3,1206.6 1343.4,1207.1 1343.5,1206.6 1343.8,1207 1343.9,1206.8 1344,1207.1 1344.3,1206.6 1344.9,1207.1 1345,1206.9 1345.2,1207.1 1345.3,1206.7 1345.5,1207 1345.7,1206.7 1345.8,1207.1 1345.9,1206.7 1346.2,1207.2 1346.3,1206.9 1346.4,1207.1 1346.5,1206.6 1346.7,1207 1346.8,1206.6 1346.9,1207.2 1347,1206.8 1347.2,1207.2 1347.7,1206.7 1348.2,1207.2 1348.3,1207 1348.4,1207.1" stroke="#c8221a" stroke-width="2.6" stroke-linejoin="round" clip-path="url(#cpB)"/>
<path d="M157.4,771.6 158,771.5 158.2,771.7 158.4,771.5 158.7,771.5 158.8,771.7 159.3,771.6 159.7,771.7 159.9,771.5 160,771.7 160.2,771.5 160.3,771.7 160.4,771.6 160.7,771.7 160.8,771.5 161,771.7 161.3,771.5 161.4,771.7 161.5,771.5 161.9,771.7 162,771.5 162.4,771.5 163.3,771.6 163.4,771.7 163.5,771.5 163.8,771.7 163.9,771.5 164.4,771.5 164.5,771.7 164.7,771.5 164.8,771.7 165,771.5 165.2,771.7 165.3,771.5 165.9,771.7 166,771.5 166.2,771.7 166.5,771.5 167,771.5 167.2,771.7 167.5,771.5 167.7,771.7 167.8,771.5 167.9,771.7 168.3,771.5 168.4,771.6 168.5,771.5 169.3,771.7 169.5,771.4 169.8,771.7 169.9,771.4 170.3,771.7 170.5,771.5 170.9,771.7 171,771.5 171.2,771.7 171.4,771.5 171.5,771.7 171.8,771.5 172.2,771.7 172.5,771.5 172.8,771.6 173.2,771.5 174.2,771.6 174.4,771.5 175,771.7 175.3,771.5 175.4,771.6 176.3,771.5 176.9,771.7 177,771.5 177.4,771.7 178.3,771.5 178.9,771.6 179.5,771.5 179.9,771.7 180.2,771.5 180.8,771.7 181.8,771.5 182.4,771.7 182.7,771.6 182.8,771.7 184.4,771.7 184.5,771.5 184.7,771.7 185.2,771.7 185.3,771.5 185.5,771.7 185.7,771.6 185.8,771.7 186.4,771.5 187,771.7 187.5,771.5 187.8,771.6 187.9,771.5 188.2,771.7 188.4,771.6 188.5,771.7 188.8,771.5 189.3,771.7 189.4,771.5 189.5,771.6 190,771.7 190.2,771.4 190.5,771.6 190.7,771.4 191.2,771.7 191.8,771.5 191.9,771.7 192.4,771.5 192.8,771.7 192.9,771.4 193,771.7 193.7,771.5 193.8,771.7 193.9,771.5 195,771.6 195.8,771.6 195.9,771.7 196,771.5 196.7,771.6 196.8,771.5 197,771.6 197.2,771.5 197.4,771.7 197.5,771.5 197.7,771.7 198.4,771.5 198.5,771.7 199.4,771.5 199.7,771.7 200,771.5 200.2,771.7 200.5,771.4 200.8,771.7 200.9,771.5 201,771.7 201.4,771.5 201.7,771.7 201.8,771.5 201.9,771.7 202.4,771.6 203,771.7 203.4,771.5 203.5,771.7 204.2,771.5 204.4,771.7 204.5,771.5 204.7,771.7 205,771.5 205.7,771.7 206.4,771.5 206.5,771.7 206.8,771.5 206.9,771.7 207,771.5 207.3,771.7 207.4,771.6 207.5,771.7 207.7,771.5 207.9,771.6 208,771.5 208.2,771.7 208.3,771.5 208.5,771.7 208.7,771.5 209,771.7 209.2,771.4 209.5,771.7 210.5,771.7 210.9,771.5 212.3,771.7 212.4,771.5 212.8,771.7 213,771.5 214,771.6 214.2,771.5 215.2,771.7 215.3,771.5 215.4,771.6 216,771.5 216.2,771.7 216.3,771.5 216.7,771.5 217.4,771.6 217.5,771.4 218,771.7 218.3,771.5 218.5,771.7 218.8,771.5 219,771.6 219.2,771.4 219.4,771.7 219.5,771.5 219.8,771.7 220,771.4 220.5,771.7 220.7,771.5 220.8,771.6 220.9,771.5 221,771.7 222.2,771.7 222.3,771.4 222.4,771.7 222.8,771.6 223.2,771.7 223.4,771.5 223.9,771.7 224.8,771.5 225,771.6 225.2,771.5 225.7,771.7 225.9,771.5 226.5,771.7 227,771.7 227.2,771.5 228,771.6 229.5,771.5 229.7,771.7 229.8,771.5 230.4,771.7 230.5,771.5 230.8,771.7 231,771.6 231.5,771.6 231.8,771.5 232.5,771.7 232.9,771.5 233,771.7 233.8,771.5 234,771.6 234.2,771.5 234.9,771.6 235,771.4 235.3,771.7 235.4,771.5 235.7,771.7 235.8,771.4 235.9,771.7 236.3,771.5 236.8,771.7 237.2,771.5 237.5,771.7 238.3,771.7 238.4,771.5 238.9,771.7 239.2,771.5 239.3,771.7 239.4,771.5 239.5,771.6 240,771.5 240.3,771.7 240.5,771.6 241.7,771.6 242.5,771.5 244,771.6 244.2,771.5 244.3,771.7 244.4,771.5 244.5,771.7 245.5,771.6 245.9,771.5 246,771.7 246.2,771.4 246.5,771.7 247.5,771.7 247.9,771.5 248,771.6 248.2,771.5 248.5,771.7 248.8,771.5 248.9,771.7 249.2,771.5 249.4,771.7 250.4,771.5 250.7,771.7 250.9,771.4 251.3,771.7 251.5,771.6 251.8,771.7 252.3,771.5 252.4,771.7 252.8,771.4 252.9,771.6 253.3,771.5 253.4,771.7 253.7,771.5 254.4,771.7 254.5,771.6 254.7,771.7 255.8,771.4 256.8,771.5 256.9,771.7 258.1,771.5 258.3,771.7 258.5,771.5 258.8,771.7 259.3,771.5 260.3,771.6 260.4,771.5 260.6,771.7 261,771.5 261.4,771.7 261.6,771.4 261.9,771.6 262,771.5 262.1,771.7 262.4,771.5 262.5,771.7 262.6,771.5 263.6,771.7 263.8,771.4 264.3,771.6 264.4,771.4 264.8,771.7 265,771.5 265.6,771.5 265.9,771.7 266,771.5 266.1,771.6 266.5,771.5 266.6,771.6 267,771.5 267.1,771.7 267.3,771.5 267.4,771.6 267.6,771.4 267.8,771.7 268.4,771.5 269,771.6 269.3,771.5 269.5,771.7 269.8,771.4 270.1,771.7 270.4,771.5 270.9,771.7 271,771.5 271.4,771.7 271.6,771.4 272,771.7 272.8,771.4 272.9,771.7 273.4,771.5 273.5,771.7 273.8,771.5 273.9,771.7 274,771.5 274.5,771.5 274.6,771.7 274.8,771.6 274.9,771.7 275.8,771.5 276.5,771.4 276.8,771.7 276.9,771.5 277,771.7 277.6,771.5 277.8,771.6 278,771.5 279.3,771.7 279.4,771.4 279.6,771.6 279.9,771.5 280,771.6 280.8,771.6 280.9,771.5 281,771.6 281.1,771.5 281.5,771.7 281.8,771.6 282,771.7 282.1,771.5 282.4,771.5 282.5,771.7 282.6,771.6 282.8,771.7 283.1,771.5 283.3,771.7 283.4,771.4 283.6,771.7 283.8,771.5 284,771.7 284.5,771.5 284.6,771.7 284.9,771.5 285,771.7 285.1,771.5 285.5,771.7 285.6,771.5 286.4,771.6 286.5,771.4 286.8,771.7 287.4,771.5 287.6,771.7 288.3,771.5 289.5,771.5 290,771.6 290.1,771.5 290.3,771.6 290.6,771.4 290.8,771.7 290.9,771.5 291.1,771.7 291.5,771.5 291.6,771.7 291.8,771.4 292.8,771.7 292.9,771.5 293.1,771.5 293.3,771.7 293.9,771.5 294.1,771.7 294.5,771.7 295.3,771.4 295.5,771.7 295.6,771.5 295.8,771.7 295.9,771.6 296,771.7 296.1,771.4 296.6,771.6 296.8,771.4 297,771.7 297.3,771.4 297.6,771.4 297.8,771.6 298.3,771.7 298.4,771.4 298.6,771.6 298.8,771.4 299.1,771.6 299.3,771.5 300,771.7 300.3,771.5 300.4,771.7 300.5,771.4 300.9,771.7 301.3,771.5 301.4,771.7 301.5,771.5 301.6,771.7 302.1,771.7 302.3,771.5 302.4,771.7 302.5,771.5 303.3,771.4 303.5,771.6 303.6,771.4 303.8,771.7 304.1,771.4 304.3,771.7 304.6,771.5 304.8,771.7 304.9,771.4 305,771.6 306.4,771.5 306.5,771.7 306.6,771.6 306.8,771.7 307.1,771.5 307.3,771.7 307.8,771.6 308,771.4 308.1,771.6 308.6,771.5 309,771.7 309.9,771.5 310.5,771.5 310.8,771.6 310.9,771.4 311.3,771.7 311.4,771.5 311.5,771.7 311.9,771.5 312.3,771.7 313.3,771.5 313.4,771.7 313.6,771.4 313.9,771.7 315.3,771.6 315.6,771.5 316.3,771.7 317.4,771.4 318.5,771.6 318.8,771.4 318.9,771.6 319.1,771.4 319.4,771.6 320.5,771.7 320.9,771.4 321,771.6 321.1,771.4 321.6,771.6 322.1,771.4 322.3,771.5 323.1,771.4 323.4,771.6 323.5,771.4 323.6,771.6 324.1,771.5 324.3,771.6 324.4,771.4 324.6,771.5 324.9,771.4 325,771.5 325.1,771.4 325.3,771.6 325.4,771.5 325.5,771.6 325.8,771.4 326,771.6 326.9,771.6 327,771.4 327.5,771.5 327.6,771.3 327.9,771.6 328.1,771.3 328.3,771.6 328.9,771.6 329,771.3 329.1,771.5 329.5,771.3 330,771.5 330.1,771.3 331.6,771.4 331.8,771.3 332.6,771.3 332.9,771.5 333.1,771.2 333.4,771.4 333.5,771.3 333.9,771.4 335,771.1 335.1,771.3 335.5,771.2 335.6,771.3 335.8,771.1 335.9,771.2 336.3,771 336.4,771.1 336.6,770.9 336.8,771.2 337.6,770.8 337.9,771 338.6,770.9 338.9,770.6 340.1,770.3 340.3,770 340.4,770.1 341,769.6 341.9,768.3 343.3,761.7 344.1,739.5 345.1,577.4 348,767.7 349.4,769.8 349.5,769.7 349.6,770 350.5,770.3 351.1,770.7 351.3,770.6 352.9,770.9 353.5,771.2 353.6,771 353.8,771.2 354.6,771.1 354.8,771.3 355.1,771.2 355.5,771.3 355.6,771.1 356.3,771.4 357,771.2 357.3,771.5 357.5,771.3 358.8,771.3 358.9,771.4 359.1,771.3 359.3,771.5 359.4,771.3 360.1,771.4 360.3,771.3 360.5,771.4 360.6,771.3 360.8,771.5 361,771.3 361.1,771.5 361.8,771.3 361.9,771.5 362.6,771.3 362.8,771.6 363.3,771.4 363.4,771.5 364.3,771.3 364.9,771.6 365,771.3 365.5,771.5 365.6,771.3 365.9,771.5 366,771.4 366.1,771.5 366.5,771.3 367.5,771.5 367.8,771.3 368.1,771.5 368.9,771.6 369,771.4 369.1,771.6 369.6,771.4 369.8,771.5 369.9,771.3 370,771.6 370.1,771.4 370.4,771.6 370.6,771.3 371,771.4 371.1,771.6 371.6,771.4 371.8,771.6 371.9,771.3 372.3,771.6 372.8,771.5 372.9,771.3 373.1,771.5 373.3,771.4 373.8,771.6 373.9,771.3 375.3,771.6 375.4,771.4 376,771.6 376.1,771.4 376.5,771.6 376.6,771.4 376.9,771.5 377,771.4 377.1,771.6 377.4,771.3 377.6,771.6 378,771.4 378.4,771.6 379,771.4 379.4,771.6 379.6,771.4 380,771.5 380.1,771.3 380.3,771.5 380.8,771.4 381.4,771.4 381.5,771.6 382.5,771.5 382.6,771.3 383,771.3 383.1,771.6 383.3,771.4 383.5,771.6 384.8,771.6 385,771.3 385.4,771.5 385.8,771.6 386,771.3 386.1,771.6 387.6,771.3 387.8,771.5 388.5,771.4 389,771.6 389.1,771.4 389.6,771.6 389.8,771.4 390.4,771.4 390.5,771.5 390.6,771.3 390.8,771.5 391.5,771.4 391.6,771.5 391.8,771.3 391.9,771.5 392.1,771.4 392.5,771.5 392.6,771.3 393.5,771.5 393.9,771.3 394.8,771.4 395.1,771.5 395.3,771.3 396.1,771.5 396.3,771.3 396.5,771.5 396.9,771.3 397.1,771.5 397.3,771.3 397.4,771.5 397.6,771.3 397.9,771.5 398.4,771.2 398.5,771.5 401.4,771.2 401.6,771.4 402.1,771.2 402.3,771.5 402.6,771.2 402.8,771.4 402.9,771.2 403.1,771.2 403.3,771.4 403.6,771.2 404,771.4 404.1,771.2 404.3,771.4 404.4,771.2 404.6,771.4 404.8,771.1 405.4,771.3 405.5,771.1 405.6,771.4 406,771.2 406.1,771.3 406.4,771.1 406.6,771.3 406.9,771.1 407.3,771.3 407.4,771.2 407.6,771.4 408,771.2 408.1,771.3 408.4,771.1 409.4,771.1 409.6,771.3 409.9,771.1 410,771.3 410.1,771 410.8,771.2 411.4,771.1 411.5,771 411.8,771.2 412,770.9 412.3,771.2 412.4,771 413.5,771 413.6,770.9 413.8,771.1 413.9,770.9 414.4,771 414.5,770.8 414.6,771 415,770.9 415.8,771 416.8,770.9 417.1,770.7 417.3,770.8 417.6,770.6 417.8,770.8 417.9,770.6 418,770.7 418.1,770.6 418.5,770.7 418.6,770.5 418.8,770.6 419.8,770.5 419.9,770.6 421.3,770.1 421.6,770.3 422.4,769.9 422.6,770.1 423.6,769.9 423.8,769.7 424,769.8 424.1,769.6 424.3,769.7 424.9,769.3 425.4,769.3 425.5,769.1 425.6,769.2 425.9,769 426.4,768.8 427,768.6 428,768.1 431.6,765.4 431.8,765.1 431.9,765.2 432.6,764.7 432.8,764.4 432.9,764.6 433.6,764 433.8,764.2 434.1,763.9 434.9,764.1 435.1,764.3 435.3,764.1 435.6,764.6 435.9,764.4 436.9,765.4 437,765.2 437.5,765.9 439.4,767.1 439.5,767.4 439.8,767.4 439.9,767.6 440.1,767.6 440.3,767.9 441.1,768.2 441.3,768.5 441.4,768.4 441.6,768.7 441.8,768.5 442,768.8 442.1,768.7 442.5,768.8 443.1,769.2 444.4,769.7 444.5,769.6 445,769.9 445.3,769.7 445.5,770 445.8,769.9 446.8,770.3 447.4,770.2 447.5,770.4 447.6,770.2 447.8,770.4 447.9,770.2 448.9,770.5 449,770.4 449.1,770.7 449.6,770.5 450,770.8 450.3,770.6 451,770.9 451.1,770.6 451.5,770.8 451.6,770.7 452,770.7 452.1,770.9 452.3,770.7 452.5,770.9 452.8,770.8 453.4,770.9 453.5,770.8 453.6,771 454,770.8 454.5,771.1 454.6,770.8 455.1,771 455.3,770.9 455.5,771.1 455.6,770.9 456.8,771.1 456.9,770.9 457.1,771.2 457.4,770.9 458.1,771.1 458.8,771.1 459.3,771.2 459.4,771 459.5,771.2 459.8,771.1 460.1,771.3 460.4,771.1 460.8,771.3 461.4,771.2 462,771.3 462.1,771.1 463,771.3 463.3,771.1 463.4,771.4 463.9,771.2 464,771.3 464.4,771.2 464.5,771.4 464.9,771.2 465,771.3 465.1,771.2 465.3,771.4 466.6,771.4 466.8,771.2 466.9,771.4 467,771.2 467.3,771.4 467.5,771.3 467.6,771.4 467.8,771.3 468.3,771.2 468.5,771.3 468.6,771.2 469,771.4 469.1,771.2 469.3,771.4 471,771.4 471.1,771.3 471.9,771.4 472,771.2 473,771.4 473.6,771.3 475,771.2 475.4,771.5 475.5,771.3 475.9,771.5 476,771.2 476.3,771.4 476.5,771.3 476.6,771.5 477.5,771.3 477.8,771.5 477.9,771.4 478,771.5 478.8,771.3 479.3,771.5 479.4,771.3 479.8,771.5 479.9,771.3 480.8,771.5 481,771.2 481.3,771.5 481.4,771.4 481.9,771.5 482.3,771.2 484.5,771.5 484.6,771.3 485,771.4 485.4,771.2 485.6,771.4 485.8,771.2 485.9,771.5 486.1,771.2 486.6,771.5 486.8,771.3 487.1,771.3 487.3,771.5 488.4,771.2 488.6,771.4 488.8,771.2 489.1,771.4 489.4,771.2 489.6,771.4 490.6,771.2 491,771.4 491.1,771.2 491.8,771.4 492,771.2 492.1,771.4 492.4,771.2 493.4,771.1 493.6,771.4 494.1,771.4 494.4,771.1 494.6,771.4 494.8,771.1 495.4,771.4 495.6,771.1 495.8,771.3 496.4,771.1 496.6,771.3 496.8,771.1 496.9,771.3 497,771.1 497.1,771.2 497.3,771 497.4,771.2 498.8,771 499.1,771.1 499.3,771 500.1,771.1 500.3,770.9 500.6,771 501.5,771 502.3,770.7 502.6,770.8 502.8,770.6 503,770.8 503.1,770.5 503.4,770.7 503.9,770.4 504.4,770.5 505.8,769.9 506,770 506.1,769.8 506.3,769.9 506.5,769.7 506.6,769.8 507,769.4 507.1,769.5 507.3,769.2 507.4,769.4 508.1,768.6 508.4,768.6 508.6,768.1 508.8,768.2 509.8,766.8 511.5,761.5 514,749.5 519.1,768.3 520.1,769.2 521.1,769.6 521.3,769.8 521.4,769.7 521.6,770 521.9,769.9 522.6,770.1 522.9,770.4 523,770.2 523.8,770.6 524.3,770.8 524.4,770.5 524.6,770.7 526,770.9 526.1,770.8 526.4,771 526.5,770.9 526.6,771.1 526.8,770.8 526.9,771 527.4,771 527.8,770.9 528.4,771.2 528.6,770.9 528.8,771.2 528.9,771 529.1,771.2 529.3,771 529.4,771.2 529.8,771.1 530,771.3 530.1,771.1 530.5,771.1 530.6,771.3 530.9,771.1 531.3,771.3 531.4,771.1 531.6,771.4 532.1,771.3 532.3,771.1 532.5,771.3 532.6,771.2 532.8,771.4 533,771.2 533.4,771.4 533.6,771.2 534,771.3 534.4,771.2 534.8,771.5 534.9,771.2 535,771.5 535.3,771.3 535.8,771.5 536.5,771.2 536.6,771.4 537,771.3 537.5,771.4 537.6,771.3 538,771.5 538.4,771.2 538.5,771.4 538.8,771.2 539,771.5 539.3,771.3 539.4,771.5 540.3,771.5 540.5,771.3 540.6,771.5 541.3,771.3 541.4,771.6 541.8,771.4 541.9,771.6 542,771.3 543.3,771.5 543.8,771.3 544.3,771.4 544.4,771.5 544.8,771.4 545.1,771.5 545.4,771.4 546.1,771.5 546.4,771.4 546.6,771.6 546.8,771.4 547.4,771.4 547.5,771.6 547.6,771.4 548.5,771.3 549.4,771.6 549.6,771.4 549.8,771.6 549.9,771.4 550,771.6 550.3,771.5 551,771.4 551.1,771.6 552,771.6 552.1,771.4 552.3,771.5 552.8,771.6 552.9,771.4 553,771.6 553.4,771.4 553.5,771.6 553.6,771.4 554.1,771.5 554.5,771.4 554.6,771.6 554.9,771.4 555,771.6 555.3,771.4 555.5,771.6 555.9,771.4 556,771.6 557.6,771.6 557.8,771.4 558.1,771.5 558.9,771.4 559.3,771.6 559.4,771.4 559.5,771.6 559.6,771.4 559.9,771.6 560.4,771.6 560.5,771.4 560.6,771.6 560.9,771.4 561.3,771.6 561.4,771.4 562.3,771.6 563.1,771.4 563.3,771.6 563.8,771.5 564.1,771.7 564.3,771.4 564.6,771.5 565.3,771.6 565.4,771.4 565.5,771.6 565.6,771.4 565.9,771.6 566,771.4 566.1,771.6 566.3,771.5 566.5,771.6 567.1,771.5 567.3,771.6 567.4,771.4 567.5,771.6 567.6,771.5 567.8,771.7 568.5,771.7 568.6,771.5 569.5,771.7 570,771.4 571,771.7 571.1,771.4 571.6,771.6 572.4,771.7 572.5,771.5 572.6,771.7 573.1,771.6 573.9,771.5 575.1,771.6 575.5,771.4 575.6,771.6 575.8,771.4 575.9,771.6 576.5,771.6 576.6,771.5 576.8,771.6 576.9,771.5 577.1,771.7 577.4,771.4 578.3,771.6 578.4,771.4 579.3,771.7 579.5,771.5 579.9,771.7 580.3,771.5 580.4,771.6 580.6,771.4 581,771.6 581.1,771.5 581.3,771.7 581.5,771.5 582.5,771.7 582.6,771.5 582.9,771.6 583,771.4 583.5,771.4 583.6,771.7 583.9,771.5 584.9,771.6 585.1,771.4 585.6,771.7 586.9,771.6 587.1,771.4 587.3,771.7 587.4,771.4 587.5,771.7 587.6,771.4 588.6,771.7 588.8,771.5 589.1,771.4 589.4,771.6 589.5,771.4 589.6,771.7 589.9,771.4 590.1,771.6 590.3,771.5 590.4,771.7 590.9,771.5 591,771.7 591.1,771.4 591.4,771.6 591.8,771.7 591.9,771.5 592,771.7 592.1,771.5 593,771.6 593.1,771.5 593.3,771.7 593.6,771.5 593.9,771.7 594.8,771.4 595,771.7 596.4,771.5 596.5,771.7 596.8,771.5 598.3,771.4 598.6,771.7 598.9,771.5 599.3,771.7 599.4,771.4 599.8,771.6 600,771.4 600.4,771.6 600.8,771.4 600.9,771.7 601.1,771.4 601.3,771.7 601.8,771.6 601.9,771.4 602,771.6 602.3,771.4 602.5,771.7 602.8,771.5 602.9,771.7 603.3,771.5 603.4,771.6 603.5,771.4 603.6,771.6 603.8,771.4 603.9,771.5 604.4,771.4 604.6,771.6 604.9,771.4 605,771.7 605.3,771.5 605.6,771.7 605.8,771.5 605.9,771.7 606.3,771.4 606.4,771.7 606.5,771.5 606.8,771.7 606.9,771.4 607,771.7 607.3,771.4 607.5,771.6 608.3,771.7 608.5,771.5 608.6,771.7 608.8,771.5 609.3,771.7 610,771.5 610.1,771.6 610.4,771.5 610.6,771.7 610.8,771.4 610.9,771.6 611.1,771.4 611.6,771.7 611.8,771.4 612.3,771.7 612.4,771.5 612.6,771.7 612.8,771.5 613,771.6 614,771.4 614.1,771.6 614.9,771.4 615,771.7 615.3,771.4 615.4,771.7 615.5,771.5 616.1,771.7 616.4,771.4 616.5,771.6 616.6,771.4 617.6,771.6 617.8,771.4 618.4,771.6 618.5,771.4 619.3,771.6 619.4,771.5 619.5,771.7 619.9,771.7 620,771.4 620.5,771.6 620.9,771.4 621.3,771.6 621.4,771.4 621.8,771.6 622,771.4 622.3,771.6 622.4,771.4 622.5,771.7 622.6,771.5 622.8,771.6 622.9,771.4 623,771.6 623.3,771.4 623.5,771.6 623.6,771.5 623.8,771.7 624.1,771.5 624.3,771.7 624.4,771.5 624.8,771.5 625.4,771.4 625.5,771.7 625.9,771.4 626.6,771.7 626.9,771.4 627.1,771.5 627.6,771.5 628,771.6 628.4,771.4 628.6,771.6 628.8,771.4 628.9,771.6 629.3,771.5 629.4,771.7 629.8,771.5 630.1,771.6 631.4,771.5 631.6,771.6 631.8,771.4 631.9,771.6 632.1,771.5 632.3,771.6 632.5,771.5 633.3,771.4 633.4,771.6 633.8,771.4 634.4,771.5 635.4,771.6 635.5,771.4 635.6,771.5 635.8,771.4 636.1,771.6 636.5,771.4 636.9,771.6 637,771.4 637.3,771.6 637.4,771.4 637.5,771.6 637.8,771.4 637.9,771.6 638.3,771.4 638.8,771.4 638.9,771.6 639,771.4 639.1,771.6 639.3,771.4 639.5,771.6 639.9,771.5 640,771.6 641.3,771.4 641.5,771.6 641.6,771.4 641.8,771.5 642,771.5 642.3,771.5 643.4,771.3 643.5,771.5 644.3,771.4 644.4,771.6 644.5,771.4 644.6,771.6 645.1,771.4 646.6,771.4 647.3,771.5 647.5,771.4 647.6,771.5 647.9,771.3 648,771.5 648.1,771.3 648.8,771.3 648.9,771.5 649.8,771.5 650.3,771.3 650.4,771.4 650.8,771.3 651.6,771.4 651.8,771.2 652.4,771.4 652.5,771.1 652.8,771.4 653.4,771.2 654.4,771.1 654.6,771.3 654.8,771 655,771.1 655.1,771 655.6,771 655.9,771.1 656.4,770.8 656.8,771 657.1,771 658.3,770.5 658.6,770.6 658.8,770.4 658.9,770.5 659.5,770.2 659.6,770 659.9,770.1 660.3,769.5 660.5,769.6 661.8,767.7 663,760.7 663.8,741.1 664.6,634.1 665.4,719.2 665.8,704.4 666.3,630.1 669,767.2 671,770 671.1,769.8 671.4,770.2 671.6,770.1 672.3,770.5 672.5,770.4 672.8,770.5 672.9,770.8 673.1,770.5 673.4,770.9 673.5,770.6 673.8,770.7 673.9,771 674,770.7 674.5,771.1 674.6,770.9 675.1,771.1 675.4,770.9 675.6,771.1 675.8,770.9 675.9,771.1 676.1,771.2 676.3,771 677.6,771.2 677.9,771 678,771.2 678.4,771 678.5,771.3 678.9,771.1 679,771.3 679.4,771.2 679.8,771.4 680,771.2 680.1,771.3 680.3,771.1 680.5,771.3 681,771.3 681.1,771.2 681.5,771.4 682.1,771.4 682.3,771.1 682.5,771.4 682.8,771.1 682.9,771.3 683,771.1 683.1,771.3 683.5,771.1 684.6,771.3 684.9,771.1 685,771.3 685.1,771.1 685.3,771.3 685.9,771.3 686.3,771.1 686.5,771.2 687.1,771.1 687.3,771.2 687.8,771.1 687.9,771.2 688,771 688.5,771.1 688.8,770.9 689.4,771.2 690,770.8 690.1,771 690.3,770.8 690.5,771 690.6,770.8 690.9,771 691,770.8 691.1,771 691.3,770.8 691.4,770.9 691.6,770.6 691.9,770.8 692.1,770.5 692.8,770.5 693,770.3 693.6,770.2 694.5,769.5 695.1,769.1 696.6,765.5 697.6,756.1 698.4,719.6 699,619.6 699.6,698.5 699.9,691.7 700.4,627.8 703.3,767.6 703.6,768.3 705.9,770.4 706,770.1 706.1,770.4 706.4,770.3 707,770.7 707.3,770.6 707.4,770.8 708,770.7 708.3,771 708.4,770.8 709.1,771 709.6,770.9 710.1,770.9 710.5,771.2 711.3,771.1 712.1,771.3 712.3,771.1 712.4,771.3 712.6,771.1 713.4,771.2 713.5,771.4 714,771.3 714.8,771.4 714.9,771.2 715.3,771.4 715.6,771.3 715.8,771.5 716.6,771.4 717.3,771.4 717.4,771.2 717.5,771.5 718,771.2 718.4,771.5 718.5,771.2 718.6,771.4 718.8,771.3 718.9,771.5 719.1,771.3 719.4,771.5 719.8,771.3 719.9,771.5 721.1,771.4 721.3,771.5 721.9,771.3 722,771.4 722.1,771.3 722.3,771.5 723.8,771.3 723.9,771.5 724.5,771.4 724.6,771.6 724.9,771.3 725,771.6 725.1,771.3 725.3,771.5 725.4,771.3 726,771.5 726.5,771.5 726.8,771.4 726.9,771.5 727.1,771.4 727.3,771.5 727.5,771.3 728,771.5 728.4,771.4 728.5,771.5 728.9,771.4 729.3,771.6 729.6,771.3 729.8,771.5 730.9,771.6 731.4,771.3 731.5,771.5 731.6,771.4 732.3,771.3 732.8,771.5 733.3,771.3 733.4,771.6 734.1,771.5 734.3,771.4 734.6,771.5 735,771.4 735.1,771.6 735.6,771.3 736.1,771.5 736.3,771.3 736.4,771.5 737,771.5 737.3,771.3 737.5,771.5 737.8,771.3 738,771.4 738.3,771.3 738.4,771.4 739.4,771.2 739.9,771.4 740,771.2 740.8,771.4 741,771.3 741.1,771.5 741.4,771.2 741.8,771.5 743.4,771.2 743.6,771.4 744,771.2 744.1,771.3 744.3,771.2 744.4,771.4 744.5,771.2 744.6,771.4 744.8,771.1 745.6,771.3 746.1,771.2 746.8,771 746.9,771.2 747.4,771.2 747.6,771 747.8,771.2 747.9,770.9 748,771.1 748.1,770.9 748.4,771.1 748.5,770.9 749,771 749.3,770.8 749.6,771 749.8,770.7 750.8,770.7 751.1,770.6 751.5,770.6 752,770.4 752.4,770.4 752.8,770 752.9,770.2 753.9,769.7 754.5,769 754.6,769.1 754.8,768.8 754.9,768.9 757.1,762.6 758.3,746.7 759,697.4 759.9,375.7 762.6,762.5 764.5,768.4 764.8,768.5 765.3,769.2 765.4,769.1 765.6,769.5 766.1,769.6 766.5,770.1 766.6,769.9 767.4,770.4 767.5,770.2 768,770.6 768.1,770.4 768.6,770.8 769,770.6 770.1,771 770.5,770.8 770.6,771.1 770.8,770.8 770.9,771.1 771,770.8 771.3,771.1 771.4,770.9 771.5,771.1 771.6,770.9 771.8,771.1 771.9,770.9 772.1,771.2 772.5,771 772.6,771.2 773.9,771 774.1,771.2 774.3,771.1 774.5,771.3 774.8,771 775,771.3 776,771.2 776.1,771.1 777.4,771.3 777.5,771.1 777.8,771.4 777.9,771.2 778.9,771.1 779.4,771.3 779.6,771.1 780,771.3 780.3,771 780.5,771.3 780.6,771 780.8,771.3 781.3,771 781.4,771.2 781.5,771 781.9,771.2 782.5,771 782.6,771.2 782.8,771 782.9,771.1 783.3,770.9 783.4,771.1 783.9,770.7 784.3,770.9 784.4,770.6 784.8,770.4 784.9,770.6 785.9,769.7 786.8,767.5 787.5,758.7 788.1,728.8 788.3,728.9 789,755 789.4,749.3 789.9,726.2 792.4,770 793.6,770.6 793.8,770.9 794.1,770.8 794.3,771 794.8,770.9 795,771.1 795.1,771 795.3,771.2 795.8,771.1 796.9,771.4 797,771.2 797.1,771.4 797.3,771.2 797.5,771.4 797.6,771.3 798.3,771.5 798.4,771.3 798.5,771.4 798.6,771.2 799,771.4 799.4,771.3 800.4,771.5 801.6,771.4 801.8,771.6 801.9,771.4 802,771.5 802.1,771.3 802.4,771.5 802.5,771.4 803.1,771.3 803.5,771.5 803.9,771.4 804.1,771.5 804.3,771.4 804.4,771.5 804.9,771.6 805.3,771.3 805.4,771.6 805.6,771.4 806.3,771.6 807,771.6 807.1,771.4 807.8,771.6 807.9,771.3 808.4,771.5 808.5,771.3 808.8,771.6 809.3,771.6 809.4,771.4 810.1,771.4 810.3,771.6 811.1,771.4 811.3,771.6 811.5,771.4 811.6,771.6 812.9,771.7 813,771.4 813.5,771.6 813.9,771.4 814,771.6 814.3,771.4 814.6,771.6 815.6,771.5 815.8,771.6 816,771.4 816.3,771.4 816.4,771.6 816.9,771.4 817.4,771.6 817.9,771.4 818,771.6 818.3,771.4 818.4,771.7 819.4,771.4 819.5,771.7 820,771.4 820.4,771.7 821,771.5 822.3,771.5 822.6,771.5 822.8,771.7 823.3,771.4 823.8,771.6 824,771.5 824.1,771.7 825,771.6 825.3,771.4 825.4,771.6 825.5,771.4 826,771.6 827.1,771.4 827.3,771.7 827.6,771.4 827.8,771.6 828.5,771.4 828.6,771.6 828.8,771.4 830.3,771.4 831.5,771.6 831.6,771.4 831.8,771.7 831.9,771.5 832.3,771.6 832.4,771.4 832.6,771.6 832.8,771.4 833.1,771.5 833.8,771.4 833.9,771.6 834,771.4 834.1,771.6 834.3,771.5 834.8,771.6 835,771.4 835.3,771.6 835.4,771.4 835.8,771.7 836,771.4 836.9,771.6 837,771.4 837.3,771.5 837.5,771.4 837.9,771.6 838,771.4 838.4,771.6 838.8,771.4 839,771.6 839.1,771.5 839.3,771.6 839.8,771.4 839.9,771.6 840.1,771.5 840.5,771.6 841,771.4 841.3,771.6 841.6,771.4 842.4,771.6 842.5,771.4 842.6,771.6 842.9,771.4 843.3,771.7 843.5,771.4 843.6,771.6 844.4,771.4 844.5,771.6 845.3,771.4 845.4,771.7 845.8,771.5 846.3,771.5 846.4,771.4 846.8,771.6 848.6,771.5 849,771.4 849.3,771.6 849.5,771.4 850,771.6 850.3,771.4 850.4,771.5 850.5,771.4 850.6,771.6 851.1,771.4 851.4,771.6 851.6,771.4 851.8,771.6 851.9,771.4 852.6,771.4 852.8,771.5 852.9,771.4 853.3,771.5 853.8,771.6 854,771.4 854.3,771.5 854.6,771.3 854.9,771.6 855.3,771.3 855.5,771.6 855.8,771.4 855.9,771.6 856.1,771.3 856.5,771.6 856.6,771.3 857,771.5 857.1,771.3 858.8,771.5 859,771.4 859.1,771.6 859.3,771.4 859.6,771.4 859.8,771.6 859.9,771.3 860,771.6 860.1,771.4 860.5,771.3 860.6,771.5 861.3,771.4 862,771.4 862.1,771.6 862.5,771.4 862.6,771.5 862.8,771.4 862.9,771.6 864,771.5 864.3,771.3 864.5,771.5 865,771.3 865.4,771.5 865.5,771.4 865.8,771.5 865.9,771.3 866.1,771.5 866.3,771.3 866.5,771.5 866.8,771.3 866.9,771.5 867.4,771.4 867.5,771.5 867.6,771.4 867.8,771.5 867.9,771.3 868.1,771.5 868.4,771.3 868.8,771.5 868.9,771.3 869.8,771.5 869.9,771.3 870.9,771.4 871.5,771.2 871.8,771.4 872,771.2 872.1,771.4 872.3,771.2 872.5,771.4 872.8,771.3 873.4,771.4 874,771.2 874.1,771 875.1,771 875.5,770.7 875.6,770.8 876,770.4 876.1,770.5 877.3,769.7 877.5,769.7 877.6,770 877.8,769.8 878.5,770.5 878.6,770.4 879.6,771.1 879.8,770.9 880,771.1 880.4,771 880.6,771.2 880.9,771.1 881.3,771.3 881.8,771.3 882.4,771.4 882.5,771.1 883,771.4 883.1,771.1 883.4,771.4 884.3,771.1 884.4,771.3 884.9,771.2 885.1,771.4 885.3,771.2 886.5,771.3 886.6,771.2 886.8,771.4 887,771.2 887.3,771.4 887.6,771.2 888.5,771.4 889,771.1 890,771.3 890.8,771.1 891,771.3 891.3,771.1 891.5,771.3 891.6,771.1 891.8,771.3 891.9,771.1 892,771.3 892.5,771.1 892.6,771.3 892.8,771.1 892.9,771.3 894,771.1 894.1,771.3 894.5,771.1 894.6,771.3 894.9,771.1 895.1,771.2 895.5,771.3 895.9,771 896,771.2 896.1,771 896.3,771.2 896.4,771 897.5,771.2 897.6,770.9 897.9,771.2 898.3,771 898.8,770.9 899.3,771.1 899.5,770.9 899.6,771.1 899.8,770.9 900,771.1 900.1,770.9 900.5,771 900.6,770.9 900.8,771 900.9,770.8 901.6,771 901.8,770.8 901.9,771 902.3,770.8 902.4,770.9 902.5,770.7 902.8,771 903.1,770.7 903.3,770.9 903.6,770.7 903.9,770.9 904.5,770.9 904.9,770.6 905,770.8 905.3,770.5 905.4,770.8 905.9,770.5 906,770.7 906.1,770.5 907,770.6 907.1,770.4 907.3,770.6 907.6,770.3 908.3,770.5 908.9,770.2 909,770.3 909.4,770.1 909.5,770.3 909.6,770.1 909.8,770.2 909.9,770 910.3,770.2 910.4,769.9 910.6,770.1 910.9,769.8 911,770.1 911.4,769.8 911.5,769.9 911.6,769.7 911.9,769.9 912.1,769.6 912.4,769.5 912.5,769.7 912.9,769.4 913.1,769.5 913.8,769.1 913.9,769.3 914.4,769.1 914.5,768.8 914.9,768.8 915.9,768.4 916,768.1 916.4,768 918.3,766.5 918.5,766 918.6,766.1 921,761.4 923.5,745.6 925.3,697.3 927.5,292.9 930.5,715.7 931.1,706.1 932.9,749.1 933.3,748.1 934.3,717.6 935.5,751.3 936,744.8 936.5,724.7 936.6,724.7 938.5,763.8 938.9,763.9 939.8,759.3 941.3,767.8 941.5,768.2 941.6,768.1 943.6,769.5 944,769.5 945.4,770 946.3,770 947.1,770.3 948.5,770.5 948.6,770.3 950.4,770.7 950.6,770.4 952.9,770.6 953.3,770.9 953.4,770.6 954,770.9 954.5,770.7 955.1,770.9 955.3,770.7 955.5,770.9 955.6,770.8 956.5,770.8 957.1,771 957.4,770.8 958.1,771.1 958.3,770.8 959.4,771 959.5,770.8 959.6,771.1 959.8,770.8 959.9,771 960,770.9 960.1,771 960.3,770.8 960.6,771.1 961.1,770.9 961.4,771.1 961.5,770.8 962,771 962.1,770.8 962.3,771 962.5,770.8 962.6,771.1 963,771.1 963.1,770.8 963.6,770.9 963.9,770.8 964.8,770.9 964.9,770.7 965,770.9 965.1,770.6 966.1,770.7 966.4,770.5 966.5,770.7 966.6,770.4 966.8,770.5 966.9,770.2 967.3,770.4 967.4,770.1 967.8,770.1 967.9,769.8 968.8,768.6 969.6,762.9 970.6,724 972.1,765.2 972.4,765.3 973,760 973.8,728.2 976.3,769.4 976.6,769.6 976.8,769.5 977.3,769.8 977.9,769.8 978,769.6 978.3,769.8 978.5,769.5 978.6,769.7 980.3,768.5 981.5,765.4 982.6,754.7 983.4,720.2 984.1,560.9 987,766.1 988.4,769.1 988.5,769 989.3,769.9 989.4,769.7 989.6,770 989.8,769.9 990.1,770.3 990.3,770.1 991.4,770.7 991.5,770.6 992.1,770.8 992.9,770.7 993,770.9 993.1,770.8 993.3,771 993.5,770.9 993.6,771.1 993.8,770.9 994.3,770.9 994.4,771.1 994.6,770.9 995.4,771.2 995.5,770.9 995.6,771.1 995.8,770.9 995.9,771 997,770 997.6,770.9 997.9,771.1 998,771 998.8,771.3 998.9,771.1 999.6,771.1 999.8,771.3 1000,771.2 1000.3,771.3 1000.4,771.2 1000.5,771.4 1000.6,771.2 1000.8,771.5 1000.9,771.2 1002.6,771.3 1002.9,771.5 1003.1,771.4 1003.8,771.5 1004,771.4 1005,771.5 1005.6,771.3 1005.8,771.5 1005.9,771.3 1006,771.5 1006.9,771.4 1007.3,771.6 1008.5,771.4 1008.6,771.6 1009,771.3 1009.1,771.6 1010,771.5 1010.5,771.3 1010.6,771.5 1011.1,771.6 1011.3,771.4 1011.9,771.6 1012,771.3 1012.4,771.6 1012.6,771.3 1012.8,771.6 1014,771.6 1014.1,771.3 1014.4,771.6 1014.6,771.4 1015.1,771.6 1015.8,771.3 1016,771.6 1016.1,771.4 1016.3,771.6 1016.5,771.4 1017.3,771.6 1017.4,771.4 1017.8,771.6 1018.1,771.6 1018.4,771.4 1018.6,771.6 1019.8,771.4 1020.1,771.5 1020.3,771.4 1020.6,771.6 1020.8,771.4 1020.9,771.6 1021,771.4 1021.3,771.7 1021.8,771.4 1021.9,771.6 1022.3,771.5 1023.1,771.4 1023.9,771.7 1024.5,771.4 1024.7,771.6 1024.9,771.4 1025,771.6 1025.2,771.4 1026,771.4 1026.2,771.6 1026.3,771.5 1026.5,771.7 1026.7,771.4 1026.8,771.6 1027,771.4 1027.9,771.4 1028,771.6 1028.4,771.4 1028.5,771.6 1029.3,771.4 1029.7,771.6 1029.8,771.5 1029.9,771.7 1030,771.4 1030.3,771.6 1030.4,771.5 1030.5,771.7 1031,771.4 1031.2,771.6 1031.5,771.4 1031.7,771.6 1031.9,771.4 1033,771.7 1033.8,771.6 1033.9,771.4 1034.4,771.7 1034.9,771.4 1036.7,771.6 1036.9,771.4 1037.7,771.6 1037.8,771.4 1038.2,771.7 1038.4,771.5 1038.5,771.6 1038.7,771.4 1038.8,771.6 1039,771.4 1039.2,771.6 1039.3,771.4 1039.4,771.7 1039.9,771.5 1040,771.7 1040.4,771.5 1040.5,771.6 1041.3,771.6 1041.7,771.5 1042.7,771.5 1043.2,771.4 1043.3,771.6 1043.4,771.4 1043.5,771.6 1043.7,771.5 1043.9,771.7 1044.2,771.4 1044.3,771.6 1044.4,771.4 1044.5,771.7 1044.8,771.5 1045,771.7 1045.5,771.5 1046.3,771.5 1046.5,771.7 1047.2,771.5 1047.3,771.7 1047.8,771.4 1047.9,771.6 1048.3,771.7 1048.4,771.5 1048.5,771.7 1049.2,771.6 1049.3,771.7 1049.4,771.4 1049.7,771.7 1050,771.4 1050.2,771.6 1050.4,771.5 1051.5,771.6 1051.7,771.5 1051.8,771.6 1053.3,771.4 1053.4,771.6 1053.5,771.4 1053.9,771.6 1054,771.4 1054.2,771.7 1054.3,771.4 1054.4,771.7 1054.7,771.5 1054.8,771.7 1055.3,771.5 1055.4,771.7 1056,771.4 1056.3,771.7 1056.4,771.5 1056.8,771.7 1057.8,771.4 1057.9,771.7 1058.3,771.4 1058.4,771.6 1058.7,771.4 1059.3,771.6 1059.9,771.5 1060.2,771.6 1060.3,771.4 1060.5,771.6 1060.7,771.5 1060.8,771.6 1061,771.4 1061.4,771.6 1061.7,771.5 1062.7,771.5 1062.8,771.6 1064.2,771.5 1064.3,771.6 1064.4,771.4 1064.5,771.6 1064.9,771.4 1065.2,771.5 1065.4,771.3 1065.5,771.5 1066.8,770.5 1067.3,769.5 1067.7,769.8 1068.3,771 1068.5,771 1068.9,771.4 1069.4,771.3 1069.7,771.5 1070.2,771.6 1071.3,771.5 1071.5,771.7 1072,771.4 1072.2,771.7 1072.3,771.4 1072.4,771.6 1072.5,771.4 1072.7,771.7 1072.9,771.4 1073.2,771.7 1073.3,771.4 1073.4,771.6 1074,771.6 1074.2,771.4 1074.4,771.6 1074.5,771.4 1075,771.7 1075.3,771.5 1075.4,771.7 1076,771.5 1076.2,771.7 1076.4,771.5 1078.5,771.6 1078.7,771.5 1078.8,771.6 1079.5,771.7 1080.3,771.4 1080.4,771.6 1080.5,771.5 1080.9,771.6 1081,771.5 1081.3,771.6 1081.4,771.5 1081.5,771.7 1081.7,771.4 1082.2,771.7 1082.3,771.4 1082.4,771.7 1083,771.5 1083.3,771.7 1083.9,771.7 1084,771.5 1084.2,771.6 1084.7,771.4 1084.8,771.6 1085.4,771.5 1085.5,771.7 1086.3,771.5 1086.4,771.6 1086.5,771.5 1086.7,771.6 1087.2,771.4 1087.5,771.7 1087.8,771.5 1088,771.6 1088.4,771.7 1088.5,771.5 1088.7,771.7 1088.8,771.5 1088.9,771.7 1089.2,771.6 1089.5,771.7 1090.4,771.4 1090.7,771.7 1091.4,771.6 1091.5,771.7 1091.7,771.5 1091.9,771.7 1092,771.5 1092.2,771.7 1092.4,771.4 1092.8,771.7 1093.2,771.5 1093.5,771.4 1093.7,771.7 1094,771.5 1094.2,771.7 1094.5,771.6 1094.7,771.7 1094.9,771.5 1096.3,771.7 1096.8,771.4 1097,771.7 1097.2,771.5 1097.8,771.6 1098.2,771.4 1098.3,771.6 1098.8,771.5 1098.9,771.7 1100.2,771.7 1100.4,771.4 1100.5,771.7 1101,771.5 1101.5,771.4 1101.9,771.7 1102.2,771.5 1102.8,771.7 1102.9,771.5 1103.2,771.7 1103.5,771.4 1104,771.7 1104.2,771.5 1104.4,771.6 1104.5,771.5 1104.7,771.6 1104.8,771.4 1105.5,771.5 1106,771.4 1106.2,771.6 1106.3,771.5 1106.4,771.7 1106.5,771.4 1106.7,771.6 1106.8,771.4 1107.2,771.7 1107.3,771.4 1107.5,771.7 1108,771.5 1108.2,771.6 1108.3,771.5 1109.2,771.6 1109.8,771.7 1109.9,771.5 1110,771.7 1110.8,771.5 1110.9,771.7 1111.9,771.5 1112.9,771.7 1113.4,771.4 1113.7,771.7 1113.8,771.5 1113.9,771.7 1115,771.5 1115.3,771.7 1116.7,771.5 1117,771.5 1117.2,771.7 1117.4,771.5 1117.5,771.7 1118.3,771.7 1118.8,771.4 1119.2,771.4 1119.3,771.6 1119.7,771.5 1121.7,771.7 1121.9,771.5 1122.7,771.7 1123,771.5 1123.5,771.7 1123.7,771.5 1123.8,771.7 1124.2,771.6 1124.3,771.7 1124.4,771.6 1124.5,771.7 1124.7,771.5 1125.4,771.7 1125.9,771.5 1126.7,771.5 1127,771.6 1127.2,771.5 1127.3,771.6 1127.4,771.5 1127.5,771.7 1127.8,771.4 1127.9,771.7 1129.4,771.5 1129.5,771.7 1129.8,771.5 1130.4,771.7 1130.7,771.5 1130.8,771.6 1131,771.5 1131.4,771.7 1131.5,771.5 1131.9,771.7 1132,771.5 1132.4,771.7 1132.5,771.5 1132.9,771.6 1133,771.4 1133.4,771.6 1133.5,771.5 1133.7,771.7 1133.9,771.4 1134,771.7 1134.2,771.5 1134.3,771.7 1134.4,771.6 1134.5,771.7 1134.7,771.5 1134.8,771.7 1134.9,771.6 1135.3,771.7 1135.5,771.5 1135.7,771.7 1136,771.7 1136.3,771.4 1136.7,771.7 1137.9,771.4 1138.8,771.6 1139.7,771.4 1139.8,771.7 1140,771.5 1140.2,771.7 1140.4,771.5 1140.9,771.7 1141,771.5 1141.7,771.7 1141.8,771.5 1141.9,771.7 1142.8,771.6 1142.9,771.5 1143.5,771.6 1143.8,771.5 1143.9,771.7 1144,771.5 1144.2,771.7 1144.3,771.4 1144.5,771.7 1144.9,771.5 1145.3,771.6 1145.4,771.5 1145.5,771.6 1145.8,771.5 1146.3,771.7 1146.4,771.5 1146.5,771.7 1146.8,771.5 1147.3,771.4 1147.9,771.5 1148.2,771.7 1148.3,771.5 1148.4,771.7 1148.5,771.5 1148.7,771.7 1148.8,771.5 1148.9,771.7 1149,771.4 1149.4,771.7 1149.7,771.5 1149.9,771.7 1150,771.5 1150.2,771.7 1150.3,771.6 1150.4,771.7 1150.8,771.5 1151,771.7 1151.2,771.5 1152,771.7 1152.3,771.5 1152.5,771.7 1152.7,771.5 1152.9,771.6 1153,771.5 1153.2,771.7 1153.3,771.6 1153.7,771.7 1153.9,771.4 1155,771.7 1155.3,771.5 1155.7,771.7 1155.9,771.5 1156.2,771.7 1156.4,771.5 1156.8,771.7 1156.9,771.5 1158.3,771.5 1158.4,771.7 1158.7,771.5 1158.9,771.7 1159.7,771.5 1160.5,771.5 1160.7,771.7 1160.8,771.5 1161,771.7 1161.2,771.5 1161.9,771.7 1162.2,771.5 1162.5,771.7 1162.7,771.5 1162.9,771.7 1163.2,771.6 1163.3,771.7 1163.4,771.5 1163.5,771.7 1163.9,771.5 1164,771.6 1164.2,771.4 1164.4,771.7 1164.5,771.5 1164.7,771.7 1165.5,771.7 1165.8,771.5 1166.2,771.7 1166.3,771.6 1166.4,771.7 1166.7,771.7 1166.8,771.5 1167.2,771.6 1167.3,771.5 1167.4,771.7 1168.2,771.5 1168.3,771.7 1168.4,771.6 1168.8,771.7 1169,771.5 1169.2,771.7 1169.7,771.4 1170.3,771.7 1170.5,771.5 1170.7,771.7 1170.9,771.5 1172,771.7 1172.8,771.5 1173.7,771.7 1174.2,771.5 1174.3,771.7 1174.5,771.5 1174.7,771.7 1174.8,771.5 1175.5,771.5 1175.7,771.7 1175.9,771.5 1176.2,771.7 1176.3,771.5 1176.8,771.7 1177,771.6 1177.3,771.7 1177.4,771.5 1178,771.7 1178.3,771.5 1178.4,771.7 1178.9,771.5 1179.2,771.6 1179.5,771.5 1179.7,771.7 1179.8,771.5 1179.9,771.6 1180,771.5 1180.8,771.7 1180.9,771.5 1181,771.7 1181.3,771.5 1182,771.7 1182.4,771.5 1182.8,771.7 1183.2,771.4 1183.9,771.7 1184.2,771.6 1184.3,771.7 1184.4,771.6 1185.5,771.5 1185.7,771.7 1185.9,771.5 1187.2,771.7 1187.4,771.5 1188.2,771.7 1188.3,771.5 1188.4,771.6 1188.5,771.5 1189.7,771.5 1189.9,771.6 1190.3,771.5 1190.5,771.7 1190.8,771.5 1190.9,771.7 1191,771.5 1191.7,771.7 1192.3,771.5 1192.4,771.7 1192.8,771.6 1193.4,771.7 1193.5,771.5 1193.7,771.7 1193.8,771.6 1194,771.7 1194.7,771.7 1194.8,771.5 1195.4,771.7 1195.5,771.5 1195.8,771.7 1196.3,771.5 1196.4,771.7 1196.5,771.4 1196.9,771.6 1197.7,771.5 1198.2,771.7 1198.4,771.5 1198.7,771.6 1198.8,771.5 1199.4,771.7 1199.5,771.5 1199.7,771.7 1200.8,771.5 1201.5,771.4 1201.7,771.6 1201.8,771.4 1202.2,771.6 1202.3,771.5 1202.8,771.6 1203,771.5 1203.3,771.7 1203.8,771.7 1204.2,771.4 1204.3,771.6 1204.4,771.5 1204.7,771.7 1204.8,771.6 1205.7,771.5 1206,771.7 1206.9,771.5 1207.7,771.7 1207.8,771.4 1207.9,771.6 1208.3,771.4 1209,771.5 1209.3,771.7 1209.4,771.5 1209.5,771.7 1210,771.5 1210.2,771.6 1210.4,771.6 1211.8,771.7 1212.2,771.5 1213,771.7 1213.2,771.5 1213.3,771.6 1213.8,771.7 1213.9,771.5 1214.7,771.7 1214.8,771.5 1215.4,771.7 1215.5,771.5 1215.8,771.7 1215.9,771.5 1216.9,771.5 1217,771.7 1217.4,771.6 1217.5,771.7 1217.7,771.5 1217.8,771.7 1217.9,771.5 1219,771.7 1219.4,771.5 1219.8,771.7 1221,771.5 1221.2,771.7 1221.3,771.4 1221.7,771.6 1221.9,771.4 1222.3,771.7 1222.8,771.5 1222.9,771.7 1223.2,771.6 1223.3,771.7 1223.4,771.5 1223.9,771.7 1224,771.6 1224.4,771.7 1224.5,771.6 1225.2,771.5 1225.4,771.6 1225.5,771.5 1226.2,771.7 1226.3,771.5 1226.5,771.7 1226.8,771.5 1227.3,771.5 1227.5,771.7 1227.7,771.5 1228.2,771.7 1228.5,771.5 1228.7,771.7 1228.8,771.5 1228.9,771.6 1229.5,771.7 1229.7,771.5 1229.8,771.7 1229.9,771.5 1230.7,771.7 1230.9,771.5 1231,771.7 1231.2,771.5 1231.3,771.7 1231.5,771.5 1231.7,771.7 1231.9,771.5 1232.7,771.6 1232.8,771.5 1232.9,771.7 1233.2,771.5 1234.7,771.6 1234.9,771.4 1235.4,771.6 1235.5,771.5 1235.9,771.7 1236.3,771.6 1236.4,771.7 1236.8,771.5 1237.2,771.7 1237.7,771.5 1237.8,771.7 1238.3,771.5 1240,771.5 1240.3,771.7 1240.4,771.5 1240.5,771.7 1240.7,771.5 1240.8,771.7 1240.9,771.5 1241,771.7 1241.3,771.5 1241.5,771.6 1241.7,771.4 1241.8,771.7 1242.2,771.6 1242.3,771.7 1242.4,771.5 1242.5,771.7 1242.7,771.5 1243.2,771.6 1243.9,771.5 1244,771.7 1244.7,771.6 1244.8,771.7 1244.9,771.5 1245.5,771.5 1245.9,771.7 1246.7,771.5 1246.8,771.7 1247.9,771.6 1248,771.5 1249.2,771.6 1249.5,771.7 1249.9,771.5 1250.4,771.7 1250.7,771.5 1250.9,771.7 1251,771.5 1251.2,771.6 1251.4,771.5 1253.2,771.5 1253.3,771.7 1253.9,771.5 1254,771.7 1254.2,771.5 1254.3,771.7 1255.5,771.7 1255.8,771.5 1256.9,771.7 1257.4,771.5 1257.7,771.7 1257.8,771.5 1258.3,771.5 1258.4,771.7 1258.7,771.5 1259,771.7 1259.4,771.7 1259.5,771.5 1260.3,771.7 1260.4,771.5 1260.7,771.7 1260.8,771.5 1261,771.7 1261.2,771.5 1261.4,771.7 1261.5,771.5 1261.8,771.6 1262.2,771.5 1262.3,771.6 1262.4,771.5 1262.8,771.7 1263,771.6 1263.3,771.7 1263.9,771.5 1264,771.7 1264.2,771.5 1264.3,771.7 1265.3,771.5 1265.4,771.7 1266.2,771.5 1266.3,771.7 1266.5,771.5 1266.8,771.7 1267,771.5 1267.3,771.7 1267.5,771.4 1267.7,771.7 1268.3,771.5 1269.5,771.7 1269.7,771.5 1269.9,771.7 1270.2,771.5 1270.9,771.7 1271,771.5 1271.2,771.7 1271.3,771.5 1271.4,771.7 1271.8,771.4 1272.5,771.7 1272.8,771.5 1272.9,771.7 1273,771.6 1273.3,771.7 1273.4,771.5 1273.5,771.7 1274.2,771.5 1274.8,771.7 1274.9,771.5 1275,771.6 1275.2,771.5 1275.3,771.7 1275.4,771.5 1275.5,771.7 1275.7,771.5 1276.4,771.7 1276.8,771.7 1277.9,771.5 1279.3,771.5 1279.4,771.7 1280.2,771.6 1280.3,771.5 1280.4,771.7 1281.3,771.5 1281.7,771.6 1281.9,771.5 1282.4,771.5 1282.7,771.7 1283.3,771.5 1283.4,771.7 1283.5,771.5 1283.7,771.7 1283.9,771.5 1284,771.7 1284.3,771.4 1284.4,771.7 1285.3,771.5 1285.5,771.7 1285.7,771.5 1285.8,771.7 1286.5,771.5 1286.7,771.7 1287.2,771.5 1287.3,771.7 1287.5,771.7 1287.7,771.5 1287.8,771.6 1288,771.5 1288.2,771.7 1288.5,771.6 1288.7,771.7 1289,771.5 1289.4,771.5 1289.7,771.7 1289.9,771.5 1290,771.7 1290.3,771.5 1290.8,771.6 1291,771.5 1292.8,771.5 1293.3,771.4 1293.7,771.7 1293.9,771.5 1294,771.7 1294.4,771.5 1295,771.7 1295.3,771.5 1295.4,771.7 1296.2,771.5 1296.3,771.7 1296.8,771.5 1297.4,771.5 1297.7,771.7 1298,771.4 1299,771.7 1299.3,771.5 1299.4,771.7 1299.9,771.5 1300,771.7 1300.4,771.6 1300.7,771.7 1300.8,771.4 1300.9,771.7 1302.3,771.6 1302.4,771.7 1302.7,771.5 1302.9,771.7 1303.2,771.5 1303.3,771.7 1303.4,771.5 1303.7,771.7 1303.8,771.5 1304.3,771.7 1304.5,771.5 1305,771.7 1305.2,771.5 1306.7,771.5 1306.8,771.7 1307.3,771.6 1307.4,771.7 1307.7,771.5 1308,771.5 1308.5,771.7 1309,771.5 1309.2,771.7 1309.7,771.6 1309.8,771.7 1309.9,771.5 1310.4,771.7 1310.7,771.5 1310.8,771.7 1311.7,771.6 1312.7,771.5 1312.9,771.7 1313.3,771.5 1313.4,771.7 1313.7,771.5 1313.8,771.7 1313.9,771.6 1314.4,771.7 1314.7,771.5 1315,771.7 1315.2,771.5 1315.4,771.7 1315.8,771.4 1315.9,771.7 1316,771.5 1316.2,771.7 1316.5,771.5 1316.7,771.7 1317.2,771.5 1317.3,771.7 1317.4,771.5 1317.7,771.7 1317.8,771.5 1318.2,771.7 1318.4,771.5 1318.5,771.7 1318.7,771.6 1318.8,771.7 1318.9,771.6 1319.3,771.7 1319.4,771.5 1319.7,771.6 1319.9,771.5 1320.4,771.7 1320.5,771.5 1320.9,771.7 1321.2,771.6 1321.5,771.7 1321.7,771.5 1321.9,771.4 1322.2,771.7 1323.2,771.5 1323.3,771.7 1323.4,771.5 1323.5,771.6 1323.7,771.5 1323.8,771.7 1323.9,771.5 1324,771.7 1324.2,771.5 1324.3,771.7 1324.5,771.5 1324.7,771.7 1325.2,771.7 1325.3,771.5 1325.5,771.7 1325.8,771.6 1326,771.7 1326.2,771.5 1326.4,771.5 1326.5,771.7 1326.7,771.5 1327,771.7 1327.5,771.5 1327.8,771.7 1328.2,771.5 1328.3,771.7 1328.5,771.5 1328.7,771.6 1328.8,771.5 1328.9,771.7 1329.2,771.5 1329.9,771.6 1330,771.7 1330.8,771.5 1330.9,771.6 1331.4,771.5 1332.8,771.7 1332.9,771.5 1333,771.7 1333.8,771.5 1334.8,771.7 1334.9,771.5 1335.3,771.7 1336.3,771.5 1336.4,771.7 1336.5,771.5 1336.9,771.5 1337,771.7 1337.2,771.5 1337.3,771.7 1338.3,771.5 1338.4,771.6 1338.5,771.5 1338.9,771.7 1339,771.5 1339.2,771.7 1339.3,771.5 1339.4,771.7 1339.8,771.6 1339.9,771.7 1340.2,771.5 1340.7,771.5 1340.8,771.7 1341.2,771.5 1341.5,771.7 1341.7,771.5 1342.8,771.7 1342.9,771.6 1343,771.7 1343.2,771.5 1343.7,771.7 1343.8,771.5 1343.9,771.7 1344.2,771.5 1344.4,771.6 1345.2,771.5 1346.3,771.6 1346.4,771.5 1346.5,771.7 1347.3,771.5 1347.5,771.7 1347.8,771.5 1347.9,771.7 1348.4,771.5" stroke="#4a4a4a" stroke-width="2.8" stroke-linejoin="round" clip-path="url(#cpB)"/>
<path d="M155.8,1236.8 L1348.6,1236.8 M157.3,1236.8 L157.3,1256 M488,1236.8 L488,1256 M818.7,1236.8 L818.7,1256 M1149.4,1236.8 L1149.4,1256 M322.6,1236.8 L322.6,1246.6 M653.3,1236.8 L653.3,1246.6 M984,1236.8 L984,1246.6 M1314.8,1236.8 L1314.8,1246.6" stroke="#080808" stroke-width="3.4"/>
</g>
<g fill="#141414" stroke="none">
<text x="493" y="385.8" font-size="23.2" textLength="17.1" lengthAdjust="spacingAndGlyphs">O</text>
<text x="493" y="528.6" font-size="23.2" textLength="17.1" lengthAdjust="spacingAndGlyphs">O</text>
<text x="412.2" y="527.6" font-size="23.2" textLength="33.9" lengthAdjust="spacingAndGlyphs">OH</text>
<text x="316.2" y="385.1" font-size="23.2" textLength="33" lengthAdjust="spacingAndGlyphs">HO</text>
<text x="693.1" y="312.8" font-size="23.2" textLength="33.3" lengthAdjust="spacingAndGlyphs">OH</text>
<text x="710.6" y="336.6" font-size="36" textLength="14.2" lengthAdjust="spacingAndGlyphs" fill="#3f8f2f">c</text>
<text x="316.8" y="418" font-size="36" textLength="15.8" lengthAdjust="spacingAndGlyphs" fill="#3f8f2f">b</text>
<text x="426.5" y="556.1" font-size="36" textLength="15.8" lengthAdjust="spacingAndGlyphs" fill="#3f8f2f">a</text>
<text x="344.5" y="569.4" font-size="36" textLength="15.8" lengthAdjust="spacingAndGlyphs" fill="#3f8f2f">a</text>
<text x="427.3" y="744.9" font-size="36" textLength="15.8" lengthAdjust="spacingAndGlyphs" fill="#3f8f2f">b</text>
<text x="506.9" y="729.5" font-size="36" textLength="14.2" lengthAdjust="spacingAndGlyphs" fill="#3f8f2f">c</text>
<text x="1138" y="374.5" font-size="37.8" textLength="59.3" lengthAdjust="spacingAndGlyphs">Nar</text>
<text x="338.6" y="955" font-size="25.5" textLength="18.8" lengthAdjust="spacingAndGlyphs">O</text>
<text x="338.6" y="1110.6" font-size="25.5" textLength="18.8" lengthAdjust="spacingAndGlyphs">O</text>
<text x="247.7" y="1109" font-size="25.5" textLength="38.4" lengthAdjust="spacingAndGlyphs">OH</text>
<text x="252.7" y="1135" font-size="36" textLength="15.8" lengthAdjust="spacingAndGlyphs" fill="#3f8f2f">a</text>
<text x="155.7" y="954.8" font-size="25.5" textLength="18.8" lengthAdjust="spacingAndGlyphs">O</text>
<text x="109.2" y="877.2" font-size="25.5" textLength="18.8" lengthAdjust="spacingAndGlyphs">O</text>
<text x="236.7" y="892.1" font-size="25.5" textLength="18.8" lengthAdjust="spacingAndGlyphs">O</text>
<text x="338.2" y="847.7" font-size="25.5" textLength="18.8" lengthAdjust="spacingAndGlyphs">O</text>
<text x="564.5" y="876.8" font-size="25.5" textLength="18.8" lengthAdjust="spacingAndGlyphs">O</text>
<text x="609.9" y="956.2" font-size="25.5" textLength="18.8" lengthAdjust="spacingAndGlyphs">O</text>
<text x="704.2" y="904.9" font-size="25.5" textLength="18.8" lengthAdjust="spacingAndGlyphs">O</text>
<text x="813.8" y="867.8" font-size="25.5" textLength="18.8" lengthAdjust="spacingAndGlyphs">O</text>
<text x="376.5" y="894.9" font-size="24" textLength="12.4" lengthAdjust="spacingAndGlyphs" font-family='"Liberation Serif", "Times New Roman", serif'>n</text>
<text x="847.7" y="907.8" font-size="24" textLength="11.7" lengthAdjust="spacingAndGlyphs" font-family='"Liberation Serif", "Times New Roman", serif'>n</text>
<text x="202.6" y="854.8" font-size="36" textLength="15.8" lengthAdjust="spacingAndGlyphs" fill="#3f8f2f">d</text>
<text x="295.1" y="847.3" font-size="36" textLength="15.8" lengthAdjust="spacingAndGlyphs" fill="#3f8f2f">e</text>
<text x="320.1" y="847.3" font-size="36" textLength="7.9" lengthAdjust="spacingAndGlyphs" fill="#3f8f2f">f</text>
<text x="381.9" y="851.1" font-size="36" textLength="15.8" lengthAdjust="spacingAndGlyphs" fill="#3f8f2f">g</text>
<text x="642.9" y="864.3" font-size="36" textLength="15.8" lengthAdjust="spacingAndGlyphs" fill="#3f8f2f">d</text>
<text x="765.4" y="854.4" font-size="36" textLength="15.8" lengthAdjust="spacingAndGlyphs" fill="#3f8f2f">e</text>
<text x="790.8" y="854.4" font-size="36" textLength="7.9" lengthAdjust="spacingAndGlyphs" fill="#3f8f2f">f</text>
<text x="861.4" y="869.3" font-size="36" textLength="15.8" lengthAdjust="spacingAndGlyphs" fill="#3f8f2f">g</text>
<text x="873.1" y="962.2" font-size="36" textLength="15.8" lengthAdjust="spacingAndGlyphs" fill="#3f8f2f">e</text>
<text x="898.1" y="962.2" font-size="36" textLength="7.9" lengthAdjust="spacingAndGlyphs" fill="#3f8f2f">f</text>
<text x="939.4" y="1093.4" font-size="36" textLength="15.8" lengthAdjust="spacingAndGlyphs" fill="#3f8f2f">g</text>
<text x="865.1" y="1164.9" font-size="36" textLength="15.8" lengthAdjust="spacingAndGlyphs" fill="#3f8f2f">d</text>
<text x="344.1" y="1181.2" font-size="36" textLength="15.8" lengthAdjust="spacingAndGlyphs" fill="#3f8f2f">a</text>
<text x="1108" y="908.1" font-size="37.8" textLength="148.1" lengthAdjust="spacingAndGlyphs">PEG-Nar</text>
<text x="135.6" y="1301" font-size="40.5" textLength="43.7" lengthAdjust="spacingAndGlyphs">15</text>
<text x="466.3" y="1301" font-size="40.5" textLength="43.7" lengthAdjust="spacingAndGlyphs">10</text>
<text x="808.3" y="1301" font-size="40.5" textLength="21.8" lengthAdjust="spacingAndGlyphs">5</text>
<text x="1138.9" y="1301" font-size="40.5" textLength="21.8" lengthAdjust="spacingAndGlyphs">0</text>
<text x="523.6" y="1341.5" font-size="37.5" textLength="344.1" lengthAdjust="spacingAndGlyphs">Chemical Shift (ppm)</text>
<text x="2.4" y="304.9" font-size="44" textLength="29.8" lengthAdjust="spacingAndGlyphs" font-weight="bold" fill="#000">B</text>
</g>
<g fill="none" stroke="#141414" stroke-linecap="butt" stroke-linejoin="miter">
<path d="M79.5,1631 L672.5,1631 M79.5,1781.6 L672.5,1781.6" stroke="#fbf6e6" stroke-width="1.4"/>
<path d="M79.4,1483.6 132.8,1483.6 143.9,1488.2 157.1,1492.7 170.3,1492.7 183.6,1489.8 201.2,1488 218.9,1487.1 241,1487.4 246.5,1490.9 249.4,1498.6 253.1,1500.8 256,1511.9 258.6,1543.9 261.3,1558.6 264.1,1548.3 266.3,1532.8 268.6,1514.1 273,1508.6 275.8,1503 278.5,1495.3 281.8,1492 283.3,1493.1 285.1,1495.3 287.3,1490.9 289.1,1489.4 291.3,1490.9 296.1,1487.6 309.4,1486.5 335.9,1483.8 353.5,1484.9 369,1482.3 378.8,1481.6 387.7,1482.1 392.1,1483.8 405.3,1483.4 415.2,1487.6 423,1483.2 436.2,1483.2 445,1484.3 448.3,1487.6 450.6,1498.6 453.4,1513 456.1,1504.1 459.4,1493.1 462.7,1488.2 467.1,1489.1 470.4,1487.6 478.1,1483.8 489.2,1482.5 493.6,1484.3 495.4,1488.7 496.9,1515.2 498.4,1527.3 500.6,1510.8 502.4,1493.1 504.6,1489.8 506.8,1494.2 510.1,1491.6 513.4,1492.7 514.6,1493.1 515.7,1510.8 516.8,1521.8 517.4,1515.2 518.3,1543.9 519.2,1562 520.1,1537.2 521,1504.1 522.3,1495.3 524.5,1494.2 526.7,1497.5 528,1521.8 529.3,1542.1 530.7,1526.2 531.8,1504.1 533.3,1501.9 534.4,1515.2 536,1532.8 537.3,1517.4 538.8,1501.9 542.1,1500.4 545.4,1499.7 548.8,1508.6 550.5,1526.2 551.8,1548.3 553.2,1530.6 554.3,1529.5 555.4,1548.3 557.1,1592.4 558.9,1628.2 561.1,1614.5 563.1,1592.4 564.2,1590.6 565.5,1601.2 566.4,1583.6 568.6,1552.7 570.8,1543.9 574.1,1524 577.4,1511.9 579.7,1507.4 581,1526.2 582.3,1563.7 584.1,1587.3 585.8,1574.8 588,1543.9 590.7,1524 594,1513 596.9,1510.3 599.5,1519.6 601.3,1548.3 602.8,1578.7 604.4,1548.3 606.1,1519.6 608.3,1508.6 612.8,1502.4 617.2,1502.4 623.8,1504.6 630.4,1507.4 639.2,1512.5 648.1,1515.2 652.5,1516.9 653.6,1528.4 654.7,1537.2 656.5,1531.7 658.2,1528.4 660.2,1520.7 663.5,1517.4 668.4,1516.3" stroke="#4c7d22" stroke-width="1.6" stroke-linejoin="round"/>
<path d="M79.4,1633.2 119.6,1633 148.3,1633.2 159.3,1635.4 170.3,1639.1 181.4,1645.8 188,1653 192.4,1659 196.8,1662.1 209,1662.1 214.5,1666.3 220,1670.7 223.8,1674.4 227.7,1672.2 229.9,1671.4 232.1,1674.4 234.3,1675.1 236.6,1678 239.2,1674 242.1,1669.6 245.4,1668.5 247.6,1669.1 250.9,1664.1 252.4,1665.2 254.6,1669.1 257.5,1667.8 260.8,1663 264.1,1659.7 266.3,1660.8 268.6,1666.3 270.1,1669.1 273,1665.2 276.3,1661.2 278.5,1659.9 280.7,1661.2 283.3,1659.7 286.2,1661.2 289.5,1663.4 291.7,1664.7 293.9,1661.2 297.2,1657.4 302.8,1657.4 305,1659 308.3,1656.3 316,1649.7 320.4,1650.2 321.5,1648.8 324.8,1649.7 333.7,1645.8 342.5,1643.1 351.3,1642 355.7,1643.1 369,1640.5 370,1640.9 376.6,1638.7 379.9,1636 384.3,1634.3 389.9,1637.6 403.1,1637.6 407.5,1635.4 410.8,1636.5 415.2,1633.8 425.2,1636.9 429.6,1634.7 440.6,1633.2 462.7,1632.7 465.3,1637.6 467.1,1649.7 468.4,1682.8 469.8,1711.5 471.5,1727 473.3,1724.8 474.8,1742.4 477.3,1755.2 479.5,1742.4 481.4,1713.7 483.7,1687.2 485.9,1667.4 487.4,1659 488.5,1682.8 489.6,1713.7 490.9,1702.7 492.7,1718.1 494,1713.7 495.4,1700.5 496.7,1698.3 498,1713.7 499.3,1724.8 500.6,1711.5 502.4,1693.9 503.7,1690.6 505.5,1698.3 506.8,1695 508.2,1692.1 509.9,1702.7 511.7,1708.9 513.4,1696.1 515.2,1687.7 516.5,1687.2 518.3,1697.2 519.6,1706 521,1698.3 521.8,1696.1 523.2,1720.3 524.9,1739.8 526.7,1720.3 528.5,1698.3 530.2,1693.9 531.5,1707.1 533.3,1742.4 535.5,1760.1 537.7,1733.6 539.9,1707.1 541.7,1680.6 543.5,1667.8 544.8,1687.2 546.1,1720.3 547.2,1746.8 548.3,1715.9 549.2,1718.1 550.1,1753.4 551,1779.9 552.3,1753.4 553.6,1720.3 555.4,1704.9 557.6,1698.3 558.9,1685 559.8,1678.9 561.1,1702.7 562.4,1729.2 563.8,1740.2 564.9,1735.8 566,1744.2 567.5,1729.2 569.7,1707.1 571.3,1693.9 572.2,1690.6 573.5,1707.1 574.4,1712 575.7,1698.3 577.4,1682.8 578.8,1679.5 580.1,1693.9 581.4,1702.7 583.2,1687.2 585,1676.2 586.7,1674 588.9,1665.2 590.7,1659.7 592.5,1655.2 593.3,1676.2 594.7,1698.3 596,1687.2 597.3,1674 598.6,1672.9 599.5,1667.4 600.6,1663 601.7,1687.2 602.8,1724.8 603.9,1751.2 604.8,1762.7 606.1,1746.8 607.5,1724.8 609.7,1715.9 611.9,1702.7 614.1,1694.3 615,1709.3 616.3,1725.9 617.6,1704.9 618.9,1688.3 619.8,1709.3 621.1,1738 622.5,1751.2 623.8,1733.6 625.6,1713.7 627.3,1701.6 629.5,1698.3 630.9,1715.9 632.2,1725.2 633.5,1715.9 634.8,1707.1 636.2,1704.5 637.5,1713.7 639.2,1719.2 641,1730.3 642.8,1715.9 644.5,1698.3 646.3,1686.8 647.6,1698.3 649,1733.6 650.3,1754.6 651.6,1724.8 652.5,1710.4 653.4,1742.4 654.7,1776 656,1753.4 657.3,1733.6 658.7,1723.7 659.5,1720.3 660.4,1738 661.8,1752.3 663.1,1733.6 664,1713.7 665.3,1704.9 666.6,1704.5 667.9,1713.7" stroke="#1c1cf0" stroke-width="1.8" stroke-linejoin="round"/>
<path d="M79.4,1787.2 132.8,1787.2 135,1788.5 148.3,1790.3 160.4,1791.6 241,1791.4 245.4,1793.8 249.4,1802 253.1,1804.2 256,1814.1 258.6,1838.4 261.3,1851 264.1,1845 266.3,1834 268.6,1817.4 273,1811.9 275.8,1805.3 278.5,1799.8 281.8,1796.5 283.3,1796.9 285.1,1798.7 287.3,1795.4 291.7,1794.9 296.1,1791.6 309.4,1790.5 335.9,1788.8 349.1,1788.1 351.3,1787.2 353.5,1788.8 366.8,1788.8 370,1788.1 378.8,1785.4 385.4,1784.6 392.1,1787.2 403.1,1787.7 407.5,1785.9 413,1789.4 423,1786.6 436.2,1785.9 448.3,1786.8 450.6,1789.9 452.1,1796.5 453.4,1800.5 455.6,1795.4 458.3,1793.2 460.9,1793.8 463.8,1790.3 466,1793.2 468.9,1799.8 471.5,1798.2 474.8,1799.1 479.2,1800.5 483.7,1797.6 488.1,1793.2 492.5,1791.2 494.7,1792.1 495.8,1803.1 497.1,1820.8 498.7,1829.1 500.2,1818.6 502,1805.3 503.7,1798.7 506.4,1799.8 509,1797.6 513.4,1796.5 514.8,1800.9 515.7,1814.1 516.5,1823 517.4,1814.1 518.3,1847.2 519.2,1872.6 520.1,1836.2 521,1809.7 521.8,1797.6 524.5,1798.2 526.7,1800.9 528,1823 529.3,1845 530.7,1829.6 531.8,1807.5 533.3,1804.2 534.4,1814.1 536,1828.5 537.3,1816.3 538.8,1800.9 542.1,1797.6 545.4,1799.8 548.8,1807.5 550.5,1827.4 551.8,1846.8 553.2,1829.6 554.3,1829.1 555.4,1847.2 557.1,1884.8 558.9,1920.1 560.2,1930.7 561.6,1920.1 563.1,1893.6 564.2,1881.4 565.5,1890.3 566.4,1873.7 568.6,1842.8 570.8,1834 574.1,1814.1 577.4,1803.1 579.7,1801.6 581,1825.2 582.3,1862.7 583.6,1880.3 585.2,1867.1 587.4,1836.2 590.2,1811.9 592.9,1799.8 596.2,1797.6 599.1,1807.5 600.8,1842.8 602.8,1875.9 604.4,1845 606.1,1814.1 608.8,1800.9 612.8,1791.6 619.4,1789.9 627.1,1789.4 632.6,1793.8 638.1,1792.1 643.7,1791.2 649.2,1793.2 652.5,1794.7 653.6,1806.4 654.7,1813 656.5,1805.3 658.7,1796.5 661.3,1791 664.6,1788.1 667.5,1787.7 668.4,1789.9" stroke="#dc1418" stroke-width="1.7" stroke-linejoin="round"/>
<rect x="133.9" y="1479" width="114.8" height="434.9" fill="#22c8ee" fill-opacity="0.32" stroke="none"/>
<rect x="77.4" y="1478.1" width="597.4" height="455" stroke="#000" stroke-width="4.2"/>
</g>
<g fill="#141414" stroke="none">
<g fill="#000" stroke="#000" stroke-width="0.35">
<text x="62" y="1952.2" font-size="16.8" textLength="18.7" lengthAdjust="spacingAndGlyphs" fill="#222">4000</text>
<text x="145" y="1952.2" font-size="16.8" textLength="18.7" lengthAdjust="spacingAndGlyphs" fill="#222">3500</text>
<text x="228.6" y="1952.2" font-size="16.8" textLength="18.7" lengthAdjust="spacingAndGlyphs" fill="#222">3000</text>
<text x="311.9" y="1952.2" font-size="16.8" textLength="18.7" lengthAdjust="spacingAndGlyphs" fill="#222">2500</text>
<text x="395.9" y="1952.2" font-size="16.8" textLength="18.7" lengthAdjust="spacingAndGlyphs" fill="#222">2000</text>
<text x="479.1" y="1952.2" font-size="16.8" textLength="18.7" lengthAdjust="spacingAndGlyphs" fill="#222">1500</text>
<text x="562.9" y="1952.2" font-size="16.8" textLength="18.7" lengthAdjust="spacingAndGlyphs" fill="#222">1000</text>
<text x="646.3" y="1952.2" font-size="16.8" textLength="14" lengthAdjust="spacingAndGlyphs" fill="#222">500</text>
<text x="291.6" y="1590.3" font-size="34.5" textLength="180.9" lengthAdjust="spacingAndGlyphs">mPEG-COOH</text>
<text x="352.3" y="1747.6" font-size="34.5" textLength="48.9" lengthAdjust="spacingAndGlyphs">Nar</text>
<text x="317.6" y="1864.4" font-size="34.5" textLength="119.8" lengthAdjust="spacingAndGlyphs">PEG-Nar</text>
<text x="249.6" y="1987.4" font-size="34" textLength="252.2" lengthAdjust="spacingAndGlyphs">Wavenumber (cm<tspan font-size="17" dy="-11.5">-1</tspan><tspan dy="11.5">)</tspan></text>
<text transform="translate(36.8 1822) rotate(-90)" x="-0.7" y="0" font-size="34.8" textLength="238.5" lengthAdjust="spacingAndGlyphs">Transmittance (%)</text>
<text x="2.7" y="1458.1" font-size="44" textLength="28.4" lengthAdjust="spacingAndGlyphs" font-weight="bold">C</text>
</g>
</g>
<g fill="none" stroke="#141414" stroke-linecap="butt" stroke-linejoin="miter">
<path d="M900.3,1776.2 900.5,1776.2 900.8,1776.1 901.2,1776.4 901.6,1777.8 901.9,1780.5 902.2,1784.2 902.5,1788.4 902.9,1792.7 903.3,1797.6 903.8,1803.1 904.3,1808.1 904.9,1811.8 905.5,1813.5 906.1,1813.9 906.7,1813.6 907.4,1813.4 908.1,1813.4 909,1813.2 909.8,1812.7 910.7,1811.8 911.5,1810.4 912.3,1808.8 913.1,1806.7 914,1804.3 915,1801.6 916,1798.6 917,1795.1 918.1,1791.1 919.3,1786.4 920.6,1781.2 921.8,1775.6 923.1,1769.6 924.3,1763.1 925.6,1756.2 926.8,1749 928.1,1741.4 929.3,1733.6 930.6,1725.4 931.8,1716.9 933,1708.3 934.3,1699.3 935.5,1689.9 936.8,1680.6 938,1671.9 939.2,1663.9 940.5,1656.5 941.7,1649.3 943,1642.1 944.2,1634.8 945.4,1627.4 946.7,1620.4 947.9,1614 949.2,1608.2 950.5,1602.8 951.7,1598.1 952.9,1594.1 954,1590.9 955.1,1588.5 956.1,1586.6 957,1585 957.9,1583.8 958.7,1583 959.5,1582.5 960.3,1582.2 961.2,1581.9 962,1581.7 962.8,1581.7 963.7,1582.2 964.5,1582.9 965.3,1583.9 966.1,1585.4 967,1587.5 968,1590.5 969,1594.1 970.1,1598.2 971.1,1602.4 972,1606.5 972.8,1610.9 973.6,1615.5 974.4,1620.6 975.2,1626.2 976.1,1632.4 976.9,1638.8 977.7,1645.4 978.6,1652.2 979.4,1659.3 980.2,1666.4 981,1673.6 981.9,1680.7 982.7,1687.8 983.5,1694.9 984.3,1701.7 985.2,1708.2 986,1714.6 986.8,1720.7 987.7,1726.5 988.5,1731.9 989.3,1737.1 990.1,1741.9 991,1746.4 991.8,1750.5 992.6,1754.3 993.4,1757.9 994.3,1761.3 995.1,1764.5 995.9,1767.5 996.8,1770.3 997.6,1772.9 998.4,1775.2 999.1,1777.2 1000,1779.1 1000.9,1781.1 1002,1783.3 1003.3,1785.5 1004.6,1787.6 1005.9,1789.4 1007.1,1790.9 1008.3,1792.3 1009.6,1793.4 1010.8,1794.4 1012.1,1795.2 1013.3,1795.8 1014.6,1796.3 1015.8,1796.9 1017.1,1797.5 1018.3,1798.1 1019.6,1798.7 1020.8,1799.3 1021.9,1800 1023,1800.7 1024,1801.4 1024.9,1801.8 1025.6,1802 1026.2,1801.9 1026.7,1801.8 1027.4,1801.8 1028.1,1802.1 1028.9,1802.5 1029.7,1803 1030.7,1803.5 1031.9,1804 1033.2,1804.7 1034.5,1805.3 1035.7,1806 1036.6,1806.6 1037.3,1807.2 1038.1,1807.8 1039,1808.4 1040.1,1809.2 1041.3,1809.9 1042.7,1810.8 1043.9,1811.8 1045.2,1813 1046.4,1814.3 1047.7,1815.8 1048.9,1817.2 1050.1,1818.7 1051.4,1820.3 1052.6,1821.8 1053.9,1823.3 1055.1,1824.8 1056.3,1826.3 1057.6,1827.8 1058.8,1829.1 1060.1,1830.4 1061.3,1831.7 1062.6,1832.9 1063.8,1834.1 1065,1835.3 1066.3,1836.6 1067.5,1837.8 1068.8,1839.1 1070,1840.4 1071.2,1841.8 1072.5,1843.1 1073.7,1844.4 1075,1845.4 1076.2,1846.4 1077.4,1847.3 1078.7,1848.2 1079.9,1849 1081.2,1849.9 1082.4,1850.7 1083.7,1851.5 1084.9,1852.3 1086.1,1853.1 1087.3,1854 1088.6,1854.8 1090,1855.7 1091.6,1856.7 1093.1,1857.5 1094.4,1858.1 1095.5,1858.3 1096.5,1858.2 1097.5,1858.1 1098.6,1858.1 1099.7,1858.4 1100.9,1858.9 1102.1,1859.4 1103.5,1859.8 1105.1,1860 1106.7,1860.3 1108.4,1860.5 1110.1,1860.6 1111.8,1860.6 1113.6,1860.6 1115.2,1860.5 1116.8,1860.6 1118.1,1860.8 1119.3,1861.1 1120.5,1861.3 1121.7,1861.4 1122.6,1861.3 1123.2,1861 1124.3,1860.7 1126.7,1860.6 1130.9,1860.8 1136.3,1861.2 1142.3,1861.7 1148.3,1862.1 1154.1,1862.3 1160.2,1862.4 1166.3,1862.6 1172.4,1862.8 1178.6,1863.1 1184.9,1863.4 1191,1863.7 1196.6,1864 1201.3,1864.2 1205.5,1864.3 1209.4,1864.4 1213.4,1864.5 1217.7,1864.5 1222,1864.6 1226.3,1864.6 1230.3,1864.5 1233.9,1864.3 1237.1,1864 1240.6,1863.6 1244.8,1863.3 1250.2,1863 1256.3,1862.7 1262.7,1862.5 1269,1862.1 1275,1861.5 1281,1860.9 1287.1,1860.2 1293.1,1859.7 1299.1,1859.3 1305.1,1858.9 1311.1,1858.7 1317.2,1858.4 1324.1,1858.2 1331.4,1858 1338,1857.8 1342.6,1857.7" stroke="#333" stroke-width="3" stroke-linejoin="round"/>
<path d="M900.3,1807.2 900.5,1808.7 900.9,1811 901.3,1813.2 901.9,1814.7 902.7,1815 903.7,1814.8 904.8,1814.3 905.7,1814.2 906.5,1814.5 907.3,1815.1 908.1,1815.8 909,1816.3 910.2,1816.8 911.4,1817.2 912.7,1817.5 914,1817.6 915.3,1817.6 916.5,1817.5 917.8,1817.2 919,1816.8 920.1,1816.5 921.1,1816.1 922.1,1815.5 923.1,1814.7 924.1,1813.6 925.2,1812.3 926.2,1810.7 927.2,1808.9 928.3,1806.7 929.3,1804.3 930.3,1801.6 931.4,1798.9 932.4,1796.2 933.4,1793.3 934.5,1790.3 935.5,1787.4 936.5,1784.4 937.5,1781.5 938.6,1778.6 939.7,1775.8 940.8,1773.2 942.1,1770.7 943.4,1768.3 944.6,1765.8 945.9,1763.4 947.1,1760.9 948.3,1758.4 949.6,1755.9 950.8,1753.4 952.1,1750.9 953.3,1748.4 954.6,1746 955.8,1743.5 957.1,1741.1 958.3,1738.8 959.5,1736.9 960.6,1735.4 961.6,1734.3 962.6,1733.4 963.7,1732.7 964.7,1732.2 965.8,1731.9 966.8,1731.8 967.8,1731.9 968.7,1732.2 969.5,1732.8 970.3,1733.5 971.1,1734.4 971.9,1735.3 972.7,1736.4 973.5,1737.7 974.4,1739.4 975.4,1741.5 976.4,1744.1 977.5,1746.8 978.6,1749.3 979.6,1751.5 980.6,1753.5 981.6,1755.5 982.7,1757.6 983.9,1759.9 985.1,1762.3 986.4,1764.6 987.7,1766.7 988.9,1768.4 990.1,1769.8 991.4,1771.1 992.6,1772.5 993.9,1773.8 995.1,1775.2 996.3,1776.4 997.6,1777.4 998.8,1778.3 1000.1,1778.9 1001.3,1779.5 1002.6,1779.9 1003.8,1780.3 1005,1780.5 1006.3,1780.7 1007.5,1780.7 1008.8,1780.7 1010,1780.5 1011.2,1780.3 1012.5,1779.9 1013.7,1779.4 1015,1778.7 1016.2,1778.1 1017.4,1777.4 1018.7,1776.9 1019.9,1776.4 1021.2,1776 1022.4,1775.4 1023.7,1774.8 1024.9,1774.1 1026.1,1773.4 1027.4,1772.8 1028.6,1772.3 1029.9,1771.8 1031.1,1771.3 1032.3,1770.8 1033.6,1770.2 1034.8,1769.4 1036.1,1768.7 1037.3,1768.3 1038.6,1768.2 1039.8,1768.3 1041,1768.5 1042.3,1768.8 1043.5,1769.2 1044.8,1769.6 1046,1770.1 1047.2,1770.8 1048.5,1771.7 1049.7,1772.6 1051,1773.7 1052.2,1774.9 1053.4,1776.3 1054.7,1777.7 1055.9,1779.3 1057.2,1780.7 1058.4,1782.2 1059.7,1783.6 1060.9,1785 1062.1,1786.5 1063.4,1788.1 1064.6,1789.7 1065.9,1791.4 1067.1,1793.2 1068.3,1795.1 1069.6,1797.1 1070.8,1799.2 1072.1,1801.4 1073.3,1803.8 1074.6,1806.3 1075.8,1808.8 1077,1811.4 1078.3,1813.9 1079.5,1816.4 1080.8,1818.9 1082,1821.3 1083.2,1823.7 1084.5,1826.1 1085.7,1828.3 1087,1830.4 1088.2,1832.2 1089.4,1833.8 1090.7,1835.2 1091.9,1836.7 1093.2,1838.1 1094.4,1839.6 1095.7,1840.9 1096.9,1842 1098.1,1842.8 1099.3,1843.4 1100.5,1843.9 1101.9,1844.5 1103.4,1845 1105.1,1845.6 1106.8,1846.2 1108.5,1846.6 1110.1,1847 1111.8,1847.3 1113.4,1847.5 1115.1,1847.8 1116.7,1848.1 1118.4,1848.4 1120,1848.7 1121.7,1848.9 1123.2,1848.9 1124.6,1848.8 1126.3,1848.7 1129,1848.8 1132.8,1849.2 1137.6,1849.8 1142.8,1850.5 1148.3,1851.2 1154,1852 1160,1852.8 1166.3,1853.6 1172.4,1854.3 1178.7,1855 1185.2,1855.6 1191.4,1856.2 1196.6,1856.8 1200.3,1857.3 1203,1857.7 1205.5,1858.1 1208.6,1858.4 1212.4,1858.7 1216.6,1858.9 1221,1859.1 1225.5,1859.2 1230.1,1859.2 1234.7,1859.3 1239.6,1859.2 1244.8,1859.2 1250.5,1859.1 1256.6,1858.9 1262.8,1858.7 1269,1858.4 1275,1858.2 1281,1857.8 1287.1,1857.5 1293.1,1857.2 1299.1,1857.1 1305.1,1856.9 1311.1,1856.8 1317.2,1856.8 1324.1,1856.7 1331.4,1856.7 1338,1856.7 1342.6,1856.8" stroke="#6af4fa" stroke-width="3.5" stroke-linejoin="round"/>
<path d="M899.2,1474 L899.2,1906.6 M897.7,1905.2 L1434,1905.2 M889.5,1858.3 L899.2,1858.3 M889.5,1762.6 L899.2,1762.6 M889.5,1666.9 L899.2,1666.9 M889.5,1571.2 L899.2,1571.2 M889.5,1475.5 L899.2,1475.5 M894.3,1906.1 L899.2,1906.1 M894.3,1810.5 L899.2,1810.5 M894.3,1714.8 L899.2,1714.8 M894.3,1619 L899.2,1619 M894.3,1523.3 L899.2,1523.3 M979.7,1905.2 L979.7,1913.4 M1070.3,1905.2 L1070.3,1913.4 M1160.8,1905.2 L1160.8,1913.4 M1251.4,1905.2 L1251.4,1913.4 M1341.9,1905.2 L1341.9,1913.4 M1432.5,1905.2 L1432.5,1913.4" stroke="#000" stroke-width="3.1"/>
<rect x="1173.6" y="1495.1" width="191.4" height="73" rx="1.5" stroke="#4a4a4a" stroke-width="1.5"/>
<path d="M1178.5,1514.1 L1239.3,1514.1" stroke="#333" stroke-width="5.2" stroke-linecap="round"/>
<path d="M1178.5,1548.7 L1239.3,1548.7" stroke="#6af4fa" stroke-width="5.4" stroke-linecap="round"/>
</g>
<g fill="#141414" stroke="none">
<g fill="#000" stroke="#000" stroke-width="0.3">
<text x="858.8" y="1863.6" font-size="17.6" textLength="26.2" lengthAdjust="spacingAndGlyphs" font-weight="bold">0.0</text>
<text x="858.8" y="1767.9" font-size="17.6" textLength="26.2" lengthAdjust="spacingAndGlyphs" font-weight="bold">0.2</text>
<text x="858.9" y="1672.2" font-size="17.6" textLength="25.5" lengthAdjust="spacingAndGlyphs" font-weight="bold">0.4</text>
<text x="858.8" y="1576.5" font-size="17.6" textLength="26.1" lengthAdjust="spacingAndGlyphs" font-weight="bold">0.6</text>
<text x="858.9" y="1480.8" font-size="17.6" textLength="26" lengthAdjust="spacingAndGlyphs" font-weight="bold">0.8</text>
<text x="965.4" y="1934" font-size="18.4" textLength="29.8" lengthAdjust="spacingAndGlyphs" font-weight="bold">300</text>
<text x="1055.9" y="1934" font-size="18.4" textLength="29.8" lengthAdjust="spacingAndGlyphs" font-weight="bold">350</text>
<text x="1146.6" y="1934" font-size="18.4" textLength="29.8" lengthAdjust="spacingAndGlyphs" font-weight="bold">400</text>
<text x="1237.1" y="1934" font-size="18.4" textLength="29.8" lengthAdjust="spacingAndGlyphs" font-weight="bold">450</text>
<text x="1327.5" y="1934" font-size="18.4" textLength="29.8" lengthAdjust="spacingAndGlyphs" font-weight="bold">500</text>
<text x="1418.1" y="1934" font-size="18.4" textLength="29.8" lengthAdjust="spacingAndGlyphs" font-weight="bold">550</text>
<text x="1246.4" y="1524" font-size="28.7" textLength="46.9" lengthAdjust="spacingAndGlyphs">Nar</text>
<text x="1247.2" y="1558.1" font-size="28.7" textLength="114.3" lengthAdjust="spacingAndGlyphs">PEG-Nar</text>
<text x="1047.8" y="1986.9" font-size="34" textLength="252.4" lengthAdjust="spacingAndGlyphs">Wavenumber (cm<tspan font-size="17" dy="-11.5">-1</tspan><tspan dy="11.5">)</tspan></text>
<text transform="translate(822.6 1794.6) rotate(-90)" x="-0.1" y="0" font-size="35.5" textLength="155.3" lengthAdjust="spacingAndGlyphs">Absorbance</text>
<text x="800.3" y="1458.5" font-size="44" textLength="29.4" lengthAdjust="spacingAndGlyphs" font-weight="bold">D</text>
</g>
</g>
</svg>
</body></html>
